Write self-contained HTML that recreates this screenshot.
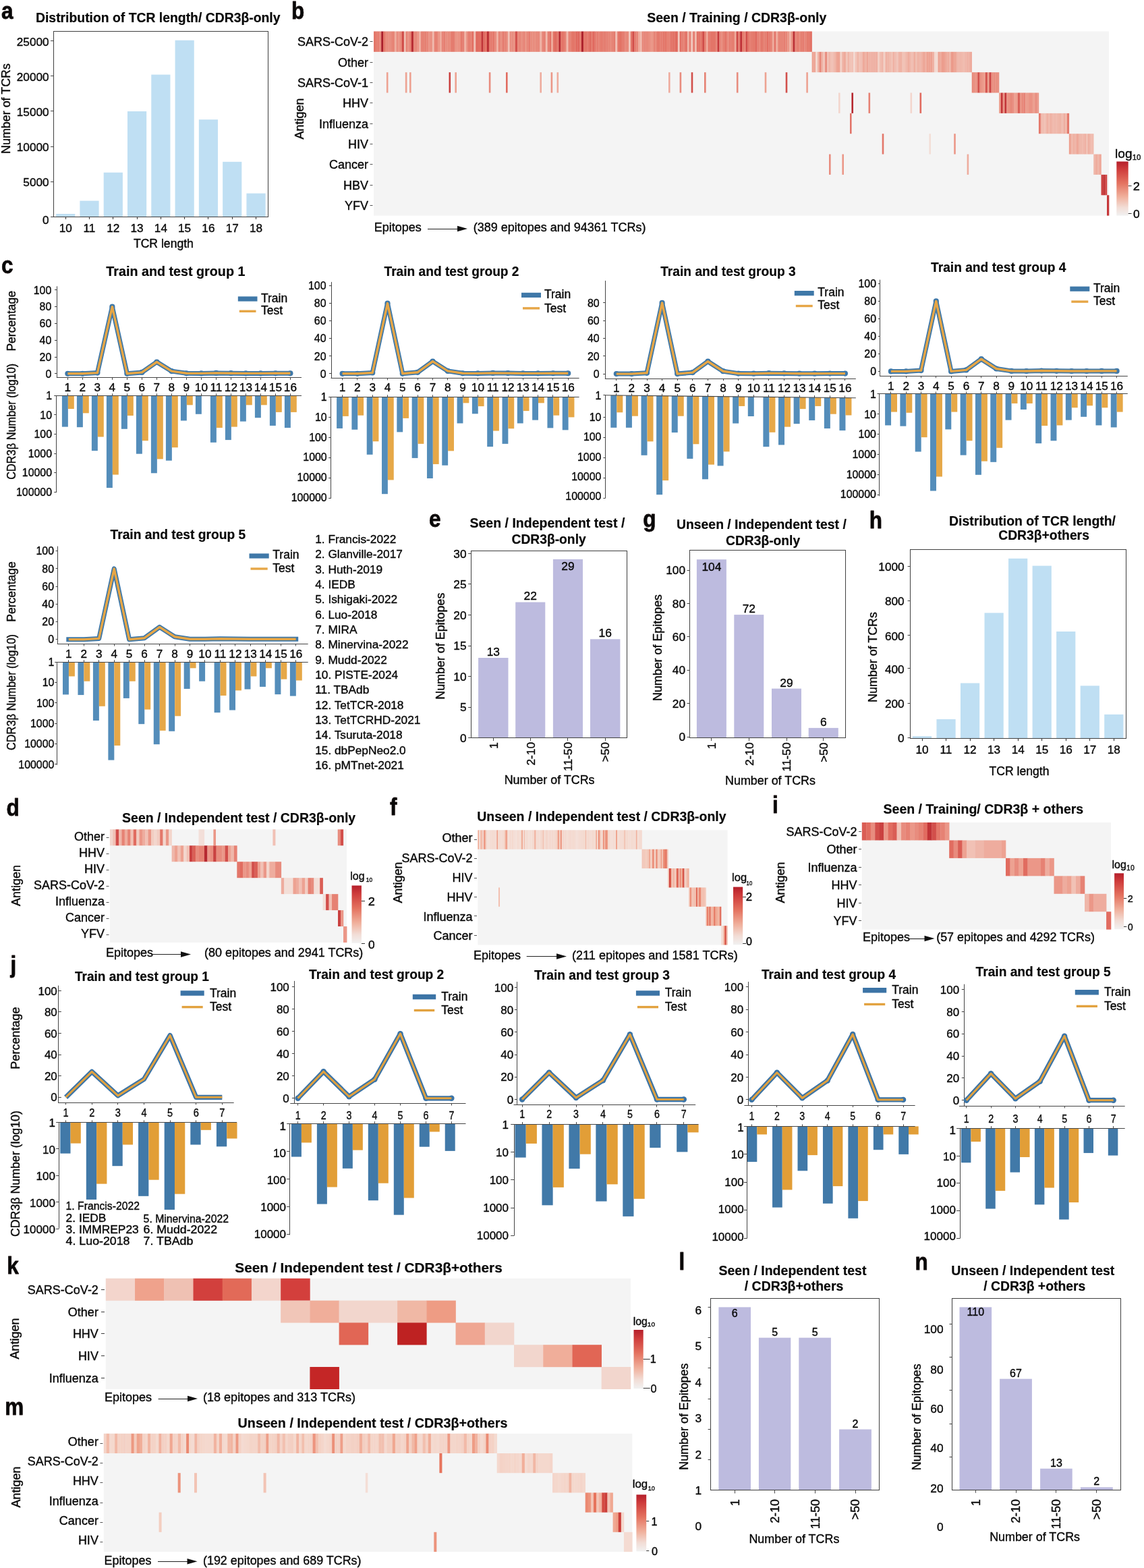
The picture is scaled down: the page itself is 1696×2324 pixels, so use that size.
<!DOCTYPE html>
<html lang="en"><head><meta charset="utf-8"><title>TCR dataset overview</title>
<style>
html,body{margin:0;padding:0;background:#fff}
svg{display:block}
text{font-family:'Liberation Sans', sans-serif;fill:#080808;stroke:#080808;stroke-width:0.38px;stroke-linejoin:round}
text[font-weight=bold]{stroke-width:0.2px}
</style></head><body>
<svg width="1696" height="2324" viewBox="0 0 1696 2324" shape-rendering="auto">
<rect width="1696" height="2324" fill="#ffffff"/>
<defs>
<linearGradient id="cb" x1="0" y1="0" x2="0" y2="1">
<stop offset="0" stop-color="#b51f2b"/><stop offset="0.15" stop-color="#cf3d3c"/><stop offset="0.4" stop-color="#e47360"/><stop offset="0.65" stop-color="#f0b09c"/><stop offset="0.85" stop-color="#f2ddd6"/><stop offset="1" stop-color="#f1f1f1"/>
</linearGradient>
</defs>
<text transform="translate(1.9,27.5) scale(0.9,1)" font-size="35" font-weight="bold" fill="#1a1010" stroke="#1a1010" stroke-width="0.8" style="stroke-width:0.8px;stroke:#1a1010">a</text>
<text x="53.0" y="32.6" font-size="19.4" font-weight="bold" textLength="362.5" lengthAdjust="spacingAndGlyphs">Distribution of TCR length/ CDR3β-only</text>
<rect x="83.10" y="317.00" width="28.20" height="4.00" fill="#bfdff3" />
<rect x="118.39" y="297.60" width="28.20" height="23.40" fill="#bfdff3" />
<rect x="153.68" y="255.70" width="28.20" height="65.30" fill="#bfdff3" />
<rect x="188.97" y="165.00" width="28.20" height="156.00" fill="#bfdff3" />
<rect x="224.26" y="110.60" width="28.20" height="210.40" fill="#bfdff3" />
<rect x="259.55" y="59.70" width="28.20" height="261.30" fill="#bfdff3" />
<rect x="294.84" y="177.20" width="28.20" height="143.80" fill="#bfdff3" />
<rect x="330.13" y="239.80" width="28.20" height="81.20" fill="#bfdff3" />
<rect x="365.42" y="286.60" width="28.20" height="34.40" fill="#bfdff3" />
<rect x="79.5" y="46.5" width="318.0" height="275.0" fill="none" stroke="#454545" stroke-width="1.05"/>
<line x1="75.1" y1="60.5" x2="79.1" y2="60.5" stroke="#454545" stroke-width="1.0" />
<text x="72.6" y="67.7" font-size="17.2" text-anchor="end">25000</text>
<line x1="75.1" y1="112.5" x2="79.1" y2="112.5" stroke="#454545" stroke-width="1.0" />
<text x="72.6" y="119.7" font-size="17.2" text-anchor="end">20000</text>
<line x1="75.1" y1="164.5" x2="79.1" y2="164.5" stroke="#454545" stroke-width="1.0" />
<text x="72.6" y="171.9" font-size="17.2" text-anchor="end">15000</text>
<line x1="75.1" y1="217.5" x2="79.1" y2="217.5" stroke="#454545" stroke-width="1.0" />
<text x="72.6" y="224.0" font-size="17.2" text-anchor="end">10000</text>
<line x1="75.1" y1="269.5" x2="79.1" y2="269.5" stroke="#454545" stroke-width="1.0" />
<text x="72.6" y="276.0" font-size="17.2" text-anchor="end">5000</text>
<line x1="75.1" y1="321.5" x2="79.1" y2="321.5" stroke="#454545" stroke-width="1.0" />
<text x="72.6" y="331.7" font-size="17.2" text-anchor="end">0</text>
<line x1="97.5" y1="321.0" x2="97.5" y2="325.0" stroke="#454545" stroke-width="1.2" />
<text x="97.2" y="343.5" font-size="17.2" text-anchor="middle">10</text>
<line x1="132.5" y1="321.0" x2="132.5" y2="325.0" stroke="#454545" stroke-width="1.2" />
<text x="132.5" y="343.5" font-size="17.2" text-anchor="middle">11</text>
<line x1="167.5" y1="321.0" x2="167.5" y2="325.0" stroke="#454545" stroke-width="1.2" />
<text x="167.8" y="343.5" font-size="17.2" text-anchor="middle">12</text>
<line x1="203.5" y1="321.0" x2="203.5" y2="325.0" stroke="#454545" stroke-width="1.2" />
<text x="203.1" y="343.5" font-size="17.2" text-anchor="middle">13</text>
<line x1="238.5" y1="321.0" x2="238.5" y2="325.0" stroke="#454545" stroke-width="1.2" />
<text x="238.4" y="343.5" font-size="17.2" text-anchor="middle">14</text>
<line x1="273.5" y1="321.0" x2="273.5" y2="325.0" stroke="#454545" stroke-width="1.2" />
<text x="273.6" y="343.5" font-size="17.2" text-anchor="middle">15</text>
<line x1="308.5" y1="321.0" x2="308.5" y2="325.0" stroke="#454545" stroke-width="1.2" />
<text x="308.9" y="343.5" font-size="17.2" text-anchor="middle">16</text>
<line x1="344.5" y1="321.0" x2="344.5" y2="325.0" stroke="#454545" stroke-width="1.2" />
<text x="344.2" y="343.5" font-size="17.2" text-anchor="middle">17</text>
<line x1="379.5" y1="321.0" x2="379.5" y2="325.0" stroke="#454545" stroke-width="1.2" />
<text x="379.5" y="343.5" font-size="17.2" text-anchor="middle">18</text>
<text x="242.4" y="367.0" font-size="17.6" text-anchor="middle">TCR length</text>
<text font-size="17.9" text-anchor="middle" transform="translate(14.5,161.0) rotate(-90)">Number of TCRs</text>
<text transform="translate(1288.7,782.8) scale(0.9,1)" font-size="35" font-weight="bold" fill="#1a1010" stroke="#1a1010" stroke-width="0.8" style="stroke-width:0.8px;stroke:#1a1010">h</text>
<text x="1407.0" y="778.6" font-size="19.4" font-weight="bold" textLength="247.0" lengthAdjust="spacingAndGlyphs">Distribution of TCR length/</text>
<text x="1480.2" y="799.9" font-size="19.4" font-weight="bold" textLength="134.7" lengthAdjust="spacingAndGlyphs">CDR3β+others</text>
<rect x="1352.90" y="1091.20" width="28.20" height="3.00" fill="#bfdff3" />
<rect x="1388.44" y="1066.00" width="28.20" height="28.20" fill="#bfdff3" />
<rect x="1423.98" y="1012.50" width="28.20" height="81.70" fill="#bfdff3" />
<rect x="1459.52" y="908.40" width="28.20" height="185.80" fill="#bfdff3" />
<rect x="1495.06" y="827.80" width="28.20" height="266.40" fill="#bfdff3" />
<rect x="1530.60" y="838.60" width="28.20" height="255.60" fill="#bfdff3" />
<rect x="1566.14" y="936.00" width="28.20" height="158.20" fill="#bfdff3" />
<rect x="1601.68" y="1016.40" width="28.20" height="77.80" fill="#bfdff3" />
<rect x="1637.22" y="1058.90" width="28.20" height="35.30" fill="#bfdff3" />
<rect x="1349.5" y="814.5" width="320.0" height="280.0" fill="none" stroke="#454545" stroke-width="1.05"/>
<line x1="1345.6" y1="839.5" x2="1349.6" y2="839.5" stroke="#454545" stroke-width="1.0" />
<text x="1340.6" y="846.4" font-size="17.2" text-anchor="end">1000</text>
<line x1="1345.6" y1="890.5" x2="1349.6" y2="890.5" stroke="#454545" stroke-width="1.0" />
<text x="1340.6" y="897.4" font-size="17.2" text-anchor="end">800</text>
<line x1="1345.6" y1="941.5" x2="1349.6" y2="941.5" stroke="#454545" stroke-width="1.0" />
<text x="1340.6" y="948.5" font-size="17.2" text-anchor="end">600</text>
<line x1="1345.6" y1="990.5" x2="1349.6" y2="990.5" stroke="#454545" stroke-width="1.0" />
<text x="1340.6" y="997.6" font-size="17.2" text-anchor="end">400</text>
<line x1="1345.6" y1="1042.5" x2="1349.6" y2="1042.5" stroke="#454545" stroke-width="1.0" />
<text x="1340.6" y="1049.3" font-size="17.2" text-anchor="end">200</text>
<line x1="1345.6" y1="1093.5" x2="1349.6" y2="1093.5" stroke="#454545" stroke-width="1.0" />
<text x="1340.6" y="1100.3" font-size="17.2" text-anchor="end">0</text>
<line x1="1367.5" y1="1094.2" x2="1367.5" y2="1098.2" stroke="#454545" stroke-width="1.2" />
<text x="1367.0" y="1116.8" font-size="17.2" text-anchor="middle">10</text>
<line x1="1402.5" y1="1094.2" x2="1402.5" y2="1098.2" stroke="#454545" stroke-width="1.2" />
<text x="1402.5" y="1116.8" font-size="17.2" text-anchor="middle">11</text>
<line x1="1438.5" y1="1094.2" x2="1438.5" y2="1098.2" stroke="#454545" stroke-width="1.2" />
<text x="1438.1" y="1116.8" font-size="17.2" text-anchor="middle">12</text>
<line x1="1473.5" y1="1094.2" x2="1473.5" y2="1098.2" stroke="#454545" stroke-width="1.2" />
<text x="1473.6" y="1116.8" font-size="17.2" text-anchor="middle">13</text>
<line x1="1509.5" y1="1094.2" x2="1509.5" y2="1098.2" stroke="#454545" stroke-width="1.2" />
<text x="1509.2" y="1116.8" font-size="17.2" text-anchor="middle">14</text>
<line x1="1544.5" y1="1094.2" x2="1544.5" y2="1098.2" stroke="#454545" stroke-width="1.2" />
<text x="1544.7" y="1116.8" font-size="17.2" text-anchor="middle">15</text>
<line x1="1580.5" y1="1094.2" x2="1580.5" y2="1098.2" stroke="#454545" stroke-width="1.2" />
<text x="1580.2" y="1116.8" font-size="17.2" text-anchor="middle">16</text>
<line x1="1615.5" y1="1094.2" x2="1615.5" y2="1098.2" stroke="#454545" stroke-width="1.2" />
<text x="1615.8" y="1116.8" font-size="17.2" text-anchor="middle">17</text>
<line x1="1651.5" y1="1094.2" x2="1651.5" y2="1098.2" stroke="#454545" stroke-width="1.2" />
<text x="1651.3" y="1116.8" font-size="17.2" text-anchor="middle">18</text>
<text x="1511.0" y="1148.5" font-size="17.6" text-anchor="middle">TCR length</text>
<text font-size="17.9" text-anchor="middle" transform="translate(1300.0,974.0) rotate(-90)">Number of TCRs</text>
<text transform="translate(431.9,27.9) scale(0.9,1)" font-size="35" font-weight="bold" fill="#1a1010" stroke="#1a1010" stroke-width="0.8" style="stroke-width:0.8px;stroke:#1a1010">b</text>
<text x="959.3" y="33.0" font-size="19.4" font-weight="bold" textLength="266.0" lengthAdjust="spacingAndGlyphs">Seen / Training / CDR3β-only</text>
<rect x="554.00" y="46.50" width="1090.00" height="273.10" fill="#f4f4f4" />
<rect x="554.00" y="46.50" width="3.10" height="30.34" fill="#e37669" />
<rect x="556.80" y="46.50" width="3.10" height="30.34" fill="#e57e70" />
<rect x="559.60" y="46.50" width="3.10" height="30.34" fill="#e57c6f" />
<rect x="562.40" y="46.50" width="3.10" height="30.34" fill="#e88a7c" />
<rect x="565.20" y="46.50" width="3.10" height="30.34" fill="#ab1f2b" />
<rect x="568.00" y="46.50" width="3.10" height="30.34" fill="#e3776a" />
<rect x="570.80" y="46.50" width="3.10" height="30.34" fill="#e88b7c" />
<rect x="573.60" y="46.50" width="3.10" height="30.34" fill="#e88d7e" />
<rect x="576.40" y="46.50" width="3.10" height="30.34" fill="#e88c7e" />
<rect x="579.20" y="46.50" width="3.10" height="30.34" fill="#e78678" />
<rect x="582.00" y="46.50" width="3.10" height="30.34" fill="#e68375" />
<rect x="584.80" y="46.50" width="3.10" height="30.34" fill="#eeae9f" />
<rect x="587.60" y="46.50" width="3.10" height="30.34" fill="#e88b7d" />
<rect x="590.40" y="46.50" width="3.10" height="30.34" fill="#ea9485" />
<rect x="593.20" y="46.50" width="3.10" height="30.34" fill="#e68375" />
<rect x="596.00" y="46.50" width="3.10" height="30.34" fill="#cf4a47" />
<rect x="598.80" y="46.50" width="3.10" height="30.34" fill="#f0beb1" />
<rect x="601.60" y="46.50" width="3.10" height="30.34" fill="#e68274" />
<rect x="604.40" y="46.50" width="3.10" height="30.34" fill="#e99283" />
<rect x="607.20" y="46.50" width="3.10" height="30.34" fill="#e47b6e" />
<rect x="610.00" y="46.50" width="3.10" height="30.34" fill="#b72a32" />
<rect x="612.80" y="46.50" width="3.10" height="30.34" fill="#e7887a" />
<rect x="615.60" y="46.50" width="3.10" height="30.34" fill="#e78678" />
<rect x="618.40" y="46.50" width="3.10" height="30.34" fill="#ea9284" />
<rect x="621.20" y="46.50" width="3.10" height="30.34" fill="#efafa1" />
<rect x="624.00" y="46.50" width="3.10" height="30.34" fill="#e68275" />
<rect x="626.80" y="46.50" width="3.10" height="30.34" fill="#e68375" />
<rect x="629.60" y="46.50" width="3.10" height="30.34" fill="#e58072" />
<rect x="632.40" y="46.50" width="3.10" height="30.34" fill="#e78577" />
<rect x="635.20" y="46.50" width="3.10" height="30.34" fill="#ea9586" />
<rect x="638.00" y="46.50" width="3.10" height="30.34" fill="#e99082" />
<rect x="640.80" y="46.50" width="3.10" height="30.34" fill="#f0baae" />
<rect x="643.60" y="46.50" width="5.90" height="30.34" fill="#e68274" />
<rect x="649.20" y="46.50" width="3.10" height="30.34" fill="#ea9384" />
<rect x="652.00" y="46.50" width="3.10" height="30.34" fill="#eeac9e" />
<rect x="654.80" y="46.50" width="3.10" height="30.34" fill="#e78578" />
<rect x="657.60" y="46.50" width="3.10" height="30.34" fill="#e57f72" />
<rect x="660.40" y="46.50" width="3.10" height="30.34" fill="#e88d7f" />
<rect x="663.20" y="46.50" width="3.10" height="30.34" fill="#e88b7c" />
<rect x="666.00" y="46.50" width="3.10" height="30.34" fill="#e88d7f" />
<rect x="668.80" y="46.50" width="3.10" height="30.34" fill="#e4796c" />
<rect x="671.60" y="46.50" width="3.10" height="30.34" fill="#e47b6e" />
<rect x="674.40" y="46.50" width="3.10" height="30.34" fill="#e99182" />
<rect x="677.20" y="46.50" width="5.90" height="30.34" fill="#ea9384" />
<rect x="682.80" y="46.50" width="3.10" height="30.34" fill="#e4796c" />
<rect x="685.60" y="46.50" width="3.10" height="30.34" fill="#e58073" />
<rect x="688.40" y="46.50" width="3.10" height="30.34" fill="#efb3a5" />
<rect x="691.20" y="46.50" width="3.10" height="30.34" fill="#e88d7f" />
<rect x="694.00" y="46.50" width="3.10" height="30.34" fill="#e57d70" />
<rect x="696.80" y="46.50" width="3.10" height="30.34" fill="#e78577" />
<rect x="699.60" y="46.50" width="3.10" height="30.34" fill="#e26e62" />
<rect x="702.40" y="46.50" width="3.10" height="30.34" fill="#f0bfb3" />
<rect x="705.20" y="46.50" width="3.10" height="30.34" fill="#e0695e" />
<rect x="708.00" y="46.50" width="3.10" height="30.34" fill="#e16e62" />
<rect x="710.80" y="46.50" width="3.10" height="30.34" fill="#e27164" />
<rect x="713.60" y="46.50" width="3.10" height="30.34" fill="#c13337" />
<rect x="716.40" y="46.50" width="3.10" height="30.34" fill="#e06a5f" />
<rect x="719.20" y="46.50" width="3.10" height="30.34" fill="#e27063" />
<rect x="722.00" y="46.50" width="3.10" height="30.34" fill="#ba2d33" />
<rect x="724.80" y="46.50" width="3.10" height="30.34" fill="#e47a6d" />
<rect x="727.60" y="46.50" width="3.10" height="30.34" fill="#e57c6f" />
<rect x="730.40" y="46.50" width="3.10" height="30.34" fill="#e37568" />
<rect x="733.20" y="46.50" width="3.10" height="30.34" fill="#e88b7c" />
<rect x="736.00" y="46.50" width="3.10" height="30.34" fill="#efb4a7" />
<rect x="738.80" y="46.50" width="3.10" height="30.34" fill="#e68274" />
<rect x="741.60" y="46.50" width="3.10" height="30.34" fill="#e99081" />
<rect x="744.40" y="46.50" width="3.10" height="30.34" fill="#e47a6d" />
<rect x="747.20" y="46.50" width="3.10" height="30.34" fill="#e68476" />
<rect x="750.00" y="46.50" width="3.10" height="30.34" fill="#e88b7d" />
<rect x="752.80" y="46.50" width="3.10" height="30.34" fill="#f1c2b6" />
<rect x="755.60" y="46.50" width="3.10" height="30.34" fill="#e88c7e" />
<rect x="758.40" y="46.50" width="3.10" height="30.34" fill="#e88d7f" />
<rect x="761.20" y="46.50" width="3.10" height="30.34" fill="#e99081" />
<rect x="764.00" y="46.50" width="3.10" height="30.34" fill="#d24f4b" />
<rect x="766.80" y="46.50" width="3.10" height="30.34" fill="#e88a7c" />
<rect x="769.60" y="46.50" width="3.10" height="30.34" fill="#e68375" />
<rect x="772.40" y="46.50" width="3.10" height="30.34" fill="#e88e7f" />
<rect x="775.20" y="46.50" width="3.10" height="30.34" fill="#e68376" />
<rect x="778.00" y="46.50" width="3.10" height="30.34" fill="#ea9687" />
<rect x="780.80" y="46.50" width="3.10" height="30.34" fill="#e7887a" />
<rect x="783.60" y="46.50" width="3.10" height="30.34" fill="#e57c6f" />
<rect x="786.40" y="46.50" width="3.10" height="30.34" fill="#e88c7d" />
<rect x="789.20" y="46.50" width="3.10" height="30.34" fill="#e88c7e" />
<rect x="792.00" y="46.50" width="3.10" height="30.34" fill="#e99182" />
<rect x="794.80" y="46.50" width="3.10" height="30.34" fill="#e7887a" />
<rect x="797.60" y="46.50" width="3.10" height="30.34" fill="#e78779" />
<rect x="800.40" y="46.50" width="3.10" height="30.34" fill="#efb2a4" />
<rect x="803.20" y="46.50" width="3.10" height="30.34" fill="#e78578" />
<rect x="806.00" y="46.50" width="3.10" height="30.34" fill="#e68174" />
<rect x="808.80" y="46.50" width="3.10" height="30.34" fill="#f0bbaf" />
<rect x="811.60" y="46.50" width="3.10" height="30.34" fill="#e57e71" />
<rect x="814.40" y="46.50" width="3.10" height="30.34" fill="#e27064" />
<rect x="817.20" y="46.50" width="3.10" height="30.34" fill="#eea99a" />
<rect x="820.00" y="46.50" width="3.10" height="30.34" fill="#e27064" />
<rect x="822.80" y="46.50" width="3.10" height="30.34" fill="#e06b5f" />
<rect x="825.60" y="46.50" width="3.10" height="30.34" fill="#e47b6e" />
<rect x="828.40" y="46.50" width="3.10" height="30.34" fill="#b72a31" />
<rect x="831.20" y="46.50" width="3.10" height="30.34" fill="#e37568" />
<rect x="834.00" y="46.50" width="3.10" height="30.34" fill="#e4776b" />
<rect x="836.80" y="46.50" width="3.10" height="30.34" fill="#e68375" />
<rect x="839.60" y="46.50" width="3.10" height="30.34" fill="#f0baad" />
<rect x="842.40" y="46.50" width="3.10" height="30.34" fill="#e68274" />
<rect x="845.20" y="46.50" width="3.10" height="30.34" fill="#e57d6f" />
<rect x="848.00" y="46.50" width="3.10" height="30.34" fill="#e37568" />
<rect x="850.80" y="46.50" width="3.10" height="30.34" fill="#e4796c" />
<rect x="853.60" y="46.50" width="3.10" height="30.34" fill="#e0695e" />
<rect x="856.40" y="46.50" width="3.10" height="30.34" fill="#df675d" />
<rect x="859.20" y="46.50" width="3.10" height="30.34" fill="#e47b6e" />
<rect x="862.00" y="46.50" width="3.10" height="30.34" fill="#ac202b" />
<rect x="864.80" y="46.50" width="3.10" height="30.34" fill="#e37669" />
<rect x="867.60" y="46.50" width="3.10" height="30.34" fill="#e37467" />
<rect x="870.40" y="46.50" width="3.10" height="30.34" fill="#e4796c" />
<rect x="873.20" y="46.50" width="3.10" height="30.34" fill="#df695e" />
<rect x="876.00" y="46.50" width="3.10" height="30.34" fill="#e57d70" />
<rect x="878.80" y="46.50" width="3.10" height="30.34" fill="#e0695e" />
<rect x="881.60" y="46.50" width="3.10" height="30.34" fill="#e57d70" />
<rect x="884.40" y="46.50" width="3.10" height="30.34" fill="#e57c6f" />
<rect x="887.20" y="46.50" width="3.10" height="30.34" fill="#e68274" />
<rect x="890.00" y="46.50" width="3.10" height="30.34" fill="#e57c6f" />
<rect x="892.80" y="46.50" width="3.10" height="30.34" fill="#e57f72" />
<rect x="895.60" y="46.50" width="3.10" height="30.34" fill="#e47b6e" />
<rect x="898.40" y="46.50" width="3.10" height="30.34" fill="#e57f72" />
<rect x="901.20" y="46.50" width="3.10" height="30.34" fill="#e68476" />
<rect x="904.00" y="46.50" width="3.10" height="30.34" fill="#e88d7f" />
<rect x="906.80" y="46.50" width="3.10" height="30.34" fill="#e68476" />
<rect x="909.60" y="46.50" width="3.10" height="30.34" fill="#e47a6d" />
<rect x="912.40" y="46.50" width="3.10" height="30.34" fill="#f1c0b5" />
<rect x="915.20" y="46.50" width="3.10" height="30.34" fill="#e4786b" />
<rect x="918.00" y="46.50" width="3.10" height="30.34" fill="#e27265" />
<rect x="920.80" y="46.50" width="3.10" height="30.34" fill="#e4796c" />
<rect x="923.60" y="46.50" width="3.10" height="30.34" fill="#e57c6f" />
<rect x="926.40" y="46.50" width="5.90" height="30.34" fill="#e7897b" />
<rect x="932.00" y="46.50" width="3.10" height="30.34" fill="#f1c8bd" />
<rect x="934.80" y="46.50" width="3.10" height="30.34" fill="#e37568" />
<rect x="937.60" y="46.50" width="3.10" height="30.34" fill="#d14d49" />
<rect x="940.40" y="46.50" width="3.10" height="30.34" fill="#e57e70" />
<rect x="943.20" y="46.50" width="3.10" height="30.34" fill="#e78678" />
<rect x="946.00" y="46.50" width="3.10" height="30.34" fill="#eeab9c" />
<rect x="948.80" y="46.50" width="3.10" height="30.34" fill="#f0bbaf" />
<rect x="951.60" y="46.50" width="3.10" height="30.34" fill="#e7887a" />
<rect x="954.40" y="46.50" width="3.10" height="30.34" fill="#e78578" />
<rect x="957.20" y="46.50" width="3.10" height="30.34" fill="#e78678" />
<rect x="960.00" y="46.50" width="3.10" height="30.34" fill="#e88c7e" />
<rect x="962.80" y="46.50" width="3.10" height="30.34" fill="#ea9384" />
<rect x="965.60" y="46.50" width="3.10" height="30.34" fill="#ea9787" />
<rect x="968.40" y="46.50" width="3.10" height="30.34" fill="#e68274" />
<rect x="971.20" y="46.50" width="3.10" height="30.34" fill="#e78779" />
<rect x="974.00" y="46.50" width="3.10" height="30.34" fill="#e4796c" />
<rect x="976.80" y="46.50" width="3.10" height="30.34" fill="#e57f71" />
<rect x="979.60" y="46.50" width="3.10" height="30.34" fill="#e57d70" />
<rect x="982.40" y="46.50" width="3.10" height="30.34" fill="#e37669" />
<rect x="985.20" y="46.50" width="3.10" height="30.34" fill="#e37568" />
<rect x="988.00" y="46.50" width="3.10" height="30.34" fill="#e68274" />
<rect x="990.80" y="46.50" width="3.10" height="30.34" fill="#e68476" />
<rect x="993.60" y="46.50" width="3.10" height="30.34" fill="#e37367" />
<rect x="996.40" y="46.50" width="3.10" height="30.34" fill="#e27063" />
<rect x="999.20" y="46.50" width="3.10" height="30.34" fill="#e27265" />
<rect x="1002.00" y="46.50" width="3.10" height="30.34" fill="#df685d" />
<rect x="1004.80" y="46.50" width="3.10" height="30.34" fill="#f2cbc0" />
<rect x="1007.60" y="46.50" width="3.10" height="30.34" fill="#e16e62" />
<rect x="1010.40" y="46.50" width="3.10" height="30.34" fill="#e58072" />
<rect x="1013.20" y="46.50" width="3.10" height="30.34" fill="#e68073" />
<rect x="1016.00" y="46.50" width="3.10" height="30.34" fill="#e27266" />
<rect x="1018.80" y="46.50" width="3.10" height="30.34" fill="#efb5a8" />
<rect x="1021.60" y="46.50" width="3.10" height="30.34" fill="#e57e70" />
<rect x="1024.40" y="46.50" width="3.10" height="30.34" fill="#f1c6bb" />
<rect x="1027.20" y="46.50" width="3.10" height="30.34" fill="#e57c6f" />
<rect x="1030.00" y="46.50" width="3.10" height="30.34" fill="#f0bdb0" />
<rect x="1032.80" y="46.50" width="3.10" height="30.34" fill="#e27165" />
<rect x="1035.60" y="46.50" width="3.10" height="30.34" fill="#e37366" />
<rect x="1038.40" y="46.50" width="3.10" height="30.34" fill="#e37568" />
<rect x="1041.20" y="46.50" width="3.10" height="30.34" fill="#d04c48" />
<rect x="1044.00" y="46.50" width="3.10" height="30.34" fill="#e58072" />
<rect x="1046.80" y="46.50" width="3.10" height="30.34" fill="#eeaa9b" />
<rect x="1049.60" y="46.50" width="3.10" height="30.34" fill="#e37669" />
<rect x="1052.40" y="46.50" width="8.70" height="30.34" fill="#e37568" />
<rect x="1060.80" y="46.50" width="3.10" height="30.34" fill="#e7887a" />
<rect x="1063.60" y="46.50" width="3.10" height="30.34" fill="#c6393b" />
<rect x="1066.40" y="46.50" width="3.10" height="30.34" fill="#e78678" />
<rect x="1069.20" y="46.50" width="3.10" height="30.34" fill="#e88b7c" />
<rect x="1072.00" y="46.50" width="3.10" height="30.34" fill="#e58072" />
<rect x="1074.80" y="46.50" width="3.10" height="30.34" fill="#e37468" />
<rect x="1077.60" y="46.50" width="3.10" height="30.34" fill="#e88c7e" />
<rect x="1080.40" y="46.50" width="3.10" height="30.34" fill="#e57c6f" />
<rect x="1083.20" y="46.50" width="5.90" height="30.34" fill="#e57e70" />
<rect x="1088.80" y="46.50" width="3.10" height="30.34" fill="#eeab9c" />
<rect x="1091.60" y="46.50" width="3.10" height="30.34" fill="#ce4745" />
<rect x="1094.40" y="46.50" width="3.10" height="30.34" fill="#e57e71" />
<rect x="1097.20" y="46.50" width="3.10" height="30.34" fill="#bf3136" />
<rect x="1100.00" y="46.50" width="3.10" height="30.34" fill="#e57c6f" />
<rect x="1102.80" y="46.50" width="3.10" height="30.34" fill="#e78779" />
<rect x="1105.60" y="46.50" width="3.10" height="30.34" fill="#d14d49" />
<rect x="1108.40" y="46.50" width="3.10" height="30.34" fill="#e37568" />
<rect x="1111.20" y="46.50" width="3.10" height="30.34" fill="#e57e71" />
<rect x="1114.00" y="46.50" width="3.10" height="30.34" fill="#e47b6e" />
<rect x="1116.80" y="46.50" width="3.10" height="30.34" fill="#e4786b" />
<rect x="1119.60" y="46.50" width="3.10" height="30.34" fill="#df695e" />
<rect x="1122.40" y="46.50" width="3.10" height="30.34" fill="#e57f72" />
<rect x="1125.20" y="46.50" width="3.10" height="30.34" fill="#e78577" />
<rect x="1128.00" y="46.50" width="3.10" height="30.34" fill="#e3776a" />
<rect x="1130.80" y="46.50" width="3.10" height="30.34" fill="#e68274" />
<rect x="1133.60" y="46.50" width="3.10" height="30.34" fill="#e57f72" />
<rect x="1136.40" y="46.50" width="3.10" height="30.34" fill="#e26f63" />
<rect x="1139.20" y="46.50" width="3.10" height="30.34" fill="#e57c6f" />
<rect x="1142.00" y="46.50" width="3.10" height="30.34" fill="#e68476" />
<rect x="1144.80" y="46.50" width="3.10" height="30.34" fill="#eeab9d" />
<rect x="1147.60" y="46.50" width="3.10" height="30.34" fill="#e37367" />
<rect x="1150.40" y="46.50" width="3.10" height="30.34" fill="#eeac9d" />
<rect x="1153.20" y="46.50" width="3.10" height="30.34" fill="#e68476" />
<rect x="1156.00" y="46.50" width="3.10" height="30.34" fill="#e78577" />
<rect x="1158.80" y="46.50" width="3.10" height="30.34" fill="#e78578" />
<rect x="1161.60" y="46.50" width="3.10" height="30.34" fill="#e57e71" />
<rect x="1164.40" y="46.50" width="3.10" height="30.34" fill="#e78577" />
<rect x="1167.20" y="46.50" width="3.10" height="30.34" fill="#ea9788" />
<rect x="1170.00" y="46.50" width="3.10" height="30.34" fill="#efb5a7" />
<rect x="1172.80" y="46.50" width="3.10" height="30.34" fill="#e99182" />
<rect x="1175.60" y="46.50" width="3.10" height="30.34" fill="#bb2e34" />
<rect x="1178.40" y="46.50" width="3.10" height="30.34" fill="#e78678" />
<rect x="1181.20" y="46.50" width="3.10" height="30.34" fill="#e57c6f" />
<rect x="1184.00" y="46.50" width="3.10" height="30.34" fill="#e88c7e" />
<rect x="1186.80" y="46.50" width="3.10" height="30.34" fill="#e57f71" />
<rect x="1189.60" y="46.50" width="3.10" height="30.34" fill="#e57c6f" />
<rect x="1192.40" y="46.50" width="3.10" height="30.34" fill="#e78679" />
<rect x="1195.20" y="46.50" width="3.10" height="30.34" fill="#e47b6d" />
<rect x="1198.00" y="46.50" width="3.10" height="30.34" fill="#e57c6f" />
<rect x="1200.80" y="46.50" width="3.10" height="30.34" fill="#e37367" />
<text x="546.0" y="68.2" font-size="18" text-anchor="end">SARS-CoV-2</text>
<line x1="548.5" y1="61.5" x2="552.5" y2="61.5" stroke="#555" stroke-width="1.0" />
<rect x="1203.60" y="76.84" width="3.09" height="30.34" fill="#eda393" />
<rect x="1206.39" y="76.84" width="3.09" height="30.34" fill="#eda596" />
<rect x="1209.18" y="76.84" width="3.09" height="30.34" fill="#f3d8cf" />
<rect x="1211.97" y="76.84" width="3.09" height="30.34" fill="#efb4a7" />
<rect x="1214.76" y="76.84" width="3.09" height="30.34" fill="#e78779" />
<rect x="1217.55" y="76.84" width="3.09" height="30.34" fill="#efb2a5" />
<rect x="1220.34" y="76.84" width="3.09" height="30.34" fill="#f1c5ba" />
<rect x="1223.13" y="76.84" width="3.09" height="30.34" fill="#e88b7d" />
<rect x="1225.92" y="76.84" width="3.09" height="30.34" fill="#f1c2b7" />
<rect x="1228.70" y="76.84" width="3.09" height="30.34" fill="#efb6a9" />
<rect x="1231.49" y="76.84" width="3.09" height="30.34" fill="#f1c1b5" />
<rect x="1234.28" y="76.84" width="3.09" height="30.34" fill="#f0bcb0" />
<rect x="1237.07" y="76.84" width="3.09" height="30.34" fill="#efb4a6" />
<rect x="1239.86" y="76.84" width="3.09" height="30.34" fill="#eda494" />
<rect x="1242.65" y="76.84" width="3.09" height="30.34" fill="#eda292" />
<rect x="1245.44" y="76.84" width="3.09" height="30.34" fill="#f2d0c6" />
<rect x="1248.23" y="76.84" width="3.09" height="30.34" fill="#efb2a4" />
<rect x="1251.02" y="76.84" width="3.09" height="30.34" fill="#eeaa9b" />
<rect x="1253.81" y="76.84" width="3.09" height="30.34" fill="#f1c5ba" />
<rect x="1256.60" y="76.84" width="3.09" height="30.34" fill="#efb4a7" />
<rect x="1259.39" y="76.84" width="3.09" height="30.34" fill="#f1c2b6" />
<rect x="1262.18" y="76.84" width="3.09" height="30.34" fill="#f1c1b5" />
<rect x="1264.97" y="76.84" width="3.09" height="30.34" fill="#f3dad2" />
<rect x="1267.76" y="76.84" width="3.09" height="30.34" fill="#f1c3b8" />
<rect x="1270.55" y="76.84" width="3.09" height="30.34" fill="#efb4a6" />
<rect x="1273.34" y="76.84" width="3.09" height="30.34" fill="#f1c1b5" />
<rect x="1276.12" y="76.84" width="3.09" height="30.34" fill="#f0bdb1" />
<rect x="1278.91" y="76.84" width="3.09" height="30.34" fill="#eea99a" />
<rect x="1281.70" y="76.84" width="3.09" height="30.34" fill="#efb4a6" />
<rect x="1284.49" y="76.84" width="3.09" height="30.34" fill="#eda697" />
<rect x="1287.28" y="76.84" width="3.09" height="30.34" fill="#efb3a5" />
<rect x="1290.07" y="76.84" width="3.09" height="30.34" fill="#efb3a6" />
<rect x="1292.86" y="76.84" width="3.09" height="30.34" fill="#efb2a5" />
<rect x="1295.65" y="76.84" width="3.09" height="30.34" fill="#efb1a4" />
<rect x="1298.44" y="76.84" width="3.09" height="30.34" fill="#eeaea0" />
<rect x="1301.23" y="76.84" width="3.09" height="30.34" fill="#f2cfc5" />
<rect x="1304.02" y="76.84" width="3.09" height="30.34" fill="#f0beb1" />
<rect x="1306.81" y="76.84" width="3.09" height="30.34" fill="#efb5a8" />
<rect x="1309.60" y="76.84" width="3.09" height="30.34" fill="#f2d0c6" />
<rect x="1312.39" y="76.84" width="3.09" height="30.34" fill="#efb1a3" />
<rect x="1315.18" y="76.84" width="3.09" height="30.34" fill="#efb5a7" />
<rect x="1317.97" y="76.84" width="3.09" height="30.34" fill="#f0bbae" />
<rect x="1320.76" y="76.84" width="3.09" height="30.34" fill="#f1c3b7" />
<rect x="1323.54" y="76.84" width="3.09" height="30.34" fill="#efb1a3" />
<rect x="1326.33" y="76.84" width="3.09" height="30.34" fill="#f0bcb0" />
<rect x="1329.12" y="76.84" width="3.09" height="30.34" fill="#f1c4b9" />
<rect x="1331.91" y="76.84" width="3.09" height="30.34" fill="#efb4a6" />
<rect x="1334.70" y="76.84" width="3.09" height="30.34" fill="#efb2a4" />
<rect x="1337.49" y="76.84" width="3.09" height="30.34" fill="#f1c2b6" />
<rect x="1340.28" y="76.84" width="3.09" height="30.34" fill="#f0beb1" />
<rect x="1343.07" y="76.84" width="3.09" height="30.34" fill="#efb7aa" />
<rect x="1345.86" y="76.84" width="3.09" height="30.34" fill="#eead9e" />
<rect x="1348.65" y="76.84" width="3.09" height="30.34" fill="#f0b9ac" />
<rect x="1351.44" y="76.84" width="3.09" height="30.34" fill="#f0beb2" />
<rect x="1354.23" y="76.84" width="3.09" height="30.34" fill="#eeae9f" />
<rect x="1357.02" y="76.84" width="3.09" height="30.34" fill="#f0bfb2" />
<rect x="1359.81" y="76.84" width="3.09" height="30.34" fill="#efb2a4" />
<rect x="1362.60" y="76.84" width="3.09" height="30.34" fill="#efb7aa" />
<rect x="1365.39" y="76.84" width="3.09" height="30.34" fill="#efb0a2" />
<rect x="1368.18" y="76.84" width="3.09" height="30.34" fill="#eda595" />
<rect x="1370.96" y="76.84" width="3.09" height="30.34" fill="#efb1a3" />
<rect x="1373.75" y="76.84" width="3.09" height="30.34" fill="#eda292" />
<rect x="1376.54" y="76.84" width="3.09" height="30.34" fill="#eda293" />
<rect x="1379.33" y="76.84" width="3.09" height="30.34" fill="#eda191" />
<rect x="1382.12" y="76.84" width="3.09" height="30.34" fill="#efb0a2" />
<rect x="1384.91" y="76.84" width="3.09" height="30.34" fill="#f3d8d0" />
<rect x="1387.70" y="76.84" width="3.09" height="30.34" fill="#f3dbd4" />
<rect x="1390.49" y="76.84" width="3.09" height="30.34" fill="#eda393" />
<rect x="1393.28" y="76.84" width="3.09" height="30.34" fill="#eea99a" />
<rect x="1396.07" y="76.84" width="3.09" height="30.34" fill="#ec9c8c" />
<rect x="1398.86" y="76.84" width="3.09" height="30.34" fill="#eda191" />
<rect x="1401.65" y="76.84" width="3.09" height="30.34" fill="#eeaa9b" />
<rect x="1404.44" y="76.84" width="3.09" height="30.34" fill="#eeab9c" />
<rect x="1407.23" y="76.84" width="3.09" height="30.34" fill="#efb5a7" />
<rect x="1410.02" y="76.84" width="3.09" height="30.34" fill="#eb9989" />
<rect x="1412.81" y="76.84" width="3.09" height="30.34" fill="#eda292" />
<rect x="1415.60" y="76.84" width="3.09" height="30.34" fill="#eda696" />
<rect x="1418.38" y="76.84" width="3.09" height="30.34" fill="#efb6a9" />
<rect x="1421.17" y="76.84" width="3.09" height="30.34" fill="#efb7aa" />
<rect x="1423.96" y="76.84" width="3.09" height="30.34" fill="#f0b8ab" />
<rect x="1426.75" y="76.84" width="3.09" height="30.34" fill="#f0bcaf" />
<rect x="1429.54" y="76.84" width="3.09" height="30.34" fill="#efb7aa" />
<rect x="1432.33" y="76.84" width="3.09" height="30.34" fill="#efb2a5" />
<rect x="1435.12" y="76.84" width="3.09" height="30.34" fill="#efb3a6" />
<rect x="1437.91" y="76.84" width="3.09" height="30.34" fill="#eeac9e" />
<text x="546.0" y="98.5" font-size="18" text-anchor="end">Other</text>
<line x1="548.5" y1="92.5" x2="552.5" y2="92.5" stroke="#555" stroke-width="1.0" />
<rect x="1440.70" y="107.19" width="3.18" height="30.34" fill="#e88a7b" />
<rect x="1443.58" y="107.19" width="3.18" height="30.34" fill="#e99283" />
<rect x="1446.46" y="107.19" width="3.18" height="30.34" fill="#ea9283" />
<rect x="1449.34" y="107.19" width="3.18" height="30.34" fill="#d3514c" />
<rect x="1452.21" y="107.19" width="3.18" height="30.34" fill="#e88d7e" />
<rect x="1455.09" y="107.19" width="3.18" height="30.34" fill="#eb9788" />
<rect x="1457.97" y="107.19" width="3.18" height="30.34" fill="#eda292" />
<rect x="1460.85" y="107.19" width="3.18" height="30.34" fill="#d4534e" />
<rect x="1463.73" y="107.19" width="3.18" height="30.34" fill="#ec9f8f" />
<rect x="1466.61" y="107.19" width="3.18" height="30.34" fill="#cd4644" />
<rect x="1469.49" y="107.19" width="3.18" height="30.34" fill="#e98f80" />
<rect x="1472.36" y="107.19" width="3.18" height="30.34" fill="#e88d7e" />
<rect x="1475.24" y="107.19" width="6.06" height="30.34" fill="#e99182" />
<text x="546.0" y="128.8" font-size="18" text-anchor="end">SARS-CoV-1</text>
<line x1="548.5" y1="122.5" x2="552.5" y2="122.5" stroke="#555" stroke-width="1.0" />
<rect x="1481.00" y="137.53" width="3.10" height="30.34" fill="#eda292" />
<rect x="1483.80" y="137.53" width="3.10" height="30.34" fill="#c33538" />
<rect x="1486.61" y="137.53" width="3.10" height="30.34" fill="#ea9586" />
<rect x="1489.41" y="137.53" width="3.10" height="30.34" fill="#c33538" />
<rect x="1492.22" y="137.53" width="3.10" height="30.34" fill="#ea9485" />
<rect x="1495.02" y="137.53" width="3.10" height="30.34" fill="#e99081" />
<rect x="1497.83" y="137.53" width="3.10" height="30.34" fill="#e78779" />
<rect x="1500.63" y="137.53" width="3.10" height="30.34" fill="#e98e80" />
<rect x="1503.44" y="137.53" width="3.10" height="30.34" fill="#eda191" />
<rect x="1506.24" y="137.53" width="3.10" height="30.34" fill="#eb9889" />
<rect x="1509.05" y="137.53" width="3.10" height="30.34" fill="#d95c54" />
<rect x="1511.85" y="137.53" width="3.10" height="30.34" fill="#ea9687" />
<rect x="1514.66" y="137.53" width="3.10" height="30.34" fill="#e8897b" />
<rect x="1517.46" y="137.53" width="3.10" height="30.34" fill="#e68376" />
<rect x="1520.27" y="137.53" width="3.10" height="30.34" fill="#ec9d8e" />
<rect x="1523.07" y="137.53" width="3.10" height="30.34" fill="#eb9b8b" />
<rect x="1525.88" y="137.53" width="3.10" height="30.34" fill="#ea9284" />
<rect x="1528.68" y="137.53" width="3.10" height="30.34" fill="#ea9485" />
<rect x="1531.49" y="137.53" width="3.10" height="30.34" fill="#ec9f8f" />
<rect x="1534.29" y="137.53" width="3.10" height="30.34" fill="#e88c7e" />
<rect x="1537.10" y="137.53" width="3.10" height="30.34" fill="#eb9a8b" />
<text x="546.0" y="159.2" font-size="18" text-anchor="end">HHV</text>
<line x1="548.5" y1="152.5" x2="552.5" y2="152.5" stroke="#555" stroke-width="1.0" />
<rect x="1539.90" y="167.88" width="3.11" height="30.34" fill="#e4786b" />
<rect x="1542.71" y="167.88" width="3.11" height="30.34" fill="#f0b8ab" />
<rect x="1545.51" y="167.88" width="3.11" height="30.34" fill="#f0bdb1" />
<rect x="1548.32" y="167.88" width="3.11" height="30.34" fill="#f0bfb3" />
<rect x="1551.12" y="167.88" width="3.11" height="30.34" fill="#efb1a3" />
<rect x="1553.93" y="167.88" width="3.11" height="30.34" fill="#f0bbae" />
<rect x="1556.74" y="167.88" width="3.11" height="30.34" fill="#efb0a2" />
<rect x="1559.54" y="167.88" width="3.11" height="30.34" fill="#f0b9ac" />
<rect x="1562.35" y="167.88" width="3.11" height="30.34" fill="#efb6a9" />
<rect x="1565.16" y="167.88" width="3.11" height="30.34" fill="#f0baad" />
<rect x="1567.96" y="167.88" width="3.11" height="30.34" fill="#efb7a9" />
<rect x="1570.77" y="167.88" width="3.11" height="30.34" fill="#efb4a6" />
<rect x="1573.58" y="167.88" width="3.11" height="30.34" fill="#f0beb2" />
<rect x="1576.38" y="167.88" width="3.11" height="30.34" fill="#eeaea0" />
<rect x="1579.19" y="167.88" width="3.11" height="30.34" fill="#f0b9ac" />
<rect x="1581.99" y="167.88" width="3.11" height="30.34" fill="#e4786b" />
<text x="546.0" y="189.5" font-size="18" text-anchor="end">Influenza</text>
<line x1="548.5" y1="183.5" x2="552.5" y2="183.5" stroke="#555" stroke-width="1.0" />
<rect x="1584.80" y="198.22" width="3.10" height="30.34" fill="#eda090" />
<rect x="1587.60" y="198.22" width="3.10" height="30.34" fill="#f0b8ab" />
<rect x="1590.40" y="198.22" width="3.10" height="30.34" fill="#efb0a1" />
<rect x="1593.20" y="198.22" width="3.10" height="30.34" fill="#efb4a6" />
<rect x="1596.00" y="198.22" width="3.10" height="30.34" fill="#eea899" />
<rect x="1598.80" y="198.22" width="3.10" height="30.34" fill="#efb5a7" />
<rect x="1601.60" y="198.22" width="3.10" height="30.34" fill="#efb7aa" />
<rect x="1604.40" y="198.22" width="3.10" height="30.34" fill="#f0b8ab" />
<rect x="1607.20" y="198.22" width="3.10" height="30.34" fill="#efb1a3" />
<rect x="1610.00" y="198.22" width="3.10" height="30.34" fill="#f1c2b6" />
<rect x="1612.80" y="198.22" width="3.10" height="30.34" fill="#eeafa1" />
<rect x="1615.60" y="198.22" width="3.10" height="30.34" fill="#f0baad" />
<rect x="1618.40" y="198.22" width="3.10" height="30.34" fill="#f0bbae" />
<text x="546.0" y="219.9" font-size="18" text-anchor="end">HIV</text>
<line x1="548.5" y1="213.5" x2="552.5" y2="213.5" stroke="#555" stroke-width="1.0" />
<rect x="1621.20" y="228.57" width="3.12" height="30.34" fill="#efb7aa" />
<rect x="1624.03" y="228.57" width="3.12" height="30.34" fill="#eeac9e" />
<rect x="1626.85" y="228.57" width="3.12" height="30.34" fill="#efb7aa" />
<rect x="1629.67" y="228.57" width="3.12" height="30.34" fill="#eea899" />
<text x="546.0" y="250.2" font-size="18" text-anchor="end">Cancer</text>
<line x1="548.5" y1="243.5" x2="552.5" y2="243.5" stroke="#555" stroke-width="1.0" />
<rect x="1632.50" y="258.91" width="3.13" height="30.34" fill="#ca4140" />
<rect x="1635.33" y="258.91" width="3.13" height="30.34" fill="#c13437" />
<rect x="1638.17" y="258.91" width="3.13" height="30.34" fill="#cf4947" />
<text x="546.0" y="280.6" font-size="18" text-anchor="end">HBV</text>
<line x1="548.5" y1="274.5" x2="552.5" y2="274.5" stroke="#555" stroke-width="1.0" />
<rect x="1641.00" y="289.26" width="3.30" height="30.34" fill="#c6383a" />
<text x="546.0" y="310.9" font-size="18" text-anchor="end">YFV</text>
<line x1="548.5" y1="304.5" x2="552.5" y2="304.5" stroke="#555" stroke-width="1.0" />
<rect x="572.90" y="107.19" width="2.60" height="30.34" fill="#eda292" />
<rect x="600.80" y="107.19" width="2.60" height="30.34" fill="#eda292" />
<rect x="607.00" y="107.19" width="2.60" height="30.34" fill="#eda292" />
<rect x="665.50" y="107.19" width="2.60" height="30.34" fill="#ca4140" />
<rect x="674.40" y="107.19" width="2.60" height="30.34" fill="#eda292" />
<rect x="724.80" y="107.19" width="2.60" height="30.34" fill="#e88c7e" />
<rect x="750.00" y="107.19" width="2.60" height="30.34" fill="#e16c60" />
<rect x="800.40" y="107.19" width="2.60" height="30.34" fill="#eeac9e" />
<rect x="816.60" y="107.19" width="2.60" height="30.34" fill="#eb9788" />
<rect x="825.50" y="107.19" width="2.60" height="30.34" fill="#eeac9e" />
<rect x="991.00" y="107.19" width="2.60" height="30.34" fill="#eeac9e" />
<rect x="1007.60" y="107.19" width="2.60" height="30.34" fill="#e88c7e" />
<rect x="1024.70" y="107.19" width="2.60" height="30.34" fill="#d24f4b" />
<rect x="1044.00" y="107.19" width="2.60" height="30.34" fill="#e68274" />
<rect x="1091.90" y="107.19" width="2.60" height="30.34" fill="#e88c7e" />
<rect x="1133.70" y="107.19" width="2.60" height="30.34" fill="#eda292" />
<rect x="1164.70" y="107.19" width="2.60" height="30.34" fill="#d24f4b" />
<rect x="1195.30" y="107.19" width="2.60" height="30.34" fill="#eda292" />
<rect x="1243.00" y="137.53" width="2.60" height="30.34" fill="#f3d6cd" />
<rect x="1262.40" y="137.53" width="2.60" height="30.34" fill="#b62931" />
<rect x="1287.50" y="137.53" width="2.60" height="30.34" fill="#e68274" />
<rect x="1349.50" y="137.53" width="2.60" height="30.34" fill="#f3d6cd" />
<rect x="1363.50" y="137.53" width="2.60" height="30.34" fill="#e16c60" />
<rect x="1260.10" y="167.88" width="2.40" height="30.34" fill="#e16c60" />
<rect x="1307.70" y="198.22" width="2.60" height="30.34" fill="#e3776a" />
<rect x="1377.40" y="198.22" width="2.60" height="30.34" fill="#f3ded7" />
<rect x="1414.20" y="198.22" width="2.60" height="30.34" fill="#eb9788" />
<rect x="1229.00" y="228.57" width="2.60" height="30.34" fill="#e88c7e" />
<rect x="1248.40" y="228.57" width="2.60" height="30.34" fill="#eb9788" />
<rect x="1433.60" y="228.57" width="2.60" height="30.34" fill="#eeac9e" />
<rect x="1655.30" y="239.40" width="17.40" height="80.20" fill="url(#cb)" />
<line x1="1672.7" y1="275.5" x2="1677.6" y2="275.5" stroke="#333" stroke-width="1.0" />
<text transform="translate(1679.78,281.71) scale(1.104,1)" font-size="16.5">2</text>
<line x1="1672.7" y1="316.5" x2="1677.6" y2="316.5" stroke="#333" stroke-width="1.0" />
<text transform="translate(1680.02,323.21) scale(1.052,1)" font-size="16.5">0</text>
<text transform="translate(1653.12,233.70) scale(1.088,1)" font-size="17.5">log</text>
<text transform="translate(1678.63,236.50) scale(1.039,1)" font-size="11">10</text>
<text font-size="18" text-anchor="middle" transform="translate(449.5,176.0) rotate(-90)">Antigen</text>
<text x="554.8" y="342.9" font-size="18">Epitopes</text>
<line x1="634.0" y1="339.5" x2="685.0" y2="339.5" stroke="#222" stroke-width="1.1" />
<polygon points="693.0,339.0 678.0,334.8 678.0,343.2" fill="#111"/>
<text x="701.7" y="342.9" font-size="18" textLength="255.7" lengthAdjust="spacingAndGlyphs">(389 epitopes and 94361 TCRs)</text>
<text transform="translate(2.0,404.8) scale(0.9,1)" font-size="35" font-weight="bold" fill="#1a1010" stroke="#1a1010" stroke-width="0.8" style="stroke-width:0.8px;stroke:#1a1010">c</text>
<text x="157.3" y="409.0" font-size="19.4" font-weight="bold" textLength="206.1" lengthAdjust="spacingAndGlyphs">Train and test group 1</text>
<rect x="91.90" y="586.30" width="8.95" height="46.33" fill="#548dba" />
<rect x="100.85" y="586.30" width="8.95" height="19.73" fill="#e6a848" />
<rect x="113.90" y="586.30" width="8.95" height="46.90" fill="#548dba" />
<rect x="122.85" y="586.30" width="8.95" height="26.03" fill="#e6a848" />
<rect x="135.90" y="586.30" width="8.95" height="81.80" fill="#548dba" />
<rect x="144.85" y="586.30" width="8.95" height="61.20" fill="#e6a848" />
<rect x="157.90" y="586.30" width="8.95" height="136.71" fill="#548dba" />
<rect x="166.85" y="586.30" width="8.95" height="117.26" fill="#e6a848" />
<rect x="179.90" y="586.30" width="8.95" height="49.48" fill="#548dba" />
<rect x="188.85" y="586.30" width="8.95" height="29.74" fill="#e6a848" />
<rect x="201.90" y="586.30" width="8.95" height="86.37" fill="#548dba" />
<rect x="210.85" y="586.30" width="8.95" height="66.92" fill="#e6a848" />
<rect x="223.90" y="586.30" width="8.95" height="114.97" fill="#548dba" />
<rect x="232.85" y="586.30" width="8.95" height="94.09" fill="#e6a848" />
<rect x="245.90" y="586.30" width="8.95" height="96.38" fill="#548dba" />
<rect x="254.85" y="586.30" width="8.95" height="76.93" fill="#e6a848" />
<rect x="267.90" y="586.30" width="8.95" height="37.18" fill="#548dba" />
<rect x="276.85" y="586.30" width="8.95" height="14.01" fill="#e6a848" />
<rect x="289.90" y="586.30" width="8.95" height="27.46" fill="#548dba" />
<rect x="311.90" y="586.30" width="8.95" height="69.50" fill="#548dba" />
<rect x="320.85" y="586.30" width="8.95" height="47.76" fill="#e6a848" />
<rect x="333.90" y="586.30" width="8.95" height="65.78" fill="#548dba" />
<rect x="342.85" y="586.30" width="8.95" height="46.33" fill="#e6a848" />
<rect x="355.90" y="586.30" width="8.95" height="38.32" fill="#548dba" />
<rect x="364.85" y="586.30" width="8.95" height="14.01" fill="#e6a848" />
<rect x="377.90" y="586.30" width="8.95" height="32.89" fill="#548dba" />
<rect x="386.85" y="586.30" width="8.95" height="14.01" fill="#e6a848" />
<rect x="399.90" y="586.30" width="8.95" height="44.62" fill="#548dba" />
<rect x="408.85" y="586.30" width="8.95" height="24.60" fill="#e6a848" />
<rect x="421.90" y="586.30" width="8.95" height="47.76" fill="#548dba" />
<rect x="430.85" y="586.30" width="8.95" height="24.60" fill="#e6a848" />
<line x1="84.5" y1="424.3" x2="84.5" y2="559.9" stroke="#454545" stroke-width="1.0" />
<line x1="83.8" y1="559.5" x2="447.0" y2="559.5" stroke="#454545" stroke-width="1.0" />
<line x1="81.0" y1="553.5" x2="84.3" y2="553.5" stroke="#454545" stroke-width="1.0" />
<text x="76.3" y="559.5" font-size="15.9" text-anchor="end">0</text>
<line x1="81.0" y1="529.5" x2="84.3" y2="529.5" stroke="#454545" stroke-width="1.0" />
<text x="76.3" y="534.7" font-size="15.9" text-anchor="end">20</text>
<line x1="81.0" y1="504.5" x2="84.3" y2="504.5" stroke="#454545" stroke-width="1.0" />
<text x="76.3" y="510.0" font-size="15.9" text-anchor="end">40</text>
<line x1="81.0" y1="479.5" x2="84.3" y2="479.5" stroke="#454545" stroke-width="1.0" />
<text x="76.3" y="485.2" font-size="15.9" text-anchor="end">60</text>
<line x1="81.0" y1="454.5" x2="84.3" y2="454.5" stroke="#454545" stroke-width="1.0" />
<text x="76.3" y="460.4" font-size="15.9" text-anchor="end">80</text>
<line x1="81.0" y1="429.5" x2="84.3" y2="429.5" stroke="#454545" stroke-width="1.0" />
<text x="76.3" y="435.6" font-size="15.9" text-anchor="end">100</text>
<line x1="100.5" y1="559.9" x2="100.5" y2="562.9" stroke="#454545" stroke-width="1.0" />
<text x="100.4" y="579.5" font-size="17.2" text-anchor="middle">1</text>
<line x1="100.5" y1="583.3" x2="100.5" y2="586.3" stroke="#454545" stroke-width="1.0" />
<line x1="122.5" y1="559.9" x2="122.5" y2="562.9" stroke="#454545" stroke-width="1.0" />
<text x="122.4" y="579.5" font-size="17.2" text-anchor="middle">2</text>
<line x1="122.5" y1="583.3" x2="122.5" y2="586.3" stroke="#454545" stroke-width="1.0" />
<line x1="144.5" y1="559.9" x2="144.5" y2="562.9" stroke="#454545" stroke-width="1.0" />
<text x="144.4" y="579.5" font-size="17.2" text-anchor="middle">3</text>
<line x1="144.5" y1="583.3" x2="144.5" y2="586.3" stroke="#454545" stroke-width="1.0" />
<line x1="166.5" y1="559.9" x2="166.5" y2="562.9" stroke="#454545" stroke-width="1.0" />
<text x="166.4" y="579.5" font-size="17.2" text-anchor="middle">4</text>
<line x1="166.5" y1="583.3" x2="166.5" y2="586.3" stroke="#454545" stroke-width="1.0" />
<line x1="188.5" y1="559.9" x2="188.5" y2="562.9" stroke="#454545" stroke-width="1.0" />
<text x="188.4" y="579.5" font-size="17.2" text-anchor="middle">5</text>
<line x1="188.5" y1="583.3" x2="188.5" y2="586.3" stroke="#454545" stroke-width="1.0" />
<line x1="210.5" y1="559.9" x2="210.5" y2="562.9" stroke="#454545" stroke-width="1.0" />
<text x="210.4" y="579.5" font-size="17.2" text-anchor="middle">6</text>
<line x1="210.5" y1="583.3" x2="210.5" y2="586.3" stroke="#454545" stroke-width="1.0" />
<line x1="232.5" y1="559.9" x2="232.5" y2="562.9" stroke="#454545" stroke-width="1.0" />
<text x="232.4" y="579.5" font-size="17.2" text-anchor="middle">7</text>
<line x1="232.5" y1="583.3" x2="232.5" y2="586.3" stroke="#454545" stroke-width="1.0" />
<line x1="254.5" y1="559.9" x2="254.5" y2="562.9" stroke="#454545" stroke-width="1.0" />
<text x="254.4" y="579.5" font-size="17.2" text-anchor="middle">8</text>
<line x1="254.5" y1="583.3" x2="254.5" y2="586.3" stroke="#454545" stroke-width="1.0" />
<line x1="276.5" y1="559.9" x2="276.5" y2="562.9" stroke="#454545" stroke-width="1.0" />
<text x="276.4" y="579.5" font-size="17.2" text-anchor="middle">9</text>
<line x1="276.5" y1="583.3" x2="276.5" y2="586.3" stroke="#454545" stroke-width="1.0" />
<line x1="298.5" y1="559.9" x2="298.5" y2="562.9" stroke="#454545" stroke-width="1.0" />
<text x="298.4" y="579.5" font-size="17.2" text-anchor="middle">10</text>
<line x1="298.5" y1="583.3" x2="298.5" y2="586.3" stroke="#454545" stroke-width="1.0" />
<line x1="320.5" y1="559.9" x2="320.5" y2="562.9" stroke="#454545" stroke-width="1.0" />
<text x="320.4" y="579.5" font-size="17.2" text-anchor="middle">11</text>
<line x1="320.5" y1="583.3" x2="320.5" y2="586.3" stroke="#454545" stroke-width="1.0" />
<line x1="342.5" y1="559.9" x2="342.5" y2="562.9" stroke="#454545" stroke-width="1.0" />
<text x="342.4" y="579.5" font-size="17.2" text-anchor="middle">12</text>
<line x1="342.5" y1="583.3" x2="342.5" y2="586.3" stroke="#454545" stroke-width="1.0" />
<line x1="364.5" y1="559.9" x2="364.5" y2="562.9" stroke="#454545" stroke-width="1.0" />
<text x="364.4" y="579.5" font-size="17.2" text-anchor="middle">13</text>
<line x1="364.5" y1="583.3" x2="364.5" y2="586.3" stroke="#454545" stroke-width="1.0" />
<line x1="386.5" y1="559.9" x2="386.5" y2="562.9" stroke="#454545" stroke-width="1.0" />
<text x="386.4" y="579.5" font-size="17.2" text-anchor="middle">14</text>
<line x1="386.5" y1="583.3" x2="386.5" y2="586.3" stroke="#454545" stroke-width="1.0" />
<line x1="408.5" y1="559.9" x2="408.5" y2="562.9" stroke="#454545" stroke-width="1.0" />
<text x="408.4" y="579.5" font-size="17.2" text-anchor="middle">15</text>
<line x1="408.5" y1="583.3" x2="408.5" y2="586.3" stroke="#454545" stroke-width="1.0" />
<line x1="430.5" y1="559.9" x2="430.5" y2="562.9" stroke="#454545" stroke-width="1.0" />
<text x="430.4" y="579.5" font-size="17.2" text-anchor="middle">16</text>
<line x1="430.5" y1="583.3" x2="430.5" y2="586.3" stroke="#454545" stroke-width="1.0" />
<line x1="83.5" y1="586.3" x2="83.5" y2="730.0" stroke="#454545" stroke-width="1.0" />
<line x1="83.3" y1="586.5" x2="447.0" y2="586.5" stroke="#454545" stroke-width="1.0" />
<line x1="80.2" y1="586.5" x2="83.8" y2="586.5" stroke="#454545" stroke-width="1.0" />
<text x="77.0" y="592.0" font-size="15.9" text-anchor="end">1</text>
<line x1="80.2" y1="614.5" x2="83.8" y2="614.5" stroke="#454545" stroke-width="1.0" />
<text x="77.0" y="620.6" font-size="15.9" text-anchor="end">10</text>
<line x1="80.2" y1="643.5" x2="83.8" y2="643.5" stroke="#454545" stroke-width="1.0" />
<text x="77.0" y="649.2" font-size="15.9" text-anchor="end">100</text>
<line x1="80.2" y1="672.5" x2="83.8" y2="672.5" stroke="#454545" stroke-width="1.0" />
<text x="77.0" y="677.8" font-size="15.9" text-anchor="end">1000</text>
<line x1="80.2" y1="700.5" x2="83.8" y2="700.5" stroke="#454545" stroke-width="1.0" />
<text x="77.0" y="706.4" font-size="15.9" text-anchor="end">10000</text>
<line x1="80.2" y1="729.5" x2="83.8" y2="729.5" stroke="#454545" stroke-width="1.0" />
<text x="77.0" y="735.0" font-size="15.9" text-anchor="end">100000</text>
<polyline points="100.4,553.8 122.4,553.8 144.4,552.6 166.4,454.7 188.4,553.8 210.4,551.9 232.4,536.5 254.4,550.1 276.4,553.3 298.4,553.4 320.4,552.9 342.4,553.2 364.4,553.4 386.4,553.4 408.4,553.3 430.4,553.3" fill="none" stroke="#3f78a8" stroke-width="7.0" stroke-linejoin="round" stroke-linecap="round"/>
<circle cx="100.4" cy="553.8" r="4.1" fill="#3f78a8"/>
<circle cx="122.4" cy="553.8" r="4.1" fill="#3f78a8"/>
<circle cx="144.4" cy="552.6" r="4.1" fill="#3f78a8"/>
<circle cx="166.4" cy="454.7" r="4.1" fill="#3f78a8"/>
<circle cx="188.4" cy="553.8" r="4.1" fill="#3f78a8"/>
<circle cx="210.4" cy="551.9" r="4.1" fill="#3f78a8"/>
<circle cx="232.4" cy="536.5" r="4.1" fill="#3f78a8"/>
<circle cx="254.4" cy="550.1" r="4.1" fill="#3f78a8"/>
<circle cx="276.4" cy="553.3" r="4.1" fill="#3f78a8"/>
<circle cx="298.4" cy="553.4" r="4.1" fill="#3f78a8"/>
<circle cx="320.4" cy="552.9" r="4.1" fill="#3f78a8"/>
<circle cx="342.4" cy="553.2" r="4.1" fill="#3f78a8"/>
<circle cx="364.4" cy="553.4" r="4.1" fill="#3f78a8"/>
<circle cx="386.4" cy="553.4" r="4.1" fill="#3f78a8"/>
<circle cx="408.4" cy="553.3" r="4.1" fill="#3f78a8"/>
<circle cx="430.4" cy="553.3" r="4.1" fill="#3f78a8"/>
<polyline points="100.4,553.8 122.4,553.8 144.4,552.6 166.4,454.7 188.4,553.8 210.4,551.9 232.4,536.5 254.4,550.1 276.4,553.3 298.4,553.4 320.4,552.9 342.4,553.2 364.4,553.4 386.4,553.4 408.4,553.3 430.4,553.3" fill="none" stroke="#e6a646" stroke-width="3.4" stroke-linejoin="round" stroke-linecap="butt"/>
<line x1="352.8" y1="443.0" x2="381.5" y2="443.0" stroke="#3f78a8" stroke-width="7.2" />
<line x1="354.8" y1="461.3" x2="379.5" y2="461.3" stroke="#e6a646" stroke-width="3.4" />
<text x="387.0" y="447.6" font-size="17.5">Train</text>
<text x="387.0" y="466.2" font-size="17.5">Test</text>
<text x="569.5" y="409.0" font-size="19.4" font-weight="bold" textLength="200.0" lengthAdjust="spacingAndGlyphs">Train and test group 2</text>
<rect x="499.10" y="588.30" width="8.85" height="46.65" fill="#548dba" />
<rect x="507.95" y="588.30" width="8.85" height="28.60" fill="#e6a848" />
<rect x="521.41" y="588.30" width="8.85" height="48.46" fill="#548dba" />
<rect x="530.26" y="588.30" width="8.85" height="27.39" fill="#e6a848" />
<rect x="543.72" y="588.30" width="8.85" height="85.48" fill="#548dba" />
<rect x="552.57" y="588.30" width="8.85" height="65.92" fill="#e6a848" />
<rect x="566.03" y="588.30" width="8.85" height="143.88" fill="#548dba" />
<rect x="574.88" y="588.30" width="8.85" height="123.11" fill="#e6a848" />
<rect x="588.34" y="588.30" width="8.85" height="52.07" fill="#548dba" />
<rect x="597.19" y="588.30" width="8.85" height="31.61" fill="#e6a848" />
<rect x="610.65" y="588.30" width="8.85" height="90.60" fill="#548dba" />
<rect x="619.50" y="588.30" width="8.85" height="69.53" fill="#e6a848" />
<rect x="632.96" y="588.30" width="8.85" height="120.70" fill="#548dba" />
<rect x="641.81" y="588.30" width="8.85" height="99.63" fill="#e6a848" />
<rect x="655.27" y="588.30" width="8.85" height="101.44" fill="#548dba" />
<rect x="664.12" y="588.30" width="8.85" height="80.07" fill="#e6a848" />
<rect x="677.58" y="588.30" width="8.85" height="39.13" fill="#548dba" />
<rect x="686.43" y="588.30" width="8.85" height="9.03" fill="#e6a848" />
<rect x="699.89" y="588.30" width="8.85" height="24.98" fill="#548dba" />
<rect x="708.74" y="588.30" width="8.85" height="13.85" fill="#e6a848" />
<rect x="722.20" y="588.30" width="8.85" height="73.75" fill="#548dba" />
<rect x="731.05" y="588.30" width="8.85" height="50.27" fill="#e6a848" />
<rect x="744.51" y="588.30" width="8.85" height="69.53" fill="#548dba" />
<rect x="753.36" y="588.30" width="8.85" height="46.96" fill="#e6a848" />
<rect x="766.82" y="588.30" width="8.85" height="39.13" fill="#548dba" />
<rect x="775.67" y="588.30" width="8.85" height="20.77" fill="#e6a848" />
<rect x="789.13" y="588.30" width="8.85" height="34.31" fill="#548dba" />
<rect x="797.98" y="588.30" width="8.85" height="9.03" fill="#e6a848" />
<rect x="811.44" y="588.30" width="8.85" height="46.05" fill="#548dba" />
<rect x="820.29" y="588.30" width="8.85" height="27.39" fill="#e6a848" />
<rect x="833.75" y="588.30" width="8.85" height="49.06" fill="#548dba" />
<rect x="842.60" y="588.30" width="8.85" height="30.10" fill="#e6a848" />
<line x1="491.5" y1="417.9" x2="491.5" y2="560.4" stroke="#454545" stroke-width="1.0" />
<line x1="490.5" y1="560.5" x2="858.6" y2="560.5" stroke="#454545" stroke-width="1.0" />
<line x1="487.9" y1="553.5" x2="491.0" y2="553.5" stroke="#454545" stroke-width="1.0" />
<text x="483.5" y="559.5" font-size="15.9" text-anchor="end">0</text>
<line x1="487.9" y1="527.5" x2="491.0" y2="527.5" stroke="#454545" stroke-width="1.0" />
<text x="483.5" y="533.5" font-size="15.9" text-anchor="end">20</text>
<line x1="487.9" y1="501.5" x2="491.0" y2="501.5" stroke="#454545" stroke-width="1.0" />
<text x="483.5" y="507.4" font-size="15.9" text-anchor="end">40</text>
<line x1="487.9" y1="475.5" x2="491.0" y2="475.5" stroke="#454545" stroke-width="1.0" />
<text x="483.5" y="481.3" font-size="15.9" text-anchor="end">60</text>
<line x1="487.9" y1="449.5" x2="491.0" y2="449.5" stroke="#454545" stroke-width="1.0" />
<text x="483.5" y="455.3" font-size="15.9" text-anchor="end">80</text>
<line x1="487.9" y1="423.5" x2="491.0" y2="423.5" stroke="#454545" stroke-width="1.0" />
<text x="483.5" y="429.2" font-size="15.9" text-anchor="end">100</text>
<line x1="507.5" y1="560.4" x2="507.5" y2="563.4" stroke="#454545" stroke-width="1.0" />
<text x="507.6" y="580.4" font-size="17.2" text-anchor="middle">1</text>
<line x1="507.5" y1="585.3" x2="507.5" y2="588.3" stroke="#454545" stroke-width="1.0" />
<line x1="529.5" y1="560.4" x2="529.5" y2="563.4" stroke="#454545" stroke-width="1.0" />
<text x="529.9" y="580.4" font-size="17.2" text-anchor="middle">2</text>
<line x1="529.5" y1="585.3" x2="529.5" y2="588.3" stroke="#454545" stroke-width="1.0" />
<line x1="552.5" y1="560.4" x2="552.5" y2="563.4" stroke="#454545" stroke-width="1.0" />
<text x="552.2" y="580.4" font-size="17.2" text-anchor="middle">3</text>
<line x1="552.5" y1="585.3" x2="552.5" y2="588.3" stroke="#454545" stroke-width="1.0" />
<line x1="574.5" y1="560.4" x2="574.5" y2="563.4" stroke="#454545" stroke-width="1.0" />
<text x="574.5" y="580.4" font-size="17.2" text-anchor="middle">4</text>
<line x1="574.5" y1="585.3" x2="574.5" y2="588.3" stroke="#454545" stroke-width="1.0" />
<line x1="596.5" y1="560.4" x2="596.5" y2="563.4" stroke="#454545" stroke-width="1.0" />
<text x="596.8" y="580.4" font-size="17.2" text-anchor="middle">5</text>
<line x1="596.5" y1="585.3" x2="596.5" y2="588.3" stroke="#454545" stroke-width="1.0" />
<line x1="619.5" y1="560.4" x2="619.5" y2="563.4" stroke="#454545" stroke-width="1.0" />
<text x="619.1" y="580.4" font-size="17.2" text-anchor="middle">6</text>
<line x1="619.5" y1="585.3" x2="619.5" y2="588.3" stroke="#454545" stroke-width="1.0" />
<line x1="641.5" y1="560.4" x2="641.5" y2="563.4" stroke="#454545" stroke-width="1.0" />
<text x="641.5" y="580.4" font-size="17.2" text-anchor="middle">7</text>
<line x1="641.5" y1="585.3" x2="641.5" y2="588.3" stroke="#454545" stroke-width="1.0" />
<line x1="663.5" y1="560.4" x2="663.5" y2="563.4" stroke="#454545" stroke-width="1.0" />
<text x="663.8" y="580.4" font-size="17.2" text-anchor="middle">8</text>
<line x1="663.5" y1="585.3" x2="663.5" y2="588.3" stroke="#454545" stroke-width="1.0" />
<line x1="686.5" y1="560.4" x2="686.5" y2="563.4" stroke="#454545" stroke-width="1.0" />
<text x="686.1" y="580.4" font-size="17.2" text-anchor="middle">9</text>
<line x1="686.5" y1="585.3" x2="686.5" y2="588.3" stroke="#454545" stroke-width="1.0" />
<line x1="708.5" y1="560.4" x2="708.5" y2="563.4" stroke="#454545" stroke-width="1.0" />
<text x="708.4" y="580.4" font-size="17.2" text-anchor="middle">10</text>
<line x1="708.5" y1="585.3" x2="708.5" y2="588.3" stroke="#454545" stroke-width="1.0" />
<line x1="730.5" y1="560.4" x2="730.5" y2="563.4" stroke="#454545" stroke-width="1.0" />
<text x="730.7" y="580.4" font-size="17.2" text-anchor="middle">11</text>
<line x1="730.5" y1="585.3" x2="730.5" y2="588.3" stroke="#454545" stroke-width="1.0" />
<line x1="753.5" y1="560.4" x2="753.5" y2="563.4" stroke="#454545" stroke-width="1.0" />
<text x="753.0" y="580.4" font-size="17.2" text-anchor="middle">12</text>
<line x1="753.5" y1="585.3" x2="753.5" y2="588.3" stroke="#454545" stroke-width="1.0" />
<line x1="775.5" y1="560.4" x2="775.5" y2="563.4" stroke="#454545" stroke-width="1.0" />
<text x="775.3" y="580.4" font-size="17.2" text-anchor="middle">13</text>
<line x1="775.5" y1="585.3" x2="775.5" y2="588.3" stroke="#454545" stroke-width="1.0" />
<line x1="797.5" y1="560.4" x2="797.5" y2="563.4" stroke="#454545" stroke-width="1.0" />
<text x="797.6" y="580.4" font-size="17.2" text-anchor="middle">14</text>
<line x1="797.5" y1="585.3" x2="797.5" y2="588.3" stroke="#454545" stroke-width="1.0" />
<line x1="819.5" y1="560.4" x2="819.5" y2="563.4" stroke="#454545" stroke-width="1.0" />
<text x="819.9" y="580.4" font-size="17.2" text-anchor="middle">15</text>
<line x1="819.5" y1="585.3" x2="819.5" y2="588.3" stroke="#454545" stroke-width="1.0" />
<line x1="842.5" y1="560.4" x2="842.5" y2="563.4" stroke="#454545" stroke-width="1.0" />
<text x="842.2" y="580.4" font-size="17.2" text-anchor="middle">16</text>
<line x1="842.5" y1="585.3" x2="842.5" y2="588.3" stroke="#454545" stroke-width="1.0" />
<line x1="490.5" y1="588.3" x2="490.5" y2="739.0" stroke="#454545" stroke-width="1.0" />
<line x1="490.0" y1="588.5" x2="858.6" y2="588.5" stroke="#454545" stroke-width="1.0" />
<line x1="487.2" y1="588.5" x2="490.5" y2="588.5" stroke="#454545" stroke-width="1.0" />
<text x="484.7" y="594.3" font-size="15.9" text-anchor="end">1</text>
<line x1="487.2" y1="618.5" x2="490.5" y2="618.5" stroke="#454545" stroke-width="1.0" />
<text x="484.7" y="624.0" font-size="15.9" text-anchor="end">10</text>
<line x1="487.2" y1="648.5" x2="490.5" y2="648.5" stroke="#454545" stroke-width="1.0" />
<text x="484.7" y="653.7" font-size="15.9" text-anchor="end">100</text>
<line x1="487.2" y1="678.5" x2="490.5" y2="678.5" stroke="#454545" stroke-width="1.0" />
<text x="484.7" y="683.4" font-size="15.9" text-anchor="end">1000</text>
<line x1="487.2" y1="708.5" x2="490.5" y2="708.5" stroke="#454545" stroke-width="1.0" />
<text x="484.7" y="713.1" font-size="15.9" text-anchor="end">10000</text>
<line x1="487.2" y1="738.5" x2="490.5" y2="738.5" stroke="#454545" stroke-width="1.0" />
<text x="484.7" y="742.8" font-size="15.9" text-anchor="end">100000</text>
<polyline points="507.6,553.8 529.9,553.8 552.2,552.5 574.5,449.6 596.8,553.8 619.1,551.8 641.5,535.6 663.8,549.9 686.1,553.3 708.4,553.4 730.7,552.9 753.0,553.1 775.3,553.4 797.6,553.4 819.9,553.3 842.2,553.3" fill="none" stroke="#3f78a8" stroke-width="7.0" stroke-linejoin="round" stroke-linecap="round"/>
<circle cx="507.6" cy="553.8" r="4.1" fill="#3f78a8"/>
<circle cx="529.9" cy="553.8" r="4.1" fill="#3f78a8"/>
<circle cx="552.2" cy="552.5" r="4.1" fill="#3f78a8"/>
<circle cx="574.5" cy="449.6" r="4.1" fill="#3f78a8"/>
<circle cx="596.8" cy="553.8" r="4.1" fill="#3f78a8"/>
<circle cx="619.1" cy="551.8" r="4.1" fill="#3f78a8"/>
<circle cx="641.5" cy="535.6" r="4.1" fill="#3f78a8"/>
<circle cx="663.8" cy="549.9" r="4.1" fill="#3f78a8"/>
<circle cx="686.1" cy="553.3" r="4.1" fill="#3f78a8"/>
<circle cx="708.4" cy="553.4" r="4.1" fill="#3f78a8"/>
<circle cx="730.7" cy="552.9" r="4.1" fill="#3f78a8"/>
<circle cx="753.0" cy="553.1" r="4.1" fill="#3f78a8"/>
<circle cx="775.3" cy="553.4" r="4.1" fill="#3f78a8"/>
<circle cx="797.6" cy="553.4" r="4.1" fill="#3f78a8"/>
<circle cx="819.9" cy="553.3" r="4.1" fill="#3f78a8"/>
<circle cx="842.2" cy="553.3" r="4.1" fill="#3f78a8"/>
<polyline points="507.6,553.8 529.9,553.8 552.2,552.5 574.5,449.6 596.8,553.8 619.1,551.8 641.5,535.6 663.8,549.9 686.1,553.3 708.4,553.4 730.7,552.9 753.0,553.1 775.3,553.4 797.6,553.4 819.9,553.3 842.2,553.3" fill="none" stroke="#e6a646" stroke-width="3.4" stroke-linejoin="round" stroke-linecap="butt"/>
<line x1="773.0" y1="437.4" x2="802.0" y2="437.4" stroke="#3f78a8" stroke-width="7.2" />
<line x1="775.0" y1="456.9" x2="800.0" y2="456.9" stroke="#e6a646" stroke-width="3.4" />
<text x="807.0" y="442.2" font-size="17.5">Train</text>
<text x="807.0" y="463.2" font-size="17.5">Test</text>
<text x="979.2" y="409.0" font-size="19.4" font-weight="bold" textLength="200.5" lengthAdjust="spacingAndGlyphs">Train and test group 3</text>
<rect x="905.30" y="585.93" width="9.00" height="47.92" fill="#548dba" />
<rect x="914.30" y="586.03" width="9.00" height="25.25" fill="#e6a848" />
<rect x="927.91" y="586.18" width="9.00" height="47.67" fill="#548dba" />
<rect x="936.91" y="586.27" width="9.00" height="30.42" fill="#e6a848" />
<rect x="950.52" y="586.42" width="9.00" height="88.37" fill="#548dba" />
<rect x="959.52" y="586.52" width="9.00" height="67.80" fill="#e6a848" />
<rect x="973.13" y="586.66" width="9.00" height="146.52" fill="#548dba" />
<rect x="982.13" y="586.76" width="9.00" height="125.35" fill="#e6a848" />
<rect x="995.74" y="586.91" width="9.00" height="54.17" fill="#548dba" />
<rect x="1004.74" y="587.00" width="9.00" height="29.69" fill="#e6a848" />
<rect x="1018.35" y="587.15" width="9.00" height="92.75" fill="#548dba" />
<rect x="1027.35" y="587.25" width="9.00" height="70.98" fill="#e6a848" />
<rect x="1040.96" y="587.39" width="9.00" height="122.91" fill="#548dba" />
<rect x="1049.96" y="587.49" width="9.00" height="101.14" fill="#e6a848" />
<rect x="1063.57" y="587.64" width="9.00" height="102.80" fill="#548dba" />
<rect x="1072.57" y="587.74" width="9.00" height="81.63" fill="#e6a848" />
<rect x="1086.18" y="587.88" width="9.00" height="39.65" fill="#548dba" />
<rect x="1095.18" y="587.98" width="9.00" height="13.97" fill="#e6a848" />
<rect x="1108.79" y="588.13" width="9.00" height="28.87" fill="#548dba" />
<rect x="1131.40" y="588.37" width="9.00" height="73.78" fill="#548dba" />
<rect x="1140.40" y="588.47" width="9.00" height="52.31" fill="#e6a848" />
<rect x="1154.01" y="588.61" width="9.00" height="70.82" fill="#548dba" />
<rect x="1163.01" y="588.71" width="9.00" height="43.94" fill="#e6a848" />
<rect x="1176.62" y="588.86" width="9.00" height="39.28" fill="#548dba" />
<rect x="1185.62" y="588.95" width="9.00" height="17.21" fill="#e6a848" />
<rect x="1199.23" y="589.10" width="9.00" height="33.92" fill="#548dba" />
<rect x="1208.23" y="589.20" width="9.00" height="12.75" fill="#e6a848" />
<rect x="1221.84" y="589.34" width="9.00" height="45.71" fill="#548dba" />
<rect x="1230.84" y="589.44" width="9.00" height="24.25" fill="#e6a848" />
<rect x="1244.45" y="589.59" width="9.00" height="48.48" fill="#548dba" />
<rect x="1253.45" y="589.68" width="9.00" height="25.81" fill="#e6a848" />
<line x1="897.5" y1="416.0" x2="897.5" y2="561.3" stroke="#454545" stroke-width="1.0" />
<line x1="896.9" y1="561.5" x2="1268.8" y2="561.5" stroke="#454545" stroke-width="1.0" />
<line x1="894.1" y1="554.5" x2="897.4" y2="554.5" stroke="#454545" stroke-width="1.0" />
<text x="888.7" y="559.8" font-size="15.9" text-anchor="end">0</text>
<line x1="894.1" y1="527.5" x2="897.4" y2="527.5" stroke="#454545" stroke-width="1.0" />
<text x="888.7" y="533.5" font-size="15.9" text-anchor="end">20</text>
<line x1="894.1" y1="501.5" x2="897.4" y2="501.5" stroke="#454545" stroke-width="1.0" />
<text x="888.7" y="507.2" font-size="15.9" text-anchor="end">40</text>
<line x1="894.1" y1="475.5" x2="897.4" y2="475.5" stroke="#454545" stroke-width="1.0" />
<text x="888.7" y="480.9" font-size="15.9" text-anchor="end">60</text>
<line x1="894.1" y1="448.5" x2="897.4" y2="448.5" stroke="#454545" stroke-width="1.0" />
<text x="888.7" y="454.6" font-size="15.9" text-anchor="end">80</text>
<line x1="913.5" y1="561.3" x2="913.5" y2="564.3" stroke="#454545" stroke-width="1.0" />
<text x="913.8" y="581.4" font-size="17.2" text-anchor="middle">1</text>
<line x1="913.5" y1="583.0" x2="913.5" y2="586.0" stroke="#454545" stroke-width="1.0" />
<line x1="936.5" y1="561.3" x2="936.5" y2="564.3" stroke="#454545" stroke-width="1.0" />
<text x="936.4" y="581.4" font-size="17.2" text-anchor="middle">2</text>
<line x1="936.5" y1="583.2" x2="936.5" y2="586.2" stroke="#454545" stroke-width="1.0" />
<line x1="959.5" y1="561.3" x2="959.5" y2="564.3" stroke="#454545" stroke-width="1.0" />
<text x="959.0" y="581.4" font-size="17.2" text-anchor="middle">3</text>
<line x1="959.5" y1="583.5" x2="959.5" y2="586.5" stroke="#454545" stroke-width="1.0" />
<line x1="981.5" y1="561.3" x2="981.5" y2="564.3" stroke="#454545" stroke-width="1.0" />
<text x="981.6" y="581.4" font-size="17.2" text-anchor="middle">4</text>
<line x1="981.5" y1="583.7" x2="981.5" y2="586.7" stroke="#454545" stroke-width="1.0" />
<line x1="1004.5" y1="561.3" x2="1004.5" y2="564.3" stroke="#454545" stroke-width="1.0" />
<text x="1004.2" y="581.4" font-size="17.2" text-anchor="middle">5</text>
<line x1="1004.5" y1="584.0" x2="1004.5" y2="587.0" stroke="#454545" stroke-width="1.0" />
<line x1="1026.5" y1="561.3" x2="1026.5" y2="564.3" stroke="#454545" stroke-width="1.0" />
<text x="1026.8" y="581.4" font-size="17.2" text-anchor="middle">6</text>
<line x1="1026.5" y1="584.2" x2="1026.5" y2="587.2" stroke="#454545" stroke-width="1.0" />
<line x1="1049.5" y1="561.3" x2="1049.5" y2="564.3" stroke="#454545" stroke-width="1.0" />
<text x="1049.5" y="581.4" font-size="17.2" text-anchor="middle">7</text>
<line x1="1049.5" y1="584.4" x2="1049.5" y2="587.4" stroke="#454545" stroke-width="1.0" />
<line x1="1072.5" y1="561.3" x2="1072.5" y2="564.3" stroke="#454545" stroke-width="1.0" />
<text x="1072.1" y="581.4" font-size="17.2" text-anchor="middle">8</text>
<line x1="1072.5" y1="584.7" x2="1072.5" y2="587.7" stroke="#454545" stroke-width="1.0" />
<line x1="1094.5" y1="561.3" x2="1094.5" y2="564.3" stroke="#454545" stroke-width="1.0" />
<text x="1094.7" y="581.4" font-size="17.2" text-anchor="middle">9</text>
<line x1="1094.5" y1="584.9" x2="1094.5" y2="587.9" stroke="#454545" stroke-width="1.0" />
<line x1="1117.5" y1="561.3" x2="1117.5" y2="564.3" stroke="#454545" stroke-width="1.0" />
<text x="1117.3" y="581.4" font-size="17.2" text-anchor="middle">10</text>
<line x1="1117.5" y1="585.2" x2="1117.5" y2="588.2" stroke="#454545" stroke-width="1.0" />
<line x1="1139.5" y1="561.3" x2="1139.5" y2="564.3" stroke="#454545" stroke-width="1.0" />
<text x="1139.9" y="581.4" font-size="17.2" text-anchor="middle">11</text>
<line x1="1139.5" y1="585.4" x2="1139.5" y2="588.4" stroke="#454545" stroke-width="1.0" />
<line x1="1162.5" y1="561.3" x2="1162.5" y2="564.3" stroke="#454545" stroke-width="1.0" />
<text x="1162.5" y="581.4" font-size="17.2" text-anchor="middle">12</text>
<line x1="1162.5" y1="585.7" x2="1162.5" y2="588.7" stroke="#454545" stroke-width="1.0" />
<line x1="1185.5" y1="561.3" x2="1185.5" y2="564.3" stroke="#454545" stroke-width="1.0" />
<text x="1185.1" y="581.4" font-size="17.2" text-anchor="middle">13</text>
<line x1="1185.5" y1="585.9" x2="1185.5" y2="588.9" stroke="#454545" stroke-width="1.0" />
<line x1="1207.5" y1="561.3" x2="1207.5" y2="564.3" stroke="#454545" stroke-width="1.0" />
<text x="1207.7" y="581.4" font-size="17.2" text-anchor="middle">14</text>
<line x1="1207.5" y1="586.1" x2="1207.5" y2="589.1" stroke="#454545" stroke-width="1.0" />
<line x1="1230.5" y1="561.3" x2="1230.5" y2="564.3" stroke="#454545" stroke-width="1.0" />
<text x="1230.3" y="581.4" font-size="17.2" text-anchor="middle">15</text>
<line x1="1230.5" y1="586.4" x2="1230.5" y2="589.4" stroke="#454545" stroke-width="1.0" />
<line x1="1252.5" y1="561.3" x2="1252.5" y2="564.3" stroke="#454545" stroke-width="1.0" />
<text x="1252.9" y="581.4" font-size="17.2" text-anchor="middle">16</text>
<line x1="1252.5" y1="586.6" x2="1252.5" y2="589.6" stroke="#454545" stroke-width="1.0" />
<line x1="897.5" y1="585.8" x2="897.5" y2="738.4" stroke="#454545" stroke-width="1.0" />
<line x1="896.9" y1="585.8" x2="1268.8" y2="589.8" stroke="#454545" stroke-width="1.15"/>
<line x1="894.4" y1="585.5" x2="897.4" y2="585.5" stroke="#454545" stroke-width="1.0" />
<text x="891.4" y="592.0" font-size="15.9" text-anchor="end">1</text>
<line x1="894.4" y1="618.5" x2="897.4" y2="618.5" stroke="#454545" stroke-width="1.0" />
<text x="891.4" y="623.7" font-size="15.9" text-anchor="end">10</text>
<line x1="894.4" y1="648.5" x2="897.4" y2="648.5" stroke="#454545" stroke-width="1.0" />
<text x="891.4" y="653.1" font-size="15.9" text-anchor="end">100</text>
<line x1="894.4" y1="678.5" x2="897.4" y2="678.5" stroke="#454545" stroke-width="1.0" />
<text x="891.4" y="682.5" font-size="15.9" text-anchor="end">1000</text>
<line x1="894.4" y1="708.5" x2="897.4" y2="708.5" stroke="#454545" stroke-width="1.0" />
<text x="891.4" y="711.9" font-size="15.9" text-anchor="end">10000</text>
<line x1="894.4" y1="738.5" x2="897.4" y2="738.5" stroke="#454545" stroke-width="1.0" />
<text x="891.4" y="741.3" font-size="15.9" text-anchor="end">100000</text>
<polyline points="913.8,554.1 936.4,554.1 959.0,552.8 981.6,448.9 1004.2,554.1 1026.8,552.1 1049.5,535.7 1072.1,550.2 1094.7,553.6 1117.3,553.7 1139.9,553.2 1162.5,553.4 1185.1,553.7 1207.7,553.7 1230.3,553.6 1252.9,553.6" fill="none" stroke="#3f78a8" stroke-width="7.0" stroke-linejoin="round" stroke-linecap="round"/>
<circle cx="913.8" cy="554.1" r="4.1" fill="#3f78a8"/>
<circle cx="936.4" cy="554.1" r="4.1" fill="#3f78a8"/>
<circle cx="959.0" cy="552.8" r="4.1" fill="#3f78a8"/>
<circle cx="981.6" cy="448.9" r="4.1" fill="#3f78a8"/>
<circle cx="1004.2" cy="554.1" r="4.1" fill="#3f78a8"/>
<circle cx="1026.8" cy="552.1" r="4.1" fill="#3f78a8"/>
<circle cx="1049.5" cy="535.7" r="4.1" fill="#3f78a8"/>
<circle cx="1072.1" cy="550.2" r="4.1" fill="#3f78a8"/>
<circle cx="1094.7" cy="553.6" r="4.1" fill="#3f78a8"/>
<circle cx="1117.3" cy="553.7" r="4.1" fill="#3f78a8"/>
<circle cx="1139.9" cy="553.2" r="4.1" fill="#3f78a8"/>
<circle cx="1162.5" cy="553.4" r="4.1" fill="#3f78a8"/>
<circle cx="1185.1" cy="553.7" r="4.1" fill="#3f78a8"/>
<circle cx="1207.7" cy="553.7" r="4.1" fill="#3f78a8"/>
<circle cx="1230.3" cy="553.6" r="4.1" fill="#3f78a8"/>
<circle cx="1252.9" cy="553.6" r="4.1" fill="#3f78a8"/>
<polyline points="913.8,554.1 936.4,554.1 959.0,552.8 981.6,448.9 1004.2,554.1 1026.8,552.1 1049.5,535.7 1072.1,550.2 1094.7,553.6 1117.3,553.7 1139.9,553.2 1162.5,553.4 1185.1,553.7 1207.7,553.7 1230.3,553.6 1252.9,553.6" fill="none" stroke="#e6a646" stroke-width="3.4" stroke-linejoin="round" stroke-linecap="butt"/>
<line x1="1177.8" y1="434.6" x2="1206.7" y2="434.6" stroke="#3f78a8" stroke-width="7.2" />
<line x1="1179.8" y1="453.5" x2="1204.7" y2="453.5" stroke="#e6a646" stroke-width="3.4" />
<text x="1212.3" y="438.6" font-size="17.5">Train</text>
<text x="1212.3" y="458.0" font-size="17.5">Test</text>
<text x="1380.0" y="403.4" font-size="19.4" font-weight="bold" textLength="200.5" lengthAdjust="spacingAndGlyphs">Train and test group 4</text>
<rect x="1312.10" y="583.50" width="8.95" height="46.91" fill="#548dba" />
<rect x="1321.05" y="583.50" width="8.95" height="27.06" fill="#e6a848" />
<rect x="1334.41" y="583.50" width="8.95" height="48.11" fill="#548dba" />
<rect x="1343.36" y="583.50" width="8.95" height="28.27" fill="#e6a848" />
<rect x="1356.72" y="583.50" width="8.95" height="86.00" fill="#548dba" />
<rect x="1365.67" y="583.50" width="8.95" height="64.65" fill="#e6a848" />
<rect x="1379.03" y="583.50" width="8.95" height="144.04" fill="#548dba" />
<rect x="1387.98" y="583.50" width="8.95" height="122.99" fill="#e6a848" />
<rect x="1401.34" y="583.50" width="8.95" height="52.92" fill="#548dba" />
<rect x="1410.29" y="583.50" width="8.95" height="27.06" fill="#e6a848" />
<rect x="1423.65" y="583.50" width="8.95" height="91.11" fill="#548dba" />
<rect x="1432.60" y="583.50" width="8.95" height="69.76" fill="#e6a848" />
<rect x="1445.96" y="583.50" width="8.95" height="120.28" fill="#548dba" />
<rect x="1454.91" y="583.50" width="8.95" height="100.13" fill="#e6a848" />
<rect x="1468.27" y="583.50" width="8.95" height="101.34" fill="#548dba" />
<rect x="1477.22" y="583.50" width="8.95" height="80.29" fill="#e6a848" />
<rect x="1490.58" y="583.50" width="8.95" height="39.09" fill="#548dba" />
<rect x="1499.53" y="583.50" width="8.95" height="14.43" fill="#e6a848" />
<rect x="1512.89" y="583.50" width="8.95" height="23.45" fill="#548dba" />
<rect x="1521.84" y="583.50" width="8.95" height="14.43" fill="#e6a848" />
<rect x="1535.20" y="583.50" width="8.95" height="73.67" fill="#548dba" />
<rect x="1544.15" y="583.50" width="8.95" height="47.51" fill="#e6a848" />
<rect x="1557.51" y="583.50" width="8.95" height="69.76" fill="#548dba" />
<rect x="1566.46" y="583.50" width="8.95" height="46.91" fill="#e6a848" />
<rect x="1579.82" y="583.50" width="8.95" height="39.09" fill="#548dba" />
<rect x="1588.77" y="583.50" width="8.95" height="20.75" fill="#e6a848" />
<rect x="1602.13" y="583.50" width="8.95" height="34.28" fill="#548dba" />
<rect x="1611.08" y="583.50" width="8.95" height="17.74" fill="#e6a848" />
<rect x="1624.44" y="583.50" width="8.95" height="46.91" fill="#548dba" />
<rect x="1633.39" y="583.50" width="8.95" height="20.75" fill="#e6a848" />
<rect x="1646.75" y="583.50" width="8.95" height="49.92" fill="#548dba" />
<rect x="1655.70" y="583.50" width="8.95" height="27.06" fill="#e6a848" />
<line x1="1304.5" y1="414.6" x2="1304.5" y2="557.3" stroke="#454545" stroke-width="1.0" />
<line x1="1304.0" y1="557.5" x2="1671.8" y2="557.5" stroke="#454545" stroke-width="1.0" />
<line x1="1301.9" y1="550.5" x2="1304.5" y2="550.5" stroke="#454545" stroke-width="1.0" />
<text x="1299.0" y="556.1" font-size="15.9" text-anchor="end">0</text>
<line x1="1301.9" y1="524.5" x2="1304.5" y2="524.5" stroke="#454545" stroke-width="1.0" />
<text x="1299.0" y="530.1" font-size="15.9" text-anchor="end">20</text>
<line x1="1301.9" y1="498.5" x2="1304.5" y2="498.5" stroke="#454545" stroke-width="1.0" />
<text x="1299.0" y="504.1" font-size="15.9" text-anchor="end">40</text>
<line x1="1301.9" y1="472.5" x2="1304.5" y2="472.5" stroke="#454545" stroke-width="1.0" />
<text x="1299.0" y="478.1" font-size="15.9" text-anchor="end">60</text>
<line x1="1301.9" y1="446.5" x2="1304.5" y2="446.5" stroke="#454545" stroke-width="1.0" />
<text x="1299.0" y="452.1" font-size="15.9" text-anchor="end">80</text>
<line x1="1301.9" y1="420.5" x2="1304.5" y2="420.5" stroke="#454545" stroke-width="1.0" />
<text x="1299.0" y="426.1" font-size="15.9" text-anchor="end">100</text>
<line x1="1320.5" y1="557.3" x2="1320.5" y2="560.3" stroke="#454545" stroke-width="1.0" />
<text x="1320.9" y="577.7" font-size="17.2" text-anchor="middle">1</text>
<line x1="1320.5" y1="580.5" x2="1320.5" y2="583.5" stroke="#454545" stroke-width="1.0" />
<line x1="1343.5" y1="557.3" x2="1343.5" y2="560.3" stroke="#454545" stroke-width="1.0" />
<text x="1343.2" y="577.7" font-size="17.2" text-anchor="middle">2</text>
<line x1="1343.5" y1="580.5" x2="1343.5" y2="583.5" stroke="#454545" stroke-width="1.0" />
<line x1="1365.5" y1="557.3" x2="1365.5" y2="560.3" stroke="#454545" stroke-width="1.0" />
<text x="1365.5" y="577.7" font-size="17.2" text-anchor="middle">3</text>
<line x1="1365.5" y1="580.5" x2="1365.5" y2="583.5" stroke="#454545" stroke-width="1.0" />
<line x1="1387.5" y1="557.3" x2="1387.5" y2="560.3" stroke="#454545" stroke-width="1.0" />
<text x="1387.8" y="577.7" font-size="17.2" text-anchor="middle">4</text>
<line x1="1387.5" y1="580.5" x2="1387.5" y2="583.5" stroke="#454545" stroke-width="1.0" />
<line x1="1410.5" y1="557.3" x2="1410.5" y2="560.3" stroke="#454545" stroke-width="1.0" />
<text x="1410.1" y="577.7" font-size="17.2" text-anchor="middle">5</text>
<line x1="1410.5" y1="580.5" x2="1410.5" y2="583.5" stroke="#454545" stroke-width="1.0" />
<line x1="1432.5" y1="557.3" x2="1432.5" y2="560.3" stroke="#454545" stroke-width="1.0" />
<text x="1432.5" y="577.7" font-size="17.2" text-anchor="middle">6</text>
<line x1="1432.5" y1="580.5" x2="1432.5" y2="583.5" stroke="#454545" stroke-width="1.0" />
<line x1="1454.5" y1="557.3" x2="1454.5" y2="560.3" stroke="#454545" stroke-width="1.0" />
<text x="1454.8" y="577.7" font-size="17.2" text-anchor="middle">7</text>
<line x1="1454.5" y1="580.5" x2="1454.5" y2="583.5" stroke="#454545" stroke-width="1.0" />
<line x1="1477.5" y1="557.3" x2="1477.5" y2="560.3" stroke="#454545" stroke-width="1.0" />
<text x="1477.1" y="577.7" font-size="17.2" text-anchor="middle">8</text>
<line x1="1477.5" y1="580.5" x2="1477.5" y2="583.5" stroke="#454545" stroke-width="1.0" />
<line x1="1499.5" y1="557.3" x2="1499.5" y2="560.3" stroke="#454545" stroke-width="1.0" />
<text x="1499.4" y="577.7" font-size="17.2" text-anchor="middle">9</text>
<line x1="1499.5" y1="580.5" x2="1499.5" y2="583.5" stroke="#454545" stroke-width="1.0" />
<line x1="1521.5" y1="557.3" x2="1521.5" y2="560.3" stroke="#454545" stroke-width="1.0" />
<text x="1521.7" y="577.7" font-size="17.2" text-anchor="middle">10</text>
<line x1="1521.5" y1="580.5" x2="1521.5" y2="583.5" stroke="#454545" stroke-width="1.0" />
<line x1="1544.5" y1="557.3" x2="1544.5" y2="560.3" stroke="#454545" stroke-width="1.0" />
<text x="1544.0" y="577.7" font-size="17.2" text-anchor="middle">11</text>
<line x1="1544.5" y1="580.5" x2="1544.5" y2="583.5" stroke="#454545" stroke-width="1.0" />
<line x1="1566.5" y1="557.3" x2="1566.5" y2="560.3" stroke="#454545" stroke-width="1.0" />
<text x="1566.3" y="577.7" font-size="17.2" text-anchor="middle">12</text>
<line x1="1566.5" y1="580.5" x2="1566.5" y2="583.5" stroke="#454545" stroke-width="1.0" />
<line x1="1588.5" y1="557.3" x2="1588.5" y2="560.3" stroke="#454545" stroke-width="1.0" />
<text x="1588.6" y="577.7" font-size="17.2" text-anchor="middle">13</text>
<line x1="1588.5" y1="580.5" x2="1588.5" y2="583.5" stroke="#454545" stroke-width="1.0" />
<line x1="1610.5" y1="557.3" x2="1610.5" y2="560.3" stroke="#454545" stroke-width="1.0" />
<text x="1610.9" y="577.7" font-size="17.2" text-anchor="middle">14</text>
<line x1="1610.5" y1="580.5" x2="1610.5" y2="583.5" stroke="#454545" stroke-width="1.0" />
<line x1="1633.5" y1="557.3" x2="1633.5" y2="560.3" stroke="#454545" stroke-width="1.0" />
<text x="1633.2" y="577.7" font-size="17.2" text-anchor="middle">15</text>
<line x1="1633.5" y1="580.5" x2="1633.5" y2="583.5" stroke="#454545" stroke-width="1.0" />
<line x1="1655.5" y1="557.3" x2="1655.5" y2="560.3" stroke="#454545" stroke-width="1.0" />
<text x="1655.6" y="577.7" font-size="17.2" text-anchor="middle">16</text>
<line x1="1655.5" y1="580.5" x2="1655.5" y2="583.5" stroke="#454545" stroke-width="1.0" />
<line x1="1303.5" y1="583.5" x2="1303.5" y2="735.3" stroke="#454545" stroke-width="1.0" />
<line x1="1303.1" y1="583.5" x2="1671.8" y2="583.5" stroke="#454545" stroke-width="1.0" />
<line x1="1300.5" y1="583.5" x2="1303.6" y2="583.5" stroke="#454545" stroke-width="1.0" />
<text x="1298.9" y="590.2" font-size="15.9" text-anchor="end">1</text>
<line x1="1300.5" y1="613.5" x2="1303.6" y2="613.5" stroke="#454545" stroke-width="1.0" />
<text x="1298.9" y="619.8" font-size="15.9" text-anchor="end">10</text>
<line x1="1300.5" y1="643.5" x2="1303.6" y2="643.5" stroke="#454545" stroke-width="1.0" />
<text x="1298.9" y="649.4" font-size="15.9" text-anchor="end">100</text>
<line x1="1300.5" y1="673.5" x2="1303.6" y2="673.5" stroke="#454545" stroke-width="1.0" />
<text x="1298.9" y="678.9" font-size="15.9" text-anchor="end">1000</text>
<line x1="1300.5" y1="703.5" x2="1303.6" y2="703.5" stroke="#454545" stroke-width="1.0" />
<text x="1298.9" y="708.5" font-size="15.9" text-anchor="end">10000</text>
<line x1="1300.5" y1="733.5" x2="1303.6" y2="733.5" stroke="#454545" stroke-width="1.0" />
<text x="1298.9" y="738.1" font-size="15.9" text-anchor="end">100000</text>
<polyline points="1320.9,550.4 1343.2,550.4 1365.5,549.1 1387.8,446.4 1410.1,550.4 1432.5,548.4 1454.8,532.2 1477.1,546.5 1499.4,549.9 1521.7,550.0 1544.0,549.5 1566.3,549.8 1588.6,550.0 1610.9,550.0 1633.2,549.9 1655.6,549.9" fill="none" stroke="#3f78a8" stroke-width="7.0" stroke-linejoin="round" stroke-linecap="round"/>
<circle cx="1320.9" cy="550.4" r="4.1" fill="#3f78a8"/>
<circle cx="1343.2" cy="550.4" r="4.1" fill="#3f78a8"/>
<circle cx="1365.5" cy="549.1" r="4.1" fill="#3f78a8"/>
<circle cx="1387.8" cy="446.4" r="4.1" fill="#3f78a8"/>
<circle cx="1410.1" cy="550.4" r="4.1" fill="#3f78a8"/>
<circle cx="1432.5" cy="548.4" r="4.1" fill="#3f78a8"/>
<circle cx="1454.8" cy="532.2" r="4.1" fill="#3f78a8"/>
<circle cx="1477.1" cy="546.5" r="4.1" fill="#3f78a8"/>
<circle cx="1499.4" cy="549.9" r="4.1" fill="#3f78a8"/>
<circle cx="1521.7" cy="550.0" r="4.1" fill="#3f78a8"/>
<circle cx="1544.0" cy="549.5" r="4.1" fill="#3f78a8"/>
<circle cx="1566.3" cy="549.8" r="4.1" fill="#3f78a8"/>
<circle cx="1588.6" cy="550.0" r="4.1" fill="#3f78a8"/>
<circle cx="1610.9" cy="550.0" r="4.1" fill="#3f78a8"/>
<circle cx="1633.2" cy="549.9" r="4.1" fill="#3f78a8"/>
<circle cx="1655.6" cy="549.9" r="4.1" fill="#3f78a8"/>
<polyline points="1320.9,550.4 1343.2,550.4 1365.5,549.1 1387.8,446.4 1410.1,550.4 1432.5,548.4 1454.8,532.2 1477.1,546.5 1499.4,549.9 1521.7,550.0 1544.0,549.5 1566.3,549.8 1588.6,550.0 1610.9,550.0 1633.2,549.9 1655.6,549.9" fill="none" stroke="#e6a646" stroke-width="3.4" stroke-linejoin="round" stroke-linecap="butt"/>
<line x1="1586.3" y1="428.2" x2="1615.3" y2="428.2" stroke="#3f78a8" stroke-width="7.2" />
<line x1="1588.3" y1="447.1" x2="1613.3" y2="447.1" stroke="#e6a646" stroke-width="3.4" />
<text x="1621.0" y="432.6" font-size="17.5">Train</text>
<text x="1621.0" y="451.5" font-size="17.5">Test</text>
<text x="163.5" y="799.0" font-size="19.4" font-weight="bold" textLength="200.7" lengthAdjust="spacingAndGlyphs">Train and test group 5</text>
<rect x="93.00" y="981.20" width="8.95" height="48.26" fill="#548dba" />
<rect x="101.95" y="981.20" width="8.95" height="21.25" fill="#e6a848" />
<rect x="115.46" y="981.20" width="8.95" height="48.86" fill="#548dba" />
<rect x="124.41" y="981.20" width="8.95" height="28.53" fill="#e6a848" />
<rect x="137.92" y="981.20" width="8.95" height="86.80" fill="#548dba" />
<rect x="146.87" y="981.20" width="8.95" height="65.56" fill="#e6a848" />
<rect x="160.38" y="981.20" width="8.95" height="145.38" fill="#548dba" />
<rect x="169.33" y="981.20" width="8.95" height="123.83" fill="#e6a848" />
<rect x="182.84" y="981.20" width="8.95" height="53.72" fill="#548dba" />
<rect x="191.79" y="981.20" width="8.95" height="28.53" fill="#e6a848" />
<rect x="205.30" y="981.20" width="8.95" height="91.96" fill="#548dba" />
<rect x="214.25" y="981.20" width="8.95" height="70.41" fill="#e6a848" />
<rect x="227.76" y="981.20" width="8.95" height="122.01" fill="#548dba" />
<rect x="236.71" y="981.20" width="8.95" height="101.67" fill="#e6a848" />
<rect x="250.22" y="981.20" width="8.95" height="102.58" fill="#548dba" />
<rect x="259.17" y="981.20" width="8.95" height="80.12" fill="#e6a848" />
<rect x="272.68" y="981.20" width="8.95" height="39.76" fill="#548dba" />
<rect x="281.63" y="981.20" width="8.95" height="9.11" fill="#e6a848" />
<rect x="295.14" y="981.20" width="8.95" height="28.53" fill="#548dba" />
<rect x="317.60" y="981.20" width="8.95" height="74.96" fill="#548dba" />
<rect x="326.55" y="981.20" width="8.95" height="49.77" fill="#e6a848" />
<rect x="340.06" y="981.20" width="8.95" height="71.32" fill="#548dba" />
<rect x="349.01" y="981.20" width="8.95" height="42.19" fill="#e6a848" />
<rect x="362.52" y="981.20" width="8.95" height="40.37" fill="#548dba" />
<rect x="371.47" y="981.20" width="8.95" height="21.25" fill="#e6a848" />
<rect x="384.98" y="981.20" width="8.95" height="36.72" fill="#548dba" />
<rect x="393.93" y="981.20" width="8.95" height="9.11" fill="#e6a848" />
<rect x="407.44" y="981.20" width="8.95" height="47.95" fill="#548dba" />
<rect x="416.39" y="981.20" width="8.95" height="25.49" fill="#e6a848" />
<rect x="429.90" y="981.20" width="8.95" height="50.38" fill="#548dba" />
<rect x="438.85" y="981.20" width="8.95" height="27.32" fill="#e6a848" />
<line x1="85.5" y1="809.6" x2="85.5" y2="954.6" stroke="#454545" stroke-width="1.0" />
<line x1="84.8" y1="954.5" x2="456.7" y2="954.5" stroke="#454545" stroke-width="1.0" />
<line x1="82.6" y1="947.5" x2="85.3" y2="947.5" stroke="#454545" stroke-width="1.0" />
<text x="80.0" y="953.4" font-size="15.9" text-anchor="end">0</text>
<line x1="82.6" y1="921.5" x2="85.3" y2="921.5" stroke="#454545" stroke-width="1.0" />
<text x="80.0" y="927.2" font-size="15.9" text-anchor="end">20</text>
<line x1="82.6" y1="895.5" x2="85.3" y2="895.5" stroke="#454545" stroke-width="1.0" />
<text x="80.0" y="901.0" font-size="15.9" text-anchor="end">40</text>
<line x1="82.6" y1="869.5" x2="85.3" y2="869.5" stroke="#454545" stroke-width="1.0" />
<text x="80.0" y="874.8" font-size="15.9" text-anchor="end">60</text>
<line x1="82.6" y1="842.5" x2="85.3" y2="842.5" stroke="#454545" stroke-width="1.0" />
<text x="80.0" y="848.6" font-size="15.9" text-anchor="end">80</text>
<line x1="82.6" y1="816.5" x2="85.3" y2="816.5" stroke="#454545" stroke-width="1.0" />
<text x="80.0" y="822.4" font-size="15.9" text-anchor="end">100</text>
<line x1="101.5" y1="954.6" x2="101.5" y2="957.6" stroke="#454545" stroke-width="1.0" />
<text x="101.8" y="974.9" font-size="17.2" text-anchor="middle">1</text>
<line x1="101.5" y1="978.2" x2="101.5" y2="981.2" stroke="#454545" stroke-width="1.0" />
<line x1="124.5" y1="954.6" x2="124.5" y2="957.6" stroke="#454545" stroke-width="1.0" />
<text x="124.3" y="974.9" font-size="17.2" text-anchor="middle">2</text>
<line x1="124.5" y1="978.2" x2="124.5" y2="981.2" stroke="#454545" stroke-width="1.0" />
<line x1="146.5" y1="954.6" x2="146.5" y2="957.6" stroke="#454545" stroke-width="1.0" />
<text x="146.7" y="974.9" font-size="17.2" text-anchor="middle">3</text>
<line x1="146.5" y1="978.2" x2="146.5" y2="981.2" stroke="#454545" stroke-width="1.0" />
<line x1="169.5" y1="954.6" x2="169.5" y2="957.6" stroke="#454545" stroke-width="1.0" />
<text x="169.2" y="974.9" font-size="17.2" text-anchor="middle">4</text>
<line x1="169.5" y1="978.2" x2="169.5" y2="981.2" stroke="#454545" stroke-width="1.0" />
<line x1="191.5" y1="954.6" x2="191.5" y2="957.6" stroke="#454545" stroke-width="1.0" />
<text x="191.6" y="974.9" font-size="17.2" text-anchor="middle">5</text>
<line x1="191.5" y1="978.2" x2="191.5" y2="981.2" stroke="#454545" stroke-width="1.0" />
<line x1="214.5" y1="954.6" x2="214.5" y2="957.6" stroke="#454545" stroke-width="1.0" />
<text x="214.1" y="974.9" font-size="17.2" text-anchor="middle">6</text>
<line x1="214.5" y1="978.2" x2="214.5" y2="981.2" stroke="#454545" stroke-width="1.0" />
<line x1="236.5" y1="954.6" x2="236.5" y2="957.6" stroke="#454545" stroke-width="1.0" />
<text x="236.6" y="974.9" font-size="17.2" text-anchor="middle">7</text>
<line x1="236.5" y1="978.2" x2="236.5" y2="981.2" stroke="#454545" stroke-width="1.0" />
<line x1="259.5" y1="954.6" x2="259.5" y2="957.6" stroke="#454545" stroke-width="1.0" />
<text x="259.0" y="974.9" font-size="17.2" text-anchor="middle">8</text>
<line x1="259.5" y1="978.2" x2="259.5" y2="981.2" stroke="#454545" stroke-width="1.0" />
<line x1="281.5" y1="954.6" x2="281.5" y2="957.6" stroke="#454545" stroke-width="1.0" />
<text x="281.5" y="974.9" font-size="17.2" text-anchor="middle">9</text>
<line x1="281.5" y1="978.2" x2="281.5" y2="981.2" stroke="#454545" stroke-width="1.0" />
<line x1="303.5" y1="954.6" x2="303.5" y2="957.6" stroke="#454545" stroke-width="1.0" />
<text x="303.9" y="974.9" font-size="17.2" text-anchor="middle">10</text>
<line x1="303.5" y1="978.2" x2="303.5" y2="981.2" stroke="#454545" stroke-width="1.0" />
<line x1="326.5" y1="954.6" x2="326.5" y2="957.6" stroke="#454545" stroke-width="1.0" />
<text x="326.4" y="974.9" font-size="17.2" text-anchor="middle">11</text>
<line x1="326.5" y1="978.2" x2="326.5" y2="981.2" stroke="#454545" stroke-width="1.0" />
<line x1="348.5" y1="954.6" x2="348.5" y2="957.6" stroke="#454545" stroke-width="1.0" />
<text x="348.9" y="974.9" font-size="17.2" text-anchor="middle">12</text>
<line x1="348.5" y1="978.2" x2="348.5" y2="981.2" stroke="#454545" stroke-width="1.0" />
<line x1="371.5" y1="954.6" x2="371.5" y2="957.6" stroke="#454545" stroke-width="1.0" />
<text x="371.3" y="974.9" font-size="17.2" text-anchor="middle">13</text>
<line x1="371.5" y1="978.2" x2="371.5" y2="981.2" stroke="#454545" stroke-width="1.0" />
<line x1="393.5" y1="954.6" x2="393.5" y2="957.6" stroke="#454545" stroke-width="1.0" />
<text x="393.8" y="974.9" font-size="17.2" text-anchor="middle">14</text>
<line x1="393.5" y1="978.2" x2="393.5" y2="981.2" stroke="#454545" stroke-width="1.0" />
<line x1="416.5" y1="954.6" x2="416.5" y2="957.6" stroke="#454545" stroke-width="1.0" />
<text x="416.2" y="974.9" font-size="17.2" text-anchor="middle">15</text>
<line x1="416.5" y1="978.2" x2="416.5" y2="981.2" stroke="#454545" stroke-width="1.0" />
<line x1="438.5" y1="954.6" x2="438.5" y2="957.6" stroke="#454545" stroke-width="1.0" />
<text x="438.7" y="974.9" font-size="17.2" text-anchor="middle">16</text>
<line x1="438.5" y1="978.2" x2="438.5" y2="981.2" stroke="#454545" stroke-width="1.0" />
<line x1="84.5" y1="981.2" x2="84.5" y2="1133.7" stroke="#454545" stroke-width="1.0" />
<line x1="84.1" y1="981.5" x2="456.7" y2="981.5" stroke="#454545" stroke-width="1.0" />
<line x1="81.2" y1="981.5" x2="84.6" y2="981.5" stroke="#454545" stroke-width="1.0" />
<text x="80.4" y="986.9" font-size="15.9" text-anchor="end">1</text>
<line x1="81.2" y1="1011.5" x2="84.6" y2="1011.5" stroke="#454545" stroke-width="1.0" />
<text x="80.4" y="1017.3" font-size="15.9" text-anchor="end">10</text>
<line x1="81.2" y1="1041.5" x2="84.6" y2="1041.5" stroke="#454545" stroke-width="1.0" />
<text x="80.4" y="1047.6" font-size="15.9" text-anchor="end">100</text>
<line x1="81.2" y1="1072.5" x2="84.6" y2="1072.5" stroke="#454545" stroke-width="1.0" />
<text x="80.4" y="1078.0" font-size="15.9" text-anchor="end">1000</text>
<line x1="81.2" y1="1102.5" x2="84.6" y2="1102.5" stroke="#454545" stroke-width="1.0" />
<text x="80.4" y="1108.3" font-size="15.9" text-anchor="end">10000</text>
<line x1="81.2" y1="1132.5" x2="84.6" y2="1132.5" stroke="#454545" stroke-width="1.0" />
<text x="80.4" y="1138.7" font-size="15.9" text-anchor="end">100000</text>
<polyline points="101.8,947.7 124.3,947.7 146.7,946.4 169.2,842.9 191.6,947.7 214.1,945.7 236.6,929.4 259.0,943.8 281.5,947.2 303.9,947.3 326.4,946.8 348.9,947.0 371.3,947.3 393.8,947.3 416.2,947.2 438.7,947.2" fill="none" stroke="#3f78a8" stroke-width="7.0" stroke-linejoin="round" stroke-linecap="square"/>
<polyline points="101.8,947.7 124.3,947.7 146.7,946.4 169.2,842.9 191.6,947.7 214.1,945.7 236.6,929.4 259.0,943.8 281.5,947.2 303.9,947.3 326.4,946.8 348.9,947.0 371.3,947.3 393.8,947.3 416.2,947.2 438.7,947.2" fill="none" stroke="#e6a646" stroke-width="3.4" stroke-linejoin="round" stroke-linecap="butt"/>
<line x1="369.5" y1="824.0" x2="398.7" y2="824.0" stroke="#3f78a8" stroke-width="7.2" />
<line x1="371.5" y1="843.0" x2="396.7" y2="843.0" stroke="#e6a646" stroke-width="3.4" />
<text x="404.3" y="828.2" font-size="17.5">Train</text>
<text x="404.3" y="848.2" font-size="17.5">Test</text>
<text font-size="17.5" text-anchor="middle" transform="translate(22.5,475.8) rotate(-90)">Percentage</text>
<text font-size="17.5" text-anchor="middle" textLength="172.0" lengthAdjust="spacingAndGlyphs" transform="translate(22.5,624.8) rotate(-90)">CDR3β Number (log10)</text>
<text font-size="17.5" text-anchor="middle" transform="translate(22.5,877.0) rotate(-90)">Percentage</text>
<text font-size="17.5" text-anchor="middle" textLength="172.0" lengthAdjust="spacingAndGlyphs" transform="translate(22.5,1026.0) rotate(-90)">CDR3β Number (log10)</text>
<text x="467.2" y="805.0" font-size="17.3">1. Francis-2022</text>
<text x="467.2" y="827.3" font-size="17.3">2. Glanville-2017</text>
<text x="467.2" y="849.7" font-size="17.3">3. Huth-2019</text>
<text x="467.2" y="872.0" font-size="17.3">4. IEDB</text>
<text x="467.2" y="894.3" font-size="17.3">5. Ishigaki-2022</text>
<text x="467.2" y="916.6" font-size="17.3">6. Luo-2018</text>
<text x="467.2" y="939.0" font-size="17.3">7. MIRA</text>
<text x="467.2" y="961.3" font-size="17.3">8. Minervina-2022</text>
<text x="467.2" y="983.6" font-size="17.3">9. Mudd-2022</text>
<text x="467.2" y="1006.0" font-size="17.3">10. PISTE-2024</text>
<text x="467.2" y="1028.3" font-size="17.3">11. TBAdb</text>
<text x="467.2" y="1050.6" font-size="17.3">12. TetTCR-2018</text>
<text x="467.2" y="1073.0" font-size="17.3">13. TetTCRHD-2021</text>
<text x="467.2" y="1095.3" font-size="17.3">14. Tsuruta-2018</text>
<text x="467.2" y="1117.6" font-size="17.3">15. dbPepNeo2.0</text>
<text x="467.2" y="1140.0" font-size="17.3">16. pMTnet-2021</text>
<text transform="translate(635.9,780.5) scale(0.9,1)" font-size="35" font-weight="bold" fill="#1a1010" stroke="#1a1010" stroke-width="0.8" style="stroke-width:0.8px;stroke:#1a1010">e</text>
<text x="696.5" y="782.0" font-size="19.4" font-weight="bold" textLength="229.8" lengthAdjust="spacingAndGlyphs">Seen / Independent test /</text>
<text x="758.5" y="806.3" font-size="19.4" font-weight="bold" textLength="110.2" lengthAdjust="spacingAndGlyphs">CDR3β-only</text>
<rect x="709.10" y="975.00" width="44.40" height="118.60" fill="#bdbbdf" />
<rect x="764.20" y="892.50" width="44.10" height="201.10" fill="#bdbbdf" />
<rect x="819.90" y="828.90" width="44.10" height="264.70" fill="#bdbbdf" />
<rect x="875.00" y="947.30" width="44.40" height="146.30" fill="#bdbbdf" />
<rect x="698.5" y="816.5" width="231.0" height="277.0" fill="none" stroke="#454545" stroke-width="1.05"/>
<line x1="694.1" y1="1093.5" x2="698.1" y2="1093.5" stroke="#454545" stroke-width="1.0" />
<line x1="694.1" y1="1048.5" x2="698.1" y2="1048.5" stroke="#454545" stroke-width="1.0" />
<line x1="694.1" y1="1002.5" x2="698.1" y2="1002.5" stroke="#454545" stroke-width="1.0" />
<line x1="694.1" y1="957.5" x2="698.1" y2="957.5" stroke="#454545" stroke-width="1.0" />
<line x1="694.1" y1="911.5" x2="698.1" y2="911.5" stroke="#454545" stroke-width="1.0" />
<line x1="694.1" y1="865.5" x2="698.1" y2="865.5" stroke="#454545" stroke-width="1.0" />
<line x1="694.1" y1="820.5" x2="698.1" y2="820.5" stroke="#454545" stroke-width="1.0" />
<text x="691.5" y="1099.8" font-size="17.3" text-anchor="end">0</text>
<text x="691.5" y="1054.3" font-size="17.3" text-anchor="end">5</text>
<text x="691.5" y="1008.8" font-size="17.3" text-anchor="end">10</text>
<text x="691.5" y="963.2" font-size="17.3" text-anchor="end">15</text>
<text x="691.5" y="917.7" font-size="17.3" text-anchor="end">20</text>
<text x="691.5" y="872.2" font-size="17.3" text-anchor="end">25</text>
<text x="691.5" y="826.6" font-size="17.3" text-anchor="end">30</text>
<line x1="731.5" y1="1093.6" x2="731.5" y2="1098.1" stroke="#454545" stroke-width="1.0" />
<text font-size="17.3" text-anchor="end" transform="translate(737.5,1100.0) rotate(-90)">1</text>
<line x1="786.5" y1="1093.6" x2="786.5" y2="1098.1" stroke="#454545" stroke-width="1.0" />
<text font-size="17.3" text-anchor="end" transform="translate(792.5,1100.0) rotate(-90)">2-10</text>
<line x1="841.5" y1="1093.6" x2="841.5" y2="1098.1" stroke="#454545" stroke-width="1.0" />
<text font-size="17.3" text-anchor="end" transform="translate(848.2,1100.0) rotate(-90)">11-50</text>
<line x1="897.5" y1="1093.6" x2="897.5" y2="1098.1" stroke="#454545" stroke-width="1.0" />
<text font-size="17.3" text-anchor="end" transform="translate(903.4,1100.0) rotate(-90)">&gt;50</text>
<text x="731.3" y="971.5" font-size="17.4" text-anchor="middle">13</text>
<text x="786.2" y="889.4" font-size="17.4" text-anchor="middle">22</text>
<text x="842.0" y="845.0" font-size="17.4" text-anchor="middle">29</text>
<text x="897.2" y="944.1" font-size="17.4" text-anchor="middle">16</text>
<text x="814.6" y="1162.0" font-size="17.9" text-anchor="middle">Number of TCRs</text>
<text font-size="17.9" text-anchor="middle" transform="translate(658.7,957.7) rotate(-90)">Number of Epitopes</text>
<text transform="translate(953.3,780.5) scale(0.9,1)" font-size="35" font-weight="bold" fill="#1a1010" stroke="#1a1010" stroke-width="0.8" style="stroke-width:0.8px;stroke:#1a1010">g</text>
<text x="1003.0" y="783.6" font-size="19.4" font-weight="bold" textLength="251.8" lengthAdjust="spacingAndGlyphs">Unseen / Independent test /</text>
<text x="1076.0" y="807.8" font-size="19.4" font-weight="bold" textLength="110.1" lengthAdjust="spacingAndGlyphs">CDR3β-only</text>
<rect x="1032.90" y="829.20" width="44.00" height="264.40" fill="#bdbbdf" />
<rect x="1088.30" y="911.10" width="44.00" height="182.50" fill="#bdbbdf" />
<rect x="1144.00" y="1020.60" width="44.00" height="73.00" fill="#bdbbdf" />
<rect x="1198.70" y="1078.90" width="44.10" height="14.70" fill="#bdbbdf" />
<rect x="1022.5" y="815.5" width="231.0" height="278.0" fill="none" stroke="#454545" stroke-width="1.05"/>
<line x1="1018.5" y1="1092.5" x2="1022.5" y2="1092.5" stroke="#454545" stroke-width="1.0" />
<line x1="1018.5" y1="1042.5" x2="1022.5" y2="1042.5" stroke="#454545" stroke-width="1.0" />
<line x1="1018.5" y1="993.5" x2="1022.5" y2="993.5" stroke="#454545" stroke-width="1.0" />
<line x1="1018.5" y1="943.5" x2="1022.5" y2="943.5" stroke="#454545" stroke-width="1.0" />
<line x1="1018.5" y1="894.5" x2="1022.5" y2="894.5" stroke="#454545" stroke-width="1.0" />
<line x1="1018.5" y1="845.5" x2="1022.5" y2="845.5" stroke="#454545" stroke-width="1.0" />
<text x="1016.0" y="1098.2" font-size="17.3" text-anchor="end">0</text>
<text x="1016.0" y="1048.8" font-size="17.3" text-anchor="end">20</text>
<text x="1016.0" y="999.4" font-size="17.3" text-anchor="end">40</text>
<text x="1016.0" y="950.0" font-size="17.3" text-anchor="end">60</text>
<text x="1016.0" y="900.6" font-size="17.3" text-anchor="end">80</text>
<text x="1016.0" y="851.2" font-size="17.3" text-anchor="end">100</text>
<line x1="1054.5" y1="1093.6" x2="1054.5" y2="1098.1" stroke="#454545" stroke-width="1.0" />
<text font-size="17.3" text-anchor="end" transform="translate(1061.1,1100.5) rotate(-90)">1</text>
<line x1="1110.5" y1="1093.6" x2="1110.5" y2="1098.1" stroke="#454545" stroke-width="1.0" />
<text font-size="17.3" text-anchor="end" transform="translate(1116.5,1100.5) rotate(-90)">2-10</text>
<line x1="1166.5" y1="1093.6" x2="1166.5" y2="1098.1" stroke="#454545" stroke-width="1.0" />
<text font-size="17.3" text-anchor="end" transform="translate(1172.2,1100.5) rotate(-90)">11-50</text>
<line x1="1220.5" y1="1093.6" x2="1220.5" y2="1098.1" stroke="#454545" stroke-width="1.0" />
<text font-size="17.3" text-anchor="end" transform="translate(1227.0,1100.5) rotate(-90)">&gt;50</text>
<text x="1054.9" y="845.6" font-size="17.4" text-anchor="middle">104</text>
<text x="1110.3" y="907.9" font-size="17.4" text-anchor="middle">72</text>
<text x="1166.0" y="1017.5" font-size="17.4" text-anchor="middle">29</text>
<text x="1220.8" y="1075.7" font-size="17.4" text-anchor="middle">6</text>
<text x="1142.0" y="1163.0" font-size="17.9" text-anchor="middle">Number of TCRs</text>
<text font-size="17.9" text-anchor="middle" transform="translate(980.8,960.0) rotate(-90)">Number of Epitopes</text>
<text transform="translate(1006.5,1882.2) scale(0.9,1)" font-size="35" font-weight="bold" fill="#1a1010" stroke="#1a1010" stroke-width="0.8" style="stroke-width:0.8px;stroke:#1a1010">l</text>
<text x="1065.4" y="1889.6" font-size="19.4" font-weight="bold" textLength="219.0" lengthAdjust="spacingAndGlyphs">Seen / Independent test</text>
<text x="1103.8" y="1912.8" font-size="19.4" font-weight="bold" textLength="146.5" lengthAdjust="spacingAndGlyphs">/ CDR3β+others</text>
<rect x="1065.40" y="1937.40" width="47.60" height="271.50" fill="#bdbbdf" />
<rect x="1124.90" y="1982.70" width="47.40" height="226.20" fill="#bdbbdf" />
<rect x="1184.30" y="1982.70" width="47.60" height="226.20" fill="#bdbbdf" />
<rect x="1244.10" y="2118.50" width="47.80" height="90.40" fill="#bdbbdf" />
<rect x="1053.5" y="1924.5" width="250.0" height="284.0" fill="none" stroke="#454545" stroke-width="1.05"/>
<line x1="1049.6" y1="1937.5" x2="1053.6" y2="1937.5" stroke="#454545" stroke-width="1.0" />
<line x1="1049.6" y1="1982.5" x2="1053.6" y2="1982.5" stroke="#454545" stroke-width="1.0" />
<line x1="1049.6" y1="2027.5" x2="1053.6" y2="2027.5" stroke="#454545" stroke-width="1.0" />
<line x1="1049.6" y1="2073.5" x2="1053.6" y2="2073.5" stroke="#454545" stroke-width="1.0" />
<line x1="1049.6" y1="2118.5" x2="1053.6" y2="2118.5" stroke="#454545" stroke-width="1.0" />
<line x1="1049.6" y1="2163.5" x2="1053.6" y2="2163.5" stroke="#454545" stroke-width="1.0" />
<text x="1040.0" y="1947.5" font-size="17.3" text-anchor="end">6</text>
<text x="1040.0" y="2001.1" font-size="17.3" text-anchor="end">5</text>
<text x="1040.0" y="2054.5" font-size="17.3" text-anchor="end">4</text>
<text x="1040.0" y="2107.6" font-size="17.3" text-anchor="end">3</text>
<text x="1040.0" y="2162.2" font-size="17.3" text-anchor="end">2</text>
<text x="1040.0" y="2215.1" font-size="17.3" text-anchor="end">1</text>
<text x="1040.0" y="2268.0" font-size="17.3" text-anchor="end">0</text>
<line x1="1089.5" y1="2208.9" x2="1089.5" y2="2213.4" stroke="#454545" stroke-width="1.0" />
<text font-size="17.8" text-anchor="end" transform="translate(1095.6,2222.0) rotate(-90)">1</text>
<line x1="1148.5" y1="2208.9" x2="1148.5" y2="2213.4" stroke="#454545" stroke-width="1.0" />
<text font-size="17.8" text-anchor="end" transform="translate(1155.0,2222.0) rotate(-90)">2-10</text>
<line x1="1208.5" y1="2208.9" x2="1208.5" y2="2213.4" stroke="#454545" stroke-width="1.0" />
<text font-size="17.8" text-anchor="end" transform="translate(1214.5,2222.0) rotate(-90)">11-50</text>
<line x1="1268.5" y1="2208.9" x2="1268.5" y2="2213.4" stroke="#454545" stroke-width="1.0" />
<text font-size="17.8" text-anchor="end" transform="translate(1274.4,2222.0) rotate(-90)">&gt;50</text>
<text x="1089.2" y="1951.9" font-size="16" text-anchor="middle">6</text>
<text x="1148.6" y="1980.0" font-size="16" text-anchor="middle">5</text>
<text x="1208.1" y="1980.0" font-size="16" text-anchor="middle">5</text>
<text x="1268.0" y="2115.7" font-size="16" text-anchor="middle">2</text>
<text x="1177.4" y="2287.1" font-size="17.9" text-anchor="middle">Number of TCRs</text>
<text font-size="17.9" text-anchor="middle" transform="translate(1020.2,2099.6) rotate(-90)">Number of Epitopes</text>
<text transform="translate(1356.4,1881.7) scale(0.9,1)" font-size="35" font-weight="bold" fill="#1a1010" stroke="#1a1010" stroke-width="0.8" style="stroke-width:0.8px;stroke:#1a1010">n</text>
<text x="1410.3" y="1889.6" font-size="19.4" font-weight="bold" textLength="242.0" lengthAdjust="spacingAndGlyphs">Unseen / Independent test</text>
<text x="1458.2" y="1912.8" font-size="19.4" font-weight="bold" textLength="151.1" lengthAdjust="spacingAndGlyphs">/ CDR3β +others</text>
<rect x="1422.50" y="1937.40" width="47.60" height="270.80" fill="#bdbbdf" />
<rect x="1482.10" y="2043.70" width="47.80" height="164.50" fill="#bdbbdf" />
<rect x="1542.10" y="2176.70" width="47.60" height="31.50" fill="#bdbbdf" />
<rect x="1601.90" y="2204.30" width="47.90" height="3.90" fill="#bdbbdf" />
<rect x="1411.5" y="1924.5" width="250.0" height="284.0" fill="none" stroke="#454545" stroke-width="1.05"/>
<line x1="1407.5" y1="1962.5" x2="1411.5" y2="1962.5" stroke="#454545" stroke-width="1.0" />
<line x1="1407.5" y1="2011.5" x2="1411.5" y2="2011.5" stroke="#454545" stroke-width="1.0" />
<line x1="1407.5" y1="2060.5" x2="1411.5" y2="2060.5" stroke="#454545" stroke-width="1.0" />
<line x1="1407.5" y1="2110.5" x2="1411.5" y2="2110.5" stroke="#454545" stroke-width="1.0" />
<line x1="1407.5" y1="2159.5" x2="1411.5" y2="2159.5" stroke="#454545" stroke-width="1.0" />
<text x="1398.6" y="1976.3" font-size="17.3" text-anchor="end">100</text>
<text x="1398.6" y="2035.6" font-size="17.3" text-anchor="end">80</text>
<text x="1398.6" y="2093.8" font-size="17.3" text-anchor="end">60</text>
<text x="1398.6" y="2152.3" font-size="17.3" text-anchor="end">40</text>
<text x="1398.6" y="2211.6" font-size="17.3" text-anchor="end">20</text>
<text x="1398.6" y="2268.7" font-size="17.3" text-anchor="end">0</text>
<line x1="1446.5" y1="2208.2" x2="1446.5" y2="2212.7" stroke="#454545" stroke-width="1.0" />
<text font-size="17.8" text-anchor="end" transform="translate(1452.7,2222.0) rotate(-90)">1</text>
<line x1="1506.5" y1="2208.2" x2="1506.5" y2="2212.7" stroke="#454545" stroke-width="1.0" />
<text font-size="17.8" text-anchor="end" transform="translate(1512.4,2222.0) rotate(-90)">2-10</text>
<line x1="1565.5" y1="2208.2" x2="1565.5" y2="2212.7" stroke="#454545" stroke-width="1.0" />
<text font-size="17.8" text-anchor="end" transform="translate(1572.3,2222.0) rotate(-90)">11-50</text>
<line x1="1625.5" y1="2208.2" x2="1625.5" y2="2212.7" stroke="#454545" stroke-width="1.0" />
<text font-size="17.8" text-anchor="end" transform="translate(1632.3,2222.0) rotate(-90)">&gt;50</text>
<text x="1446.3" y="1949.6" font-size="16" text-anchor="middle">110</text>
<text x="1506.0" y="2040.5" font-size="16" text-anchor="middle">67</text>
<text x="1565.9" y="2173.9" font-size="16" text-anchor="middle">13</text>
<text x="1625.8" y="2201.3" font-size="16" text-anchor="middle">2</text>
<text x="1534.1" y="2284.3" font-size="17.9" text-anchor="middle">Number of TCRs</text>
<text font-size="17.9" text-anchor="middle" transform="translate(1364.8,2100.3) rotate(-90)">Number of Epitopes</text>
<text transform="translate(9.5,1208.6) scale(0.9,1)" font-size="35" font-weight="bold" fill="#1a1010" stroke="#1a1010" stroke-width="0.8" style="stroke-width:0.8px;stroke:#1a1010">d</text>
<text x="181.1" y="1219.0" font-size="19.4" font-weight="bold" textLength="346.1" lengthAdjust="spacingAndGlyphs">Seen / Independent test / CDR3β-only</text>
<rect x="162.90" y="1229.30" width="351.20" height="167.70" fill="#f4f4f4" />
<rect x="162.90" y="1229.30" width="4.67" height="23.96" fill="#f3d6cd" />
<rect x="167.27" y="1229.30" width="4.67" height="23.96" fill="#f1c1b5" />
<rect x="171.63" y="1229.30" width="4.67" height="23.96" fill="#d24f4b" />
<rect x="176.00" y="1229.30" width="4.67" height="23.96" fill="#efb7aa" />
<rect x="180.37" y="1229.30" width="4.67" height="23.96" fill="#e68274" />
<rect x="184.73" y="1229.30" width="4.67" height="23.96" fill="#eeac9e" />
<rect x="189.10" y="1229.30" width="4.67" height="23.96" fill="#e68274" />
<rect x="193.47" y="1229.30" width="4.67" height="23.96" fill="#f1c1b5" />
<rect x="197.83" y="1229.30" width="4.67" height="23.96" fill="#e16c60" />
<rect x="202.20" y="1229.30" width="4.67" height="23.96" fill="#f2ccc1" />
<rect x="206.57" y="1229.30" width="4.67" height="23.96" fill="#eb9788" />
<rect x="210.93" y="1229.30" width="4.67" height="23.96" fill="#eeac9e" />
<rect x="215.30" y="1229.30" width="4.67" height="23.96" fill="#f1c1b5" />
<rect x="219.67" y="1229.30" width="4.67" height="23.96" fill="#eb9788" />
<rect x="224.03" y="1229.30" width="4.67" height="23.96" fill="#f2ccc1" />
<rect x="228.40" y="1229.30" width="4.67" height="23.96" fill="#f3d6cd" />
<rect x="232.77" y="1229.30" width="4.67" height="23.96" fill="#f2ccc1" />
<rect x="237.13" y="1229.30" width="4.67" height="23.96" fill="#e3776a" />
<rect x="241.50" y="1229.30" width="4.67" height="23.96" fill="#f3d6cd" />
<rect x="245.87" y="1229.30" width="4.67" height="23.96" fill="#eb9788" />
<rect x="250.23" y="1229.30" width="4.67" height="23.96" fill="#f3d6cd" />
<text x="155.0" y="1246.3" font-size="18" text-anchor="end">Other</text>
<line x1="157.5" y1="1241.5" x2="161.5" y2="1241.5" stroke="#555" stroke-width="1.0" />
<rect x="254.60" y="1253.26" width="4.70" height="23.96" fill="#efb7aa" />
<rect x="259.00" y="1253.26" width="4.70" height="23.96" fill="#eda292" />
<rect x="263.39" y="1253.26" width="4.70" height="23.96" fill="#f1c1b5" />
<rect x="267.79" y="1253.26" width="4.70" height="23.96" fill="#eda292" />
<rect x="272.18" y="1253.26" width="4.70" height="23.96" fill="#f3d6cd" />
<rect x="276.58" y="1253.26" width="4.70" height="23.96" fill="#f1c1b5" />
<rect x="280.97" y="1253.26" width="4.70" height="23.96" fill="#ca4140" />
<rect x="285.37" y="1253.26" width="4.70" height="23.96" fill="#da5e55" />
<rect x="289.76" y="1253.26" width="4.70" height="23.96" fill="#e88c7e" />
<rect x="294.16" y="1253.26" width="9.09" height="23.96" fill="#e68274" />
<rect x="302.95" y="1253.26" width="4.70" height="23.96" fill="#b62931" />
<rect x="307.35" y="1253.26" width="4.70" height="23.96" fill="#eb9788" />
<rect x="311.74" y="1253.26" width="4.70" height="23.96" fill="#e88c7e" />
<rect x="316.14" y="1253.26" width="4.70" height="23.96" fill="#ca4140" />
<rect x="320.53" y="1253.26" width="9.09" height="23.96" fill="#e88c7e" />
<rect x="329.32" y="1253.26" width="4.70" height="23.96" fill="#eb9788" />
<rect x="333.72" y="1253.26" width="4.70" height="23.96" fill="#d24f4b" />
<rect x="338.11" y="1253.26" width="4.70" height="23.96" fill="#eda292" />
<rect x="342.51" y="1253.26" width="4.70" height="23.96" fill="#efb7aa" />
<rect x="346.90" y="1253.26" width="4.70" height="23.96" fill="#e68274" />
<text x="155.0" y="1270.2" font-size="18" text-anchor="end">HHV</text>
<line x1="157.5" y1="1265.5" x2="161.5" y2="1265.5" stroke="#555" stroke-width="1.0" />
<rect x="351.30" y="1277.21" width="4.67" height="23.96" fill="#e3776a" />
<rect x="355.67" y="1277.21" width="4.67" height="23.96" fill="#e16c60" />
<rect x="360.03" y="1277.21" width="4.67" height="23.96" fill="#eb9788" />
<rect x="364.40" y="1277.21" width="4.67" height="23.96" fill="#e88c7e" />
<rect x="368.77" y="1277.21" width="4.67" height="23.96" fill="#eda292" />
<rect x="373.13" y="1277.21" width="4.67" height="23.96" fill="#d24f4b" />
<rect x="377.50" y="1277.21" width="4.67" height="23.96" fill="#da5e55" />
<rect x="381.87" y="1277.21" width="4.67" height="23.96" fill="#eda292" />
<rect x="386.23" y="1277.21" width="4.67" height="23.96" fill="#f1c1b5" />
<rect x="390.60" y="1277.21" width="4.67" height="23.96" fill="#eb9788" />
<rect x="394.97" y="1277.21" width="4.67" height="23.96" fill="#f3d6cd" />
<rect x="399.33" y="1277.21" width="9.03" height="23.96" fill="#eeac9e" />
<rect x="408.07" y="1277.21" width="9.03" height="23.96" fill="#e88c7e" />
<text x="155.0" y="1294.2" font-size="18" text-anchor="end">HIV</text>
<line x1="157.5" y1="1289.5" x2="161.5" y2="1289.5" stroke="#555" stroke-width="1.0" />
<rect x="416.80" y="1301.17" width="4.71" height="23.96" fill="#eeac9e" />
<rect x="421.21" y="1301.17" width="13.54" height="23.96" fill="#f3ded7" />
<rect x="434.46" y="1301.17" width="4.71" height="23.96" fill="#eda292" />
<rect x="438.87" y="1301.17" width="4.71" height="23.96" fill="#eeac9e" />
<rect x="443.29" y="1301.17" width="4.71" height="23.96" fill="#f1c1b5" />
<rect x="447.70" y="1301.17" width="4.71" height="23.96" fill="#eda292" />
<rect x="452.11" y="1301.17" width="4.71" height="23.96" fill="#f2ccc1" />
<rect x="456.53" y="1301.17" width="4.71" height="23.96" fill="#e68274" />
<rect x="460.94" y="1301.17" width="4.71" height="23.96" fill="#e88c7e" />
<rect x="465.36" y="1301.17" width="9.13" height="23.96" fill="#f3ded7" />
<rect x="474.19" y="1301.17" width="4.71" height="23.96" fill="#da5e55" />
<text x="155.0" y="1318.1" font-size="18" text-anchor="end">SARS-CoV-2</text>
<line x1="157.5" y1="1313.5" x2="161.5" y2="1313.5" stroke="#555" stroke-width="1.0" />
<rect x="478.60" y="1325.13" width="4.78" height="23.96" fill="#f3ded7" />
<rect x="483.08" y="1325.13" width="4.78" height="23.96" fill="#d24f4b" />
<rect x="487.56" y="1325.13" width="4.78" height="23.96" fill="#f1c1b5" />
<rect x="492.04" y="1325.13" width="9.26" height="23.96" fill="#e68274" />
<text x="155.0" y="1342.1" font-size="18" text-anchor="end">Influenza</text>
<line x1="157.5" y1="1337.5" x2="161.5" y2="1337.5" stroke="#555" stroke-width="1.0" />
<rect x="501.00" y="1349.09" width="4.30" height="23.96" fill="#ca4140" />
<rect x="505.00" y="1349.09" width="4.30" height="23.96" fill="#eb9788" />
<text x="155.0" y="1366.0" font-size="18" text-anchor="end">Cancer</text>
<line x1="157.5" y1="1361.5" x2="161.5" y2="1361.5" stroke="#555" stroke-width="1.0" />
<rect x="509.00" y="1373.04" width="5.40" height="23.96" fill="#eb9788" />
<text x="155.0" y="1390.0" font-size="18" text-anchor="end">YFV</text>
<line x1="157.5" y1="1385.5" x2="161.5" y2="1385.5" stroke="#555" stroke-width="1.0" />
<rect x="294.50" y="1229.30" width="8.60" height="23.96" fill="#f3dfd9" />
<rect x="316.40" y="1229.30" width="3.60" height="23.96" fill="#eb9788" />
<rect x="404.40" y="1229.30" width="4.00" height="23.96" fill="#f1c1b5" />
<rect x="500.70" y="1229.30" width="4.20" height="23.96" fill="#e88c7e" />
<rect x="504.90" y="1229.30" width="4.20" height="23.96" fill="#d24f4b" />
<rect x="521.50" y="1312.50" width="14.40" height="85.30" fill="url(#cb)" />
<line x1="535.9" y1="1335.5" x2="541.0" y2="1335.5" stroke="#333" stroke-width="1.0" />
<text transform="translate(545.68,1342.31) scale(1.104,1)" font-size="16.5">2</text>
<line x1="535.9" y1="1398.5" x2="541.0" y2="1398.5" stroke="#333" stroke-width="1.0" />
<text transform="translate(545.92,1406.01) scale(1.052,1)" font-size="16.5">0</text>
<text transform="translate(519.22,1303.80) scale(0.939,1)" font-size="17">log</text>
<text transform="translate(542.87,1307.20) scale(0.925,1)" font-size="9">10</text>
<text font-size="18" text-anchor="middle" transform="translate(29.5,1312.5) rotate(-90)">Antigen</text>
<text x="157.0" y="1418.4" font-size="18">Epitopes</text>
<line x1="224.3" y1="1414.5" x2="275.0" y2="1414.5" stroke="#222" stroke-width="1.1" />
<polygon points="283.0,1414.5 268.0,1410.3 268.0,1418.7" fill="#111"/>
<text x="303.0" y="1418.4" font-size="18" textLength="235.3" lengthAdjust="spacingAndGlyphs">(80 epitopes and 2941 TCRs)</text>
<text transform="translate(577.9,1208.0) scale(0.9,1)" font-size="35" font-weight="bold" fill="#1a1010" stroke="#1a1010" stroke-width="0.8" style="stroke-width:0.8px;stroke:#1a1010">f</text>
<text x="707.3" y="1216.6" font-size="19.4" font-weight="bold" textLength="369.2" lengthAdjust="spacingAndGlyphs">Unseen / Independent test / CDR3β-only</text>
<rect x="708.40" y="1230.40" width="370.20" height="170.10" fill="#f4f4f4" />
<rect x="708.40" y="1230.40" width="2.05" height="28.35" fill="#f0aa95" />
<rect x="710.15" y="1230.40" width="2.05" height="28.35" fill="#f4e0d9" />
<rect x="711.90" y="1230.40" width="2.05" height="28.35" fill="#f2bfae" />
<rect x="713.65" y="1230.40" width="2.05" height="28.35" fill="#f2baa9" />
<rect x="715.40" y="1230.40" width="2.05" height="28.35" fill="#f4d8ce" />
<rect x="717.15" y="1230.40" width="2.05" height="28.35" fill="#ec917b" />
<rect x="718.90" y="1230.40" width="2.05" height="28.35" fill="#f1b7a4" />
<rect x="720.65" y="1230.40" width="2.05" height="28.35" fill="#f4dfd7" />
<rect x="722.40" y="1230.40" width="2.05" height="28.35" fill="#f4ddd4" />
<rect x="724.15" y="1230.40" width="2.05" height="28.35" fill="#f4e1d9" />
<rect x="725.90" y="1230.40" width="2.05" height="28.35" fill="#f4ddd4" />
<rect x="727.65" y="1230.40" width="2.05" height="28.35" fill="#f4dcd3" />
<rect x="729.40" y="1230.40" width="2.05" height="28.35" fill="#f4d9cf" />
<rect x="731.15" y="1230.40" width="2.05" height="28.35" fill="#f4dbd1" />
<rect x="732.89" y="1230.40" width="2.05" height="28.35" fill="#f4dcd4" />
<rect x="734.64" y="1230.40" width="2.05" height="28.35" fill="#f4dcd3" />
<rect x="736.39" y="1230.40" width="2.05" height="28.35" fill="#efa18b" />
<rect x="738.14" y="1230.40" width="2.05" height="28.35" fill="#f4dbd1" />
<rect x="739.89" y="1230.40" width="2.05" height="28.35" fill="#f4dad0" />
<rect x="741.64" y="1230.40" width="2.05" height="28.35" fill="#f4dcd3" />
<rect x="743.39" y="1230.40" width="2.05" height="28.35" fill="#f4dbd2" />
<rect x="745.14" y="1230.40" width="2.05" height="28.35" fill="#f4dad0" />
<rect x="746.89" y="1230.40" width="2.05" height="28.35" fill="#f4d8cd" />
<rect x="748.64" y="1230.40" width="2.05" height="28.35" fill="#f1af9a" />
<rect x="750.39" y="1230.40" width="2.05" height="28.35" fill="#ed9982" />
<rect x="752.14" y="1230.40" width="2.05" height="28.35" fill="#f4dfd7" />
<rect x="753.89" y="1230.40" width="2.05" height="28.35" fill="#f4e0d8" />
<rect x="755.64" y="1230.40" width="2.05" height="28.35" fill="#f4d8ce" />
<rect x="757.39" y="1230.40" width="2.05" height="28.35" fill="#f4ddd4" />
<rect x="759.14" y="1230.40" width="2.05" height="28.35" fill="#f4d8cd" />
<rect x="760.89" y="1230.40" width="2.05" height="28.35" fill="#f4dfd7" />
<rect x="762.64" y="1230.40" width="2.05" height="28.35" fill="#f4ddd4" />
<rect x="764.39" y="1230.40" width="2.05" height="28.35" fill="#f4e1da" />
<rect x="766.14" y="1230.40" width="3.80" height="28.35" fill="#f4dcd3" />
<rect x="769.64" y="1230.40" width="2.05" height="28.35" fill="#f4e0d8" />
<rect x="771.39" y="1230.40" width="2.05" height="28.35" fill="#f4d8cd" />
<rect x="773.14" y="1230.40" width="2.05" height="28.35" fill="#efa48d" />
<rect x="774.89" y="1230.40" width="2.05" height="28.35" fill="#f4e0d9" />
<rect x="776.64" y="1230.40" width="2.05" height="28.35" fill="#f2c0b0" />
<rect x="778.39" y="1230.40" width="2.05" height="28.35" fill="#f4e0d9" />
<rect x="780.14" y="1230.40" width="2.05" height="28.35" fill="#f4d9cf" />
<rect x="781.88" y="1230.40" width="2.05" height="28.35" fill="#f4dfd7" />
<rect x="783.63" y="1230.40" width="2.05" height="28.35" fill="#f4e0d8" />
<rect x="785.38" y="1230.40" width="2.05" height="28.35" fill="#f4dcd3" />
<rect x="787.13" y="1230.40" width="2.05" height="28.35" fill="#f4e0d8" />
<rect x="788.88" y="1230.40" width="2.05" height="28.35" fill="#f4dad0" />
<rect x="790.63" y="1230.40" width="2.05" height="28.35" fill="#f4d8ce" />
<rect x="792.38" y="1230.40" width="2.05" height="28.35" fill="#f0ab95" />
<rect x="794.13" y="1230.40" width="2.05" height="28.35" fill="#f4d8ce" />
<rect x="795.88" y="1230.40" width="2.05" height="28.35" fill="#f4ddd5" />
<rect x="797.63" y="1230.40" width="2.05" height="28.35" fill="#f4dbd2" />
<rect x="799.38" y="1230.40" width="2.05" height="28.35" fill="#f4ded6" />
<rect x="801.13" y="1230.40" width="2.05" height="28.35" fill="#f4d7cd" />
<rect x="802.88" y="1230.40" width="2.05" height="28.35" fill="#f4d8cd" />
<rect x="804.63" y="1230.40" width="2.05" height="28.35" fill="#f2c0b0" />
<rect x="806.38" y="1230.40" width="2.05" height="28.35" fill="#f4ddd4" />
<rect x="808.13" y="1230.40" width="2.05" height="28.35" fill="#f4dad0" />
<rect x="809.88" y="1230.40" width="2.05" height="28.35" fill="#f4d4c8" />
<rect x="811.63" y="1230.40" width="2.05" height="28.35" fill="#f4dcd3" />
<rect x="813.38" y="1230.40" width="3.80" height="28.35" fill="#f4d9cf" />
<rect x="816.88" y="1230.40" width="2.05" height="28.35" fill="#f4dcd4" />
<rect x="818.63" y="1230.40" width="2.05" height="28.35" fill="#f4d6cb" />
<rect x="820.38" y="1230.40" width="2.05" height="28.35" fill="#f4dcd2" />
<rect x="822.13" y="1230.40" width="2.05" height="28.35" fill="#f4d6cb" />
<rect x="823.88" y="1230.40" width="2.05" height="28.35" fill="#f4dad0" />
<rect x="825.63" y="1230.40" width="2.05" height="28.35" fill="#f2bdac" />
<rect x="827.38" y="1230.40" width="2.05" height="28.35" fill="#ed947d" />
<rect x="829.13" y="1230.40" width="2.05" height="28.35" fill="#f4d7cc" />
<rect x="830.87" y="1230.40" width="2.05" height="28.35" fill="#ea8770" />
<rect x="832.62" y="1230.40" width="2.05" height="28.35" fill="#f4d8ce" />
<rect x="834.37" y="1230.40" width="2.05" height="28.35" fill="#f4d5c9" />
<rect x="836.12" y="1230.40" width="2.05" height="28.35" fill="#f4dcd3" />
<rect x="837.87" y="1230.40" width="2.05" height="28.35" fill="#f4d9cf" />
<rect x="839.62" y="1230.40" width="2.05" height="28.35" fill="#f4ded5" />
<rect x="841.37" y="1230.40" width="2.05" height="28.35" fill="#f4dbd2" />
<rect x="843.12" y="1230.40" width="2.05" height="28.35" fill="#f4dad1" />
<rect x="844.87" y="1230.40" width="2.05" height="28.35" fill="#f4d9cf" />
<rect x="846.62" y="1230.40" width="2.05" height="28.35" fill="#f4dbd2" />
<rect x="848.37" y="1230.40" width="2.05" height="28.35" fill="#f4d9cf" />
<rect x="850.12" y="1230.40" width="2.05" height="28.35" fill="#f4dad0" />
<rect x="851.87" y="1230.40" width="2.05" height="28.35" fill="#f4dcd3" />
<rect x="853.62" y="1230.40" width="2.05" height="28.35" fill="#f4dfd8" />
<rect x="855.37" y="1230.40" width="2.05" height="28.35" fill="#f4ded6" />
<rect x="857.12" y="1230.40" width="3.80" height="28.35" fill="#f4dcd3" />
<rect x="860.62" y="1230.40" width="3.80" height="28.35" fill="#f4dbd2" />
<rect x="864.12" y="1230.40" width="2.05" height="28.35" fill="#f4d9ce" />
<rect x="865.87" y="1230.40" width="2.05" height="28.35" fill="#f4dcd2" />
<rect x="867.62" y="1230.40" width="2.05" height="28.35" fill="#f2bead" />
<rect x="869.37" y="1230.40" width="2.05" height="28.35" fill="#f4ddd4" />
<rect x="871.12" y="1230.40" width="2.05" height="28.35" fill="#f4d8ce" />
<rect x="872.87" y="1230.40" width="3.80" height="28.35" fill="#f4dcd3" />
<rect x="876.37" y="1230.40" width="2.05" height="28.35" fill="#f4dbd2" />
<rect x="878.12" y="1230.40" width="2.05" height="28.35" fill="#f4d9cf" />
<rect x="879.86" y="1230.40" width="2.05" height="28.35" fill="#f4dcd3" />
<rect x="881.61" y="1230.40" width="2.05" height="28.35" fill="#f4dad0" />
<rect x="883.36" y="1230.40" width="2.05" height="28.35" fill="#f0a993" />
<rect x="885.11" y="1230.40" width="2.05" height="28.35" fill="#f4ded5" />
<rect x="886.86" y="1230.40" width="2.05" height="28.35" fill="#ea866f" />
<rect x="888.61" y="1230.40" width="2.05" height="28.35" fill="#f1b9a7" />
<rect x="890.36" y="1230.40" width="2.05" height="28.35" fill="#f4d7cc" />
<rect x="892.11" y="1230.40" width="2.05" height="28.35" fill="#f4dbd2" />
<rect x="893.86" y="1230.40" width="2.05" height="28.35" fill="#eb8c75" />
<rect x="895.61" y="1230.40" width="2.05" height="28.35" fill="#f2c0af" />
<rect x="897.36" y="1230.40" width="2.05" height="28.35" fill="#eb8a73" />
<rect x="899.11" y="1230.40" width="2.05" height="28.35" fill="#ec927b" />
<rect x="900.86" y="1230.40" width="2.05" height="28.35" fill="#f4d7cb" />
<rect x="902.61" y="1230.40" width="2.05" height="28.35" fill="#f4dad0" />
<rect x="904.36" y="1230.40" width="2.05" height="28.35" fill="#f4ded6" />
<rect x="906.11" y="1230.40" width="3.80" height="28.35" fill="#f4dfd7" />
<rect x="909.61" y="1230.40" width="2.05" height="28.35" fill="#f4dad0" />
<rect x="911.36" y="1230.40" width="2.05" height="28.35" fill="#f4e0d8" />
<rect x="913.11" y="1230.40" width="2.05" height="28.35" fill="#ee9c85" />
<rect x="914.86" y="1230.40" width="3.80" height="28.35" fill="#f4dfd7" />
<rect x="918.36" y="1230.40" width="2.05" height="28.35" fill="#f4dcd2" />
<rect x="920.11" y="1230.40" width="3.80" height="28.35" fill="#f4dcd3" />
<rect x="923.61" y="1230.40" width="2.05" height="28.35" fill="#f4d9cf" />
<rect x="925.36" y="1230.40" width="2.05" height="28.35" fill="#f2bfaf" />
<rect x="927.11" y="1230.40" width="2.05" height="28.35" fill="#f4dcd3" />
<rect x="928.85" y="1230.40" width="2.05" height="28.35" fill="#f4d8cd" />
<rect x="930.60" y="1230.40" width="2.05" height="28.35" fill="#f4ddd4" />
<rect x="932.35" y="1230.40" width="2.05" height="28.35" fill="#f4dbd2" />
<rect x="934.10" y="1230.40" width="2.05" height="28.35" fill="#f4ddd5" />
<rect x="935.85" y="1230.40" width="2.05" height="28.35" fill="#f4dad0" />
<rect x="937.60" y="1230.40" width="2.05" height="28.35" fill="#f4dbd1" />
<rect x="939.35" y="1230.40" width="2.05" height="28.35" fill="#f4dbd2" />
<rect x="941.10" y="1230.40" width="2.05" height="28.35" fill="#f4ddd4" />
<rect x="942.85" y="1230.40" width="2.05" height="28.35" fill="#f1b29f" />
<rect x="944.60" y="1230.40" width="2.05" height="28.35" fill="#f4e1d9" />
<rect x="946.35" y="1230.40" width="2.05" height="28.35" fill="#f4dcd3" />
<rect x="948.10" y="1230.40" width="2.05" height="28.35" fill="#f4dbd1" />
<rect x="949.85" y="1230.40" width="2.05" height="28.35" fill="#f4dcd3" />
<text x="700.5" y="1248.3" font-size="18" text-anchor="end">Other</text>
<line x1="703.0" y1="1244.5" x2="707.0" y2="1244.5" stroke="#555" stroke-width="1.0" />
<rect x="951.60" y="1258.75" width="2.06" height="28.35" fill="#f2c4b5" />
<rect x="953.36" y="1258.75" width="2.06" height="28.35" fill="#f3c7b9" />
<rect x="955.12" y="1258.75" width="2.06" height="28.35" fill="#f3c8b9" />
<rect x="956.88" y="1258.75" width="2.06" height="28.35" fill="#f3d0c3" />
<rect x="958.64" y="1258.75" width="2.06" height="28.35" fill="#f3c7b8" />
<rect x="960.40" y="1258.75" width="2.06" height="28.35" fill="#f2c4b5" />
<rect x="962.15" y="1258.75" width="2.06" height="28.35" fill="#efa48e" />
<rect x="963.91" y="1258.75" width="2.06" height="28.35" fill="#f4d2c6" />
<rect x="965.67" y="1258.75" width="2.06" height="28.35" fill="#f3c8b9" />
<rect x="967.43" y="1258.75" width="2.06" height="28.35" fill="#e7745c" />
<rect x="969.19" y="1258.75" width="2.06" height="28.35" fill="#f2c5b6" />
<rect x="970.95" y="1258.75" width="2.06" height="28.35" fill="#f3ccbf" />
<rect x="972.71" y="1258.75" width="2.06" height="28.35" fill="#e87b63" />
<rect x="974.47" y="1258.75" width="2.06" height="28.35" fill="#f3c6b7" />
<rect x="976.23" y="1258.75" width="2.06" height="28.35" fill="#f3cdbf" />
<rect x="977.99" y="1258.75" width="2.06" height="28.35" fill="#f2c3b4" />
<rect x="979.75" y="1258.75" width="2.06" height="28.35" fill="#ee9f88" />
<rect x="981.50" y="1258.75" width="2.06" height="28.35" fill="#f3c8b9" />
<rect x="983.26" y="1258.75" width="2.06" height="28.35" fill="#e98068" />
<rect x="985.02" y="1258.75" width="2.06" height="28.35" fill="#eb8d76" />
<rect x="986.78" y="1258.75" width="2.06" height="28.35" fill="#e16754" />
<rect x="988.54" y="1258.75" width="2.06" height="28.35" fill="#f2c2b2" />
<text x="700.5" y="1278.3" font-size="18" text-anchor="end">SARS-CoV-2</text>
<line x1="703.0" y1="1272.5" x2="707.0" y2="1272.5" stroke="#555" stroke-width="1.0" />
<rect x="990.30" y="1287.10" width="2.02" height="28.35" fill="#f2c0af" />
<rect x="992.02" y="1287.10" width="2.02" height="28.35" fill="#cd3e3a" />
<rect x="993.74" y="1287.10" width="2.02" height="28.35" fill="#e46e58" />
<rect x="995.47" y="1287.10" width="2.02" height="28.35" fill="#f3ccbe" />
<rect x="997.19" y="1287.10" width="2.02" height="28.35" fill="#f1b6a4" />
<rect x="998.91" y="1287.10" width="2.02" height="28.35" fill="#f2baa9" />
<rect x="1000.63" y="1287.10" width="2.02" height="28.35" fill="#f4d7cc" />
<rect x="1002.36" y="1287.10" width="2.02" height="28.35" fill="#e87b64" />
<rect x="1004.08" y="1287.10" width="2.02" height="28.35" fill="#d95649" />
<rect x="1005.80" y="1287.10" width="2.02" height="28.35" fill="#f3cec1" />
<rect x="1007.52" y="1287.10" width="2.02" height="28.35" fill="#e87a62" />
<rect x="1009.24" y="1287.10" width="2.02" height="28.35" fill="#f1b3a0" />
<rect x="1010.97" y="1287.10" width="2.02" height="28.35" fill="#ea8871" />
<rect x="1012.69" y="1287.10" width="2.02" height="28.35" fill="#ce403b" />
<rect x="1014.41" y="1287.10" width="2.02" height="28.35" fill="#f3d0c3" />
<rect x="1016.13" y="1287.10" width="2.02" height="28.35" fill="#f3ccbf" />
<rect x="1017.86" y="1287.10" width="2.02" height="28.35" fill="#f1baa8" />
<rect x="1019.58" y="1287.10" width="2.02" height="28.35" fill="#f1af9b" />
<text x="700.5" y="1306.9" font-size="18" text-anchor="end">HIV</text>
<line x1="703.0" y1="1301.5" x2="707.0" y2="1301.5" stroke="#555" stroke-width="1.0" />
<rect x="1021.30" y="1315.45" width="2.10" height="28.35" fill="#f2bfae" />
<rect x="1023.10" y="1315.45" width="2.10" height="28.35" fill="#eb8871" />
<rect x="1024.90" y="1315.45" width="2.10" height="28.35" fill="#f2c5b5" />
<rect x="1026.70" y="1315.45" width="2.10" height="28.35" fill="#f2c2b3" />
<rect x="1028.50" y="1315.45" width="2.10" height="28.35" fill="#f2bdac" />
<rect x="1030.30" y="1315.45" width="2.10" height="28.35" fill="#f1b8a6" />
<rect x="1032.10" y="1315.45" width="2.10" height="28.35" fill="#de604f" />
<rect x="1033.90" y="1315.45" width="2.10" height="28.35" fill="#f3c7b8" />
<rect x="1035.70" y="1315.45" width="2.10" height="28.35" fill="#ea856e" />
<rect x="1037.50" y="1315.45" width="2.10" height="28.35" fill="#ea846d" />
<rect x="1039.30" y="1315.45" width="2.10" height="28.35" fill="#f2c0af" />
<rect x="1041.10" y="1315.45" width="2.10" height="28.35" fill="#f2c0b0" />
<rect x="1042.90" y="1315.45" width="2.10" height="28.35" fill="#f2c1b0" />
<rect x="1044.70" y="1315.45" width="2.10" height="28.35" fill="#f3cbbd" />
<text x="700.5" y="1336.3" font-size="18" text-anchor="end">HHV</text>
<line x1="703.0" y1="1329.5" x2="707.0" y2="1329.5" stroke="#555" stroke-width="1.0" />
<rect x="1046.50" y="1343.80" width="2.03" height="28.35" fill="#f1b29f" />
<rect x="1048.23" y="1343.80" width="2.03" height="28.35" fill="#e7745c" />
<rect x="1049.96" y="1343.80" width="2.03" height="28.35" fill="#f0ae99" />
<rect x="1051.69" y="1343.80" width="2.03" height="28.35" fill="#de6150" />
<rect x="1053.42" y="1343.80" width="2.03" height="28.35" fill="#f1ae9a" />
<rect x="1055.15" y="1343.80" width="2.03" height="28.35" fill="#f1b7a5" />
<rect x="1056.88" y="1343.80" width="2.03" height="28.35" fill="#f0a892" />
<rect x="1058.62" y="1343.80" width="2.03" height="28.35" fill="#e46d57" />
<rect x="1060.35" y="1343.80" width="2.03" height="28.35" fill="#f0a790" />
<rect x="1062.08" y="1343.80" width="2.03" height="28.35" fill="#f0a993" />
<rect x="1063.81" y="1343.80" width="2.03" height="28.35" fill="#f1b9a7" />
<rect x="1065.54" y="1343.80" width="2.03" height="28.35" fill="#f0a892" />
<rect x="1067.27" y="1343.80" width="2.03" height="28.35" fill="#e06653" />
<text x="700.5" y="1364.6" font-size="18" text-anchor="end">Influenza</text>
<line x1="703.0" y1="1357.5" x2="707.0" y2="1357.5" stroke="#555" stroke-width="1.0" />
<rect x="1069.00" y="1372.15" width="2.22" height="28.35" fill="#f4ded6" />
<rect x="1070.92" y="1372.15" width="2.22" height="28.35" fill="#f4d7cc" />
<rect x="1072.84" y="1372.15" width="2.22" height="28.35" fill="#ee9e87" />
<rect x="1074.76" y="1372.15" width="2.22" height="28.35" fill="#d44a41" />
<rect x="1076.68" y="1372.15" width="2.22" height="28.35" fill="#f2c4b5" />
<text x="700.5" y="1393.2" font-size="18" text-anchor="end">Cancer</text>
<line x1="703.0" y1="1386.5" x2="707.0" y2="1386.5" stroke="#555" stroke-width="1.0" />
<rect x="739.10" y="1315.45" width="1.80" height="28.35" fill="#f2bba9" />
<rect x="1087.00" y="1314.60" width="14.20" height="85.70" fill="url(#cb)" />
<line x1="1101.2" y1="1329.5" x2="1106.0" y2="1329.5" stroke="#333" stroke-width="1.0" />
<text transform="translate(1105.75,1335.03) scale(1.056,1)" font-size="16">2</text>
<line x1="1101.2" y1="1398.5" x2="1106.0" y2="1398.5" stroke="#333" stroke-width="1.0" />
<text transform="translate(1105.97,1401.33) scale(1.007,1)" font-size="16">0</text>
<text transform="translate(1085.09,1305.70) scale(0.968,1)" font-size="17">log</text>
<text transform="translate(1106.61,1311.50) scale(0.909,1)" font-size="8.5">10</text>
<text font-size="18" text-anchor="middle" transform="translate(595.5,1308.0) rotate(-90)">Antigen</text>
<text x="702.0" y="1421.8" font-size="18">Epitopes</text>
<line x1="780.7" y1="1417.5" x2="832.0" y2="1417.5" stroke="#222" stroke-width="1.1" />
<polygon points="840.0,1417.5 825.0,1413.3 825.0,1421.7" fill="#111"/>
<text x="848.0" y="1421.8" font-size="18" textLength="245.7" lengthAdjust="spacingAndGlyphs">(211 epitopes and 1581 TCRs)</text>
<text transform="translate(1144.9,1205.2) scale(0.9,1)" font-size="35" font-weight="bold" fill="#1a1010" stroke="#1a1010" stroke-width="0.8" style="stroke-width:0.8px;stroke:#1a1010">i</text>
<text x="1309.5" y="1206.2" font-size="19.4" font-weight="bold" textLength="296.7" lengthAdjust="spacingAndGlyphs">Seen / Training/ CDR3β + others</text>
<rect x="1277.80" y="1219.00" width="369.20" height="158.70" fill="#f4f4f4" />
<rect x="1277.80" y="1219.00" width="6.77" height="26.45" fill="#da5e55" />
<rect x="1284.27" y="1219.00" width="6.77" height="26.45" fill="#e16c60" />
<rect x="1290.74" y="1219.00" width="6.77" height="26.45" fill="#e88c7e" />
<rect x="1297.21" y="1219.00" width="6.77" height="26.45" fill="#d24f4b" />
<rect x="1303.68" y="1219.00" width="6.77" height="26.45" fill="#ca4140" />
<rect x="1310.15" y="1219.00" width="6.77" height="26.45" fill="#eb9788" />
<rect x="1316.62" y="1219.00" width="6.77" height="26.45" fill="#e16c60" />
<rect x="1323.09" y="1219.00" width="6.77" height="26.45" fill="#da5e55" />
<rect x="1329.56" y="1219.00" width="6.77" height="26.45" fill="#f1c1b5" />
<rect x="1336.03" y="1219.00" width="6.77" height="26.45" fill="#e88c7e" />
<rect x="1342.50" y="1219.00" width="6.77" height="26.45" fill="#e68274" />
<rect x="1348.97" y="1219.00" width="6.77" height="26.45" fill="#eb9788" />
<rect x="1355.44" y="1219.00" width="6.77" height="26.45" fill="#e88c7e" />
<rect x="1361.91" y="1219.00" width="6.77" height="26.45" fill="#e68274" />
<rect x="1368.38" y="1219.00" width="6.77" height="26.45" fill="#e16c60" />
<rect x="1374.85" y="1219.00" width="6.77" height="26.45" fill="#c13437" />
<rect x="1381.32" y="1219.00" width="6.77" height="26.45" fill="#d24f4b" />
<rect x="1387.79" y="1219.00" width="6.77" height="26.45" fill="#e3776a" />
<rect x="1394.26" y="1219.00" width="6.77" height="26.45" fill="#e68274" />
<rect x="1400.73" y="1219.00" width="6.77" height="26.45" fill="#eb9788" />
<text x="1270.5" y="1238.7" font-size="18" text-anchor="end">SARS-CoV-2</text>
<line x1="1273.0" y1="1232.5" x2="1277.0" y2="1232.5" stroke="#555" stroke-width="1.0" />
<rect x="1407.20" y="1245.45" width="6.75" height="26.45" fill="#e16c60" />
<rect x="1413.65" y="1245.45" width="6.75" height="26.45" fill="#e88c7e" />
<rect x="1420.09" y="1245.45" width="6.75" height="26.45" fill="#da5e55" />
<rect x="1426.54" y="1245.45" width="6.75" height="26.45" fill="#eda292" />
<rect x="1432.98" y="1245.45" width="13.19" height="26.45" fill="#f1c1b5" />
<rect x="1445.88" y="1245.45" width="13.19" height="26.45" fill="#efb7aa" />
<rect x="1458.77" y="1245.45" width="26.08" height="26.45" fill="#eeac9e" />
<rect x="1484.55" y="1245.45" width="6.75" height="26.45" fill="#eda292" />
<text x="1270.5" y="1265.2" font-size="18" text-anchor="end">Other</text>
<line x1="1273.0" y1="1258.5" x2="1277.0" y2="1258.5" stroke="#555" stroke-width="1.0" />
<rect x="1491.00" y="1271.90" width="6.80" height="26.45" fill="#e16c60" />
<rect x="1497.50" y="1271.90" width="6.80" height="26.45" fill="#eda292" />
<rect x="1504.00" y="1271.90" width="6.80" height="26.45" fill="#e88c7e" />
<rect x="1510.50" y="1271.90" width="6.80" height="26.45" fill="#eda292" />
<rect x="1517.00" y="1271.90" width="6.80" height="26.45" fill="#e16c60" />
<rect x="1523.50" y="1271.90" width="19.80" height="26.45" fill="#eb9788" />
<rect x="1543.00" y="1271.90" width="6.80" height="26.45" fill="#e68274" />
<rect x="1549.50" y="1271.90" width="6.80" height="26.45" fill="#eeac9e" />
<rect x="1556.00" y="1271.90" width="6.80" height="26.45" fill="#eb9788" />
<text x="1270.5" y="1291.6" font-size="18" text-anchor="end">Influenza</text>
<line x1="1273.0" y1="1285.5" x2="1277.0" y2="1285.5" stroke="#555" stroke-width="1.0" />
<rect x="1562.50" y="1298.35" width="13.30" height="26.45" fill="#eb9788" />
<rect x="1575.50" y="1298.35" width="6.80" height="26.45" fill="#eeac9e" />
<rect x="1582.00" y="1298.35" width="6.80" height="26.45" fill="#eda292" />
<rect x="1588.50" y="1298.35" width="6.80" height="26.45" fill="#f1c1b5" />
<rect x="1595.00" y="1298.35" width="6.80" height="26.45" fill="#eeac9e" />
<rect x="1601.50" y="1298.35" width="6.80" height="26.45" fill="#e68274" />
<text x="1270.5" y="1318.1" font-size="18" text-anchor="end">HHV</text>
<line x1="1273.0" y1="1311.5" x2="1277.0" y2="1311.5" stroke="#555" stroke-width="1.0" />
<rect x="1608.00" y="1324.80" width="6.72" height="26.45" fill="#efb7aa" />
<rect x="1614.42" y="1324.80" width="6.72" height="26.45" fill="#eb9788" />
<rect x="1620.84" y="1324.80" width="19.56" height="26.45" fill="#eeac9e" />
<text x="1270.5" y="1344.5" font-size="18" text-anchor="end">HIV</text>
<line x1="1273.0" y1="1338.5" x2="1277.0" y2="1338.5" stroke="#555" stroke-width="1.0" />
<rect x="1640.10" y="1351.25" width="7.20" height="26.45" fill="#e16c60" />
<text x="1270.5" y="1371.0" font-size="18" text-anchor="end">YFV</text>
<line x1="1273.0" y1="1364.5" x2="1277.0" y2="1364.5" stroke="#555" stroke-width="1.0" />
<rect x="1652.10" y="1294.30" width="13.90" height="82.90" fill="url(#cb)" />
<line x1="1666.0" y1="1331.5" x2="1670.3" y2="1331.5" stroke="#333" stroke-width="1.0" />
<text transform="translate(1671.77,1337.04) scale(0.953,1)" font-size="15.2">2</text>
<line x1="1666.0" y1="1373.5" x2="1670.3" y2="1373.5" stroke="#333" stroke-width="1.0" />
<text transform="translate(1671.96,1379.34) scale(0.908,1)" font-size="15.2">0</text>
<text transform="translate(1648.52,1286.90) scale(0.939,1)" font-size="17">log</text>
<text transform="translate(1670.10,1290.30) scale(0.916,1)" font-size="11.5">10</text>
<text font-size="18" text-anchor="middle" transform="translate(1162.5,1308.0) rotate(-90)">Antigen</text>
<text x="1278.9" y="1395.0" font-size="18">Epitopes</text>
<line x1="1346.8" y1="1391.5" x2="1377.5" y2="1391.5" stroke="#222" stroke-width="1.1" />
<polygon points="1385.5,1391.0 1370.5,1386.8 1370.5,1395.2" fill="#111"/>
<text x="1388.2" y="1395.0" font-size="18" textLength="234.7" lengthAdjust="spacingAndGlyphs">(57 epitopes and 4292 TCRs)</text>
<text transform="translate(15.4,1442.0) scale(0.9,1)" font-size="35" font-weight="bold" fill="#1a1010" stroke="#1a1010" stroke-width="0.8" style="stroke-width:0.8px;stroke:#1a1010">j</text>
<text x="110.9" y="1453.9" font-size="19.4" font-weight="bold" textLength="199.0" lengthAdjust="spacingAndGlyphs">Train and test group 1</text>
<rect x="89.20" y="1663.40" width="15.30" height="46.21" fill="#4179a8" />
<rect x="104.50" y="1663.40" width="15.30" height="31.20" fill="#e29e37" />
<rect x="127.82" y="1663.40" width="15.30" height="114.55" fill="#4179a8" />
<rect x="143.12" y="1663.40" width="15.30" height="91.24" fill="#e29e37" />
<rect x="166.44" y="1663.40" width="15.30" height="64.78" fill="#4179a8" />
<rect x="181.74" y="1663.40" width="15.30" height="33.18" fill="#e29e37" />
<rect x="205.06" y="1663.40" width="15.30" height="109.41" fill="#4179a8" />
<rect x="220.36" y="1663.40" width="15.30" height="85.32" fill="#e29e37" />
<rect x="243.68" y="1663.40" width="15.30" height="129.56" fill="#4179a8" />
<rect x="258.98" y="1663.40" width="15.30" height="106.26" fill="#e29e37" />
<rect x="282.30" y="1663.40" width="15.30" height="33.18" fill="#4179a8" />
<rect x="297.60" y="1663.40" width="15.30" height="11.45" fill="#e29e37" />
<rect x="320.92" y="1663.40" width="15.30" height="35.94" fill="#4179a8" />
<rect x="336.22" y="1663.40" width="15.30" height="24.10" fill="#e29e37" />
<line x1="86.5" y1="1460.7" x2="86.5" y2="1634.4" stroke="#454545" stroke-width="1.0" />
<line x1="86.0" y1="1634.5" x2="346.7" y2="1634.5" stroke="#454545" stroke-width="1.0" />
<line x1="90.9" y1="1626.5" x2="86.5" y2="1626.5" stroke="#454545" stroke-width="1.0" />
<text x="84.8" y="1632.4" font-size="17" text-anchor="end">0</text>
<line x1="90.9" y1="1594.5" x2="86.5" y2="1594.5" stroke="#454545" stroke-width="1.0" />
<text x="84.8" y="1600.8" font-size="17" text-anchor="end">20</text>
<line x1="90.9" y1="1563.5" x2="86.5" y2="1563.5" stroke="#454545" stroke-width="1.0" />
<text x="84.8" y="1569.3" font-size="17" text-anchor="end">40</text>
<line x1="90.9" y1="1531.5" x2="86.5" y2="1531.5" stroke="#454545" stroke-width="1.0" />
<text x="84.8" y="1537.7" font-size="17" text-anchor="end">60</text>
<line x1="90.9" y1="1499.5" x2="86.5" y2="1499.5" stroke="#454545" stroke-width="1.0" />
<text x="84.8" y="1506.1" font-size="17" text-anchor="end">80</text>
<line x1="90.9" y1="1468.5" x2="86.5" y2="1468.5" stroke="#454545" stroke-width="1.0" />
<text x="84.8" y="1474.5" font-size="17" text-anchor="end">100</text>
<line x1="97.5" y1="1634.4" x2="97.5" y2="1637.4" stroke="#454545" stroke-width="1.0" />
<text font-size="17" text-anchor="middle" transform="translate(97.6,1655.4) scale(0.86,1)">1</text>
<line x1="97.5" y1="1660.4" x2="97.5" y2="1663.4" stroke="#454545" stroke-width="1.0" />
<line x1="136.5" y1="1634.4" x2="136.5" y2="1637.4" stroke="#454545" stroke-width="1.0" />
<text font-size="17" text-anchor="middle" transform="translate(136.2,1655.4) scale(0.86,1)">2</text>
<line x1="136.5" y1="1660.4" x2="136.5" y2="1663.4" stroke="#454545" stroke-width="1.0" />
<line x1="174.5" y1="1634.4" x2="174.5" y2="1637.4" stroke="#454545" stroke-width="1.0" />
<text font-size="17" text-anchor="middle" transform="translate(174.8,1655.4) scale(0.86,1)">3</text>
<line x1="174.5" y1="1660.4" x2="174.5" y2="1663.4" stroke="#454545" stroke-width="1.0" />
<line x1="213.5" y1="1634.4" x2="213.5" y2="1637.4" stroke="#454545" stroke-width="1.0" />
<text font-size="17" text-anchor="middle" transform="translate(213.5,1655.4) scale(0.86,1)">4</text>
<line x1="213.5" y1="1660.4" x2="213.5" y2="1663.4" stroke="#454545" stroke-width="1.0" />
<line x1="252.5" y1="1634.4" x2="252.5" y2="1637.4" stroke="#454545" stroke-width="1.0" />
<text font-size="17" text-anchor="middle" transform="translate(252.1,1655.4) scale(0.86,1)">5</text>
<line x1="252.5" y1="1660.4" x2="252.5" y2="1663.4" stroke="#454545" stroke-width="1.0" />
<line x1="290.5" y1="1634.4" x2="290.5" y2="1637.4" stroke="#454545" stroke-width="1.0" />
<text font-size="17" text-anchor="middle" transform="translate(290.7,1655.4) scale(0.86,1)">6</text>
<line x1="290.5" y1="1660.4" x2="290.5" y2="1663.4" stroke="#454545" stroke-width="1.0" />
<line x1="329.5" y1="1634.4" x2="329.5" y2="1637.4" stroke="#454545" stroke-width="1.0" />
<text font-size="17" text-anchor="middle" transform="translate(329.3,1655.4) scale(0.86,1)">7</text>
<line x1="329.5" y1="1660.4" x2="329.5" y2="1663.4" stroke="#454545" stroke-width="1.0" />
<line x1="87.5" y1="1663.4" x2="87.5" y2="1820.7" stroke="#454545" stroke-width="1.0" />
<line x1="87.0" y1="1663.5" x2="351.0" y2="1663.5" stroke="#454545" stroke-width="1.0" />
<line x1="83.1" y1="1663.5" x2="87.5" y2="1663.5" stroke="#454545" stroke-width="1.0" />
<text x="81.9" y="1670.0" font-size="17" text-anchor="end">1</text>
<line x1="83.1" y1="1702.5" x2="87.5" y2="1702.5" stroke="#454545" stroke-width="1.0" />
<text x="81.9" y="1709.5" font-size="17" text-anchor="end">10</text>
<line x1="83.1" y1="1742.5" x2="87.5" y2="1742.5" stroke="#454545" stroke-width="1.0" />
<text x="81.9" y="1749.0" font-size="17" text-anchor="end">100</text>
<line x1="83.1" y1="1781.5" x2="87.5" y2="1781.5" stroke="#454545" stroke-width="1.0" />
<text x="81.9" y="1788.5" font-size="17" text-anchor="end">1000</text>
<line x1="83.1" y1="1821.5" x2="87.5" y2="1821.5" stroke="#454545" stroke-width="1.0" />
<text x="81.9" y="1828.0" font-size="17" text-anchor="end">10000</text>
<polyline points="97.6,1626.3 136.2,1588.4 174.8,1623.9 213.5,1599.5 252.1,1534.7 290.7,1626.3 329.3,1626.3" fill="none" stroke="#3c74a6" stroke-width="7.3" stroke-linejoin="round" stroke-linecap="butt"/>
<polyline points="97.6,1626.3 136.2,1588.4 174.8,1623.9 213.5,1599.5 252.1,1534.7 290.7,1626.3 329.3,1626.3" fill="none" stroke="#e2a23f" stroke-width="3.0" stroke-linejoin="round" stroke-linecap="butt"/>
<line x1="267.6" y1="1472.0" x2="302.7" y2="1472.0" stroke="#3c74a6" stroke-width="7.5" />
<line x1="269.6" y1="1492.6" x2="300.7" y2="1492.6" stroke="#e2a23f" stroke-width="3.4" />
<text x="311.0" y="1477.6" font-size="17.5">Train</text>
<text x="311.0" y="1498.2" font-size="17.5">Test</text>
<text x="458.1" y="1451.0" font-size="19.4" font-weight="bold" textLength="200.2" lengthAdjust="spacingAndGlyphs">Train and test group 2</text>
<rect x="431.90" y="1665.10" width="15.00" height="49.44" fill="#4179a8" />
<rect x="446.90" y="1665.10" width="15.00" height="28.43" fill="#e29e37" />
<rect x="469.87" y="1665.10" width="15.00" height="119.48" fill="#4179a8" />
<rect x="484.87" y="1665.10" width="15.00" height="94.35" fill="#e29e37" />
<rect x="507.84" y="1665.10" width="15.00" height="66.74" fill="#4179a8" />
<rect x="522.84" y="1665.10" width="15.00" height="39.55" fill="#e29e37" />
<rect x="545.81" y="1665.10" width="15.00" height="114.12" fill="#4179a8" />
<rect x="560.81" y="1665.10" width="15.00" height="88.58" fill="#e29e37" />
<rect x="583.78" y="1665.10" width="15.00" height="135.55" fill="#4179a8" />
<rect x="598.78" y="1665.10" width="15.00" height="110.42" fill="#e29e37" />
<rect x="621.75" y="1665.10" width="15.00" height="34.61" fill="#4179a8" />
<rect x="636.75" y="1665.10" width="15.00" height="12.36" fill="#e29e37" />
<rect x="659.72" y="1665.10" width="15.00" height="40.79" fill="#4179a8" />
<line x1="436.5" y1="1453.9" x2="436.5" y2="1635.5" stroke="#454545" stroke-width="1.0" />
<line x1="430.3" y1="1635.5" x2="690.5" y2="1635.5" stroke="#454545" stroke-width="1.0" />
<line x1="432.9" y1="1627.5" x2="436.6" y2="1627.5" stroke="#454545" stroke-width="1.0" />
<text x="428.8" y="1633.9" font-size="17" text-anchor="end">0</text>
<line x1="432.9" y1="1594.5" x2="436.6" y2="1594.5" stroke="#454545" stroke-width="1.0" />
<text x="428.8" y="1600.9" font-size="17" text-anchor="end">20</text>
<line x1="432.9" y1="1561.5" x2="436.6" y2="1561.5" stroke="#454545" stroke-width="1.0" />
<text x="428.8" y="1567.9" font-size="17" text-anchor="end">40</text>
<line x1="432.9" y1="1528.5" x2="436.6" y2="1528.5" stroke="#454545" stroke-width="1.0" />
<text x="428.8" y="1534.9" font-size="17" text-anchor="end">60</text>
<line x1="432.9" y1="1495.5" x2="436.6" y2="1495.5" stroke="#454545" stroke-width="1.0" />
<text x="428.8" y="1501.9" font-size="17" text-anchor="end">80</text>
<line x1="432.9" y1="1462.5" x2="436.6" y2="1462.5" stroke="#454545" stroke-width="1.0" />
<text x="428.8" y="1468.9" font-size="17" text-anchor="end">100</text>
<line x1="441.5" y1="1635.5" x2="441.5" y2="1638.5" stroke="#454545" stroke-width="1.0" />
<text font-size="17.4" text-anchor="middle" transform="translate(441.6,1659.0) scale(0.82,1)">1</text>
<line x1="441.5" y1="1662.1" x2="441.5" y2="1665.1" stroke="#454545" stroke-width="1.0" />
<line x1="479.5" y1="1635.5" x2="479.5" y2="1638.5" stroke="#454545" stroke-width="1.0" />
<text font-size="17.4" text-anchor="middle" transform="translate(479.6,1659.0) scale(0.82,1)">2</text>
<line x1="479.5" y1="1662.1" x2="479.5" y2="1665.1" stroke="#454545" stroke-width="1.0" />
<line x1="517.5" y1="1635.5" x2="517.5" y2="1638.5" stroke="#454545" stroke-width="1.0" />
<text font-size="17.4" text-anchor="middle" transform="translate(517.5,1659.0) scale(0.82,1)">3</text>
<line x1="517.5" y1="1662.1" x2="517.5" y2="1665.1" stroke="#454545" stroke-width="1.0" />
<line x1="555.5" y1="1635.5" x2="555.5" y2="1638.5" stroke="#454545" stroke-width="1.0" />
<text font-size="17.4" text-anchor="middle" transform="translate(555.5,1659.0) scale(0.82,1)">4</text>
<line x1="555.5" y1="1662.1" x2="555.5" y2="1665.1" stroke="#454545" stroke-width="1.0" />
<line x1="593.5" y1="1635.5" x2="593.5" y2="1638.5" stroke="#454545" stroke-width="1.0" />
<text font-size="17.4" text-anchor="middle" transform="translate(593.5,1659.0) scale(0.82,1)">5</text>
<line x1="593.5" y1="1662.1" x2="593.5" y2="1665.1" stroke="#454545" stroke-width="1.0" />
<line x1="631.5" y1="1635.5" x2="631.5" y2="1638.5" stroke="#454545" stroke-width="1.0" />
<text font-size="17.4" text-anchor="middle" transform="translate(631.5,1659.0) scale(0.82,1)">6</text>
<line x1="631.5" y1="1662.1" x2="631.5" y2="1665.1" stroke="#454545" stroke-width="1.0" />
<line x1="669.5" y1="1635.5" x2="669.5" y2="1638.5" stroke="#454545" stroke-width="1.0" />
<text font-size="17.4" text-anchor="middle" transform="translate(669.4,1659.0) scale(0.82,1)">7</text>
<line x1="669.5" y1="1662.1" x2="669.5" y2="1665.1" stroke="#454545" stroke-width="1.0" />
<line x1="429.5" y1="1665.1" x2="429.5" y2="1830.4" stroke="#454545" stroke-width="1.0" />
<line x1="429.1" y1="1665.5" x2="690.5" y2="1665.5" stroke="#454545" stroke-width="1.0" />
<line x1="425.2" y1="1665.5" x2="429.6" y2="1665.5" stroke="#454545" stroke-width="1.0" />
<text x="424.0" y="1674.6" font-size="17" text-anchor="end">1</text>
<line x1="425.2" y1="1706.5" x2="429.6" y2="1706.5" stroke="#454545" stroke-width="1.0" />
<text x="424.0" y="1714.8" font-size="17" text-anchor="end">10</text>
<line x1="425.2" y1="1747.5" x2="429.6" y2="1747.5" stroke="#454545" stroke-width="1.0" />
<text x="424.0" y="1755.0" font-size="17" text-anchor="end">100</text>
<line x1="425.2" y1="1788.5" x2="429.6" y2="1788.5" stroke="#454545" stroke-width="1.0" />
<text x="424.0" y="1795.2" font-size="17" text-anchor="end">1000</text>
<line x1="425.2" y1="1829.5" x2="429.6" y2="1829.5" stroke="#454545" stroke-width="1.0" />
<text x="424.0" y="1835.4" font-size="17" text-anchor="end">10000</text>
<polyline points="441.6,1627.8 479.6,1588.2 517.5,1625.3 555.5,1599.8 593.5,1532.1 631.5,1627.8 669.4,1627.8" fill="none" stroke="#3c74a6" stroke-width="7.3" stroke-linejoin="round" stroke-linecap="round"/>
<circle cx="441.6" cy="1627.8" r="4.2" fill="#3c74a6"/>
<circle cx="479.6" cy="1588.2" r="4.2" fill="#3c74a6"/>
<circle cx="517.5" cy="1625.3" r="4.2" fill="#3c74a6"/>
<circle cx="555.5" cy="1599.8" r="4.2" fill="#3c74a6"/>
<circle cx="593.5" cy="1532.1" r="4.2" fill="#3c74a6"/>
<circle cx="631.5" cy="1627.8" r="4.2" fill="#3c74a6"/>
<circle cx="669.4" cy="1627.8" r="4.2" fill="#3c74a6"/>
<polyline points="441.6,1627.8 479.6,1588.2 517.5,1625.3 555.5,1599.8 593.5,1532.1 631.5,1627.8 669.4,1627.8" fill="none" stroke="#e2a23f" stroke-width="3.0" stroke-linejoin="round" stroke-linecap="butt"/>
<line x1="611.8" y1="1477.4" x2="646.2" y2="1477.4" stroke="#3c74a6" stroke-width="7.5" />
<line x1="613.8" y1="1497.5" x2="644.2" y2="1497.5" stroke="#e2a23f" stroke-width="3.4" />
<text x="654.2" y="1482.5" font-size="17.5">Train</text>
<text x="654.2" y="1503.0" font-size="17.5">Test</text>
<text x="792.0" y="1451.5" font-size="19.4" font-weight="bold" textLength="201.0" lengthAdjust="spacingAndGlyphs">Train and test group 3</text>
<rect x="763.50" y="1666.00" width="16.20" height="49.62" fill="#4179a8" />
<rect x="779.70" y="1666.00" width="16.20" height="28.94" fill="#e29e37" />
<rect x="803.45" y="1666.00" width="16.20" height="120.33" fill="#4179a8" />
<rect x="819.65" y="1666.00" width="16.20" height="93.86" fill="#e29e37" />
<rect x="843.40" y="1666.00" width="16.20" height="66.16" fill="#4179a8" />
<rect x="859.60" y="1666.00" width="16.20" height="44.66" fill="#e29e37" />
<rect x="883.35" y="1666.00" width="16.20" height="114.54" fill="#4179a8" />
<rect x="899.55" y="1666.00" width="16.20" height="89.32" fill="#e29e37" />
<rect x="923.30" y="1666.00" width="16.20" height="136.87" fill="#4179a8" />
<rect x="939.50" y="1666.00" width="16.20" height="110.82" fill="#e29e37" />
<rect x="963.25" y="1666.00" width="16.20" height="35.15" fill="#4179a8" />
<rect x="1003.20" y="1666.00" width="16.20" height="41.35" fill="#4179a8" />
<rect x="1019.40" y="1666.00" width="16.20" height="12.40" fill="#e29e37" />
<line x1="766.5" y1="1455.1" x2="766.5" y2="1637.9" stroke="#454545" stroke-width="1.0" />
<line x1="761.5" y1="1637.5" x2="1031.2" y2="1637.5" stroke="#454545" stroke-width="1.0" />
<line x1="762.9" y1="1629.5" x2="766.8" y2="1629.5" stroke="#454545" stroke-width="1.0" />
<text x="761.2" y="1635.6" font-size="17" text-anchor="end">0</text>
<line x1="762.9" y1="1596.5" x2="766.8" y2="1596.5" stroke="#454545" stroke-width="1.0" />
<text x="761.2" y="1602.4" font-size="17" text-anchor="end">20</text>
<line x1="762.9" y1="1563.5" x2="766.8" y2="1563.5" stroke="#454545" stroke-width="1.0" />
<text x="761.2" y="1569.2" font-size="17" text-anchor="end">40</text>
<line x1="762.9" y1="1529.5" x2="766.8" y2="1529.5" stroke="#454545" stroke-width="1.0" />
<text x="761.2" y="1536.0" font-size="17" text-anchor="end">60</text>
<line x1="762.9" y1="1496.5" x2="766.8" y2="1496.5" stroke="#454545" stroke-width="1.0" />
<text x="761.2" y="1502.8" font-size="17" text-anchor="end">80</text>
<line x1="762.9" y1="1463.5" x2="766.8" y2="1463.5" stroke="#454545" stroke-width="1.0" />
<text x="761.2" y="1469.6" font-size="17" text-anchor="end">100</text>
<line x1="774.5" y1="1637.9" x2="774.5" y2="1640.9" stroke="#454545" stroke-width="1.0" />
<text font-size="17.4" text-anchor="middle" transform="translate(774.1,1656.8) scale(0.82,1)">1</text>
<line x1="774.5" y1="1663.0" x2="774.5" y2="1666.0" stroke="#454545" stroke-width="1.0" />
<line x1="814.5" y1="1637.9" x2="814.5" y2="1640.9" stroke="#454545" stroke-width="1.0" />
<text font-size="17.4" text-anchor="middle" transform="translate(814.1,1656.8) scale(0.82,1)">2</text>
<line x1="814.5" y1="1663.0" x2="814.5" y2="1666.0" stroke="#454545" stroke-width="1.0" />
<line x1="854.5" y1="1637.9" x2="854.5" y2="1640.9" stroke="#454545" stroke-width="1.0" />
<text font-size="17.4" text-anchor="middle" transform="translate(854.0,1656.8) scale(0.82,1)">3</text>
<line x1="854.5" y1="1663.0" x2="854.5" y2="1666.0" stroke="#454545" stroke-width="1.0" />
<line x1="893.5" y1="1637.9" x2="893.5" y2="1640.9" stroke="#454545" stroke-width="1.0" />
<text font-size="17.4" text-anchor="middle" transform="translate(894.0,1656.8) scale(0.82,1)">4</text>
<line x1="893.5" y1="1663.0" x2="893.5" y2="1666.0" stroke="#454545" stroke-width="1.0" />
<line x1="933.5" y1="1637.9" x2="933.5" y2="1640.9" stroke="#454545" stroke-width="1.0" />
<text font-size="17.4" text-anchor="middle" transform="translate(933.9,1656.8) scale(0.82,1)">5</text>
<line x1="933.5" y1="1663.0" x2="933.5" y2="1666.0" stroke="#454545" stroke-width="1.0" />
<line x1="973.5" y1="1637.9" x2="973.5" y2="1640.9" stroke="#454545" stroke-width="1.0" />
<text font-size="17.4" text-anchor="middle" transform="translate(973.9,1656.8) scale(0.82,1)">6</text>
<line x1="973.5" y1="1663.0" x2="973.5" y2="1666.0" stroke="#454545" stroke-width="1.0" />
<line x1="1013.5" y1="1637.9" x2="1013.5" y2="1640.9" stroke="#454545" stroke-width="1.0" />
<text font-size="17.4" text-anchor="middle" transform="translate(1013.8,1656.8) scale(0.82,1)">7</text>
<line x1="1013.5" y1="1663.0" x2="1013.5" y2="1666.0" stroke="#454545" stroke-width="1.0" />
<line x1="762.5" y1="1666.0" x2="762.5" y2="1831.6" stroke="#454545" stroke-width="1.0" />
<line x1="761.5" y1="1666.5" x2="1035.4" y2="1666.5" stroke="#454545" stroke-width="1.0" />
<line x1="757.2" y1="1666.5" x2="762.0" y2="1666.5" stroke="#454545" stroke-width="1.0" />
<text x="754.0" y="1673.1" font-size="17" text-anchor="end">1</text>
<line x1="757.2" y1="1707.5" x2="762.0" y2="1707.5" stroke="#454545" stroke-width="1.0" />
<text x="754.0" y="1714.0" font-size="17" text-anchor="end">10</text>
<line x1="757.2" y1="1748.5" x2="762.0" y2="1748.5" stroke="#454545" stroke-width="1.0" />
<text x="754.0" y="1754.8" font-size="17" text-anchor="end">100</text>
<line x1="757.2" y1="1790.5" x2="762.0" y2="1790.5" stroke="#454545" stroke-width="1.0" />
<text x="754.0" y="1795.7" font-size="17" text-anchor="end">1000</text>
<line x1="757.2" y1="1831.5" x2="762.0" y2="1831.5" stroke="#454545" stroke-width="1.0" />
<text x="754.0" y="1836.5" font-size="17" text-anchor="end">10000</text>
<polyline points="774.1,1629.5 814.1,1589.7 854.0,1627.0 894.0,1601.3 933.9,1533.2 973.9,1629.5 1013.8,1629.5" fill="none" stroke="#3c74a6" stroke-width="7.3" stroke-linejoin="round" stroke-linecap="round"/>
<circle cx="774.1" cy="1629.5" r="4.2" fill="#3c74a6"/>
<circle cx="814.1" cy="1589.7" r="4.2" fill="#3c74a6"/>
<circle cx="854.0" cy="1627.0" r="4.2" fill="#3c74a6"/>
<circle cx="894.0" cy="1601.3" r="4.2" fill="#3c74a6"/>
<circle cx="933.9" cy="1533.2" r="4.2" fill="#3c74a6"/>
<circle cx="973.9" cy="1629.5" r="4.2" fill="#3c74a6"/>
<circle cx="1013.8" cy="1629.5" r="4.2" fill="#3c74a6"/>
<polyline points="774.1,1629.5 814.1,1589.7 854.0,1627.0 894.0,1601.3 933.9,1533.2 973.9,1629.5 1013.8,1629.5" fill="none" stroke="#e2a23f" stroke-width="3.0" stroke-linejoin="round" stroke-linecap="butt"/>
<line x1="942.9" y1="1472.0" x2="978.0" y2="1472.0" stroke="#3c74a6" stroke-width="7.5" />
<line x1="944.9" y1="1492.6" x2="976.0" y2="1492.6" stroke="#e2a23f" stroke-width="3.4" />
<text x="985.7" y="1477.4" font-size="17.5">Train</text>
<text x="985.7" y="1498.0" font-size="17.5">Test</text>
<text x="1129.0" y="1450.8" font-size="19.4" font-weight="bold" textLength="199.0" lengthAdjust="spacingAndGlyphs">Train and test group 4</text>
<rect x="1107.60" y="1669.40" width="14.70" height="52.64" fill="#4179a8" />
<rect x="1122.30" y="1669.40" width="14.70" height="12.02" fill="#e29e37" />
<rect x="1145.05" y="1669.40" width="14.70" height="120.20" fill="#4179a8" />
<rect x="1159.75" y="1669.40" width="14.70" height="94.09" fill="#e29e37" />
<rect x="1182.50" y="1669.40" width="14.70" height="65.91" fill="#4179a8" />
<rect x="1197.20" y="1669.40" width="14.70" height="42.69" fill="#e29e37" />
<rect x="1219.95" y="1669.40" width="14.70" height="114.40" fill="#4179a8" />
<rect x="1234.65" y="1669.40" width="14.70" height="88.70" fill="#e29e37" />
<rect x="1257.40" y="1669.40" width="14.70" height="136.37" fill="#4179a8" />
<rect x="1272.10" y="1669.40" width="14.70" height="110.67" fill="#e29e37" />
<rect x="1294.85" y="1669.40" width="14.70" height="34.82" fill="#4179a8" />
<rect x="1309.55" y="1669.40" width="14.70" height="12.02" fill="#e29e37" />
<rect x="1332.30" y="1669.40" width="14.70" height="41.45" fill="#4179a8" />
<rect x="1347.00" y="1669.40" width="14.70" height="12.02" fill="#e29e37" />
<line x1="1109.5" y1="1455.1" x2="1109.5" y2="1638.1" stroke="#454545" stroke-width="1.0" />
<line x1="1103.4" y1="1638.5" x2="1356.6" y2="1638.5" stroke="#454545" stroke-width="1.0" />
<line x1="1105.8" y1="1629.5" x2="1109.2" y2="1629.5" stroke="#454545" stroke-width="1.0" />
<text x="1102.2" y="1636.0" font-size="17" text-anchor="end">0</text>
<line x1="1105.8" y1="1596.5" x2="1109.2" y2="1596.5" stroke="#454545" stroke-width="1.0" />
<text x="1102.2" y="1602.6" font-size="17" text-anchor="end">20</text>
<line x1="1105.8" y1="1563.5" x2="1109.2" y2="1563.5" stroke="#454545" stroke-width="1.0" />
<text x="1102.2" y="1569.2" font-size="17" text-anchor="end">40</text>
<line x1="1105.8" y1="1529.5" x2="1109.2" y2="1529.5" stroke="#454545" stroke-width="1.0" />
<text x="1102.2" y="1535.8" font-size="17" text-anchor="end">60</text>
<line x1="1105.8" y1="1496.5" x2="1109.2" y2="1496.5" stroke="#454545" stroke-width="1.0" />
<text x="1102.2" y="1502.4" font-size="17" text-anchor="end">80</text>
<line x1="1105.8" y1="1462.5" x2="1109.2" y2="1462.5" stroke="#454545" stroke-width="1.0" />
<text x="1102.2" y="1469.0" font-size="17" text-anchor="end">100</text>
<line x1="1114.5" y1="1638.1" x2="1114.5" y2="1641.1" stroke="#454545" stroke-width="1.0" />
<text font-size="17.4" text-anchor="middle" transform="translate(1114.4,1660.2) scale(0.82,1)">1</text>
<line x1="1114.5" y1="1666.4" x2="1114.5" y2="1669.4" stroke="#454545" stroke-width="1.0" />
<line x1="1151.5" y1="1638.1" x2="1151.5" y2="1641.1" stroke="#454545" stroke-width="1.0" />
<text font-size="17.4" text-anchor="middle" transform="translate(1151.9,1660.2) scale(0.82,1)">2</text>
<line x1="1151.5" y1="1666.4" x2="1151.5" y2="1669.4" stroke="#454545" stroke-width="1.0" />
<line x1="1189.5" y1="1638.1" x2="1189.5" y2="1641.1" stroke="#454545" stroke-width="1.0" />
<text font-size="17.4" text-anchor="middle" transform="translate(1189.3,1660.2) scale(0.82,1)">3</text>
<line x1="1189.5" y1="1666.4" x2="1189.5" y2="1669.4" stroke="#454545" stroke-width="1.0" />
<line x1="1226.5" y1="1638.1" x2="1226.5" y2="1641.1" stroke="#454545" stroke-width="1.0" />
<text font-size="17.4" text-anchor="middle" transform="translate(1226.8,1660.2) scale(0.82,1)">4</text>
<line x1="1226.5" y1="1666.4" x2="1226.5" y2="1669.4" stroke="#454545" stroke-width="1.0" />
<line x1="1264.5" y1="1638.1" x2="1264.5" y2="1641.1" stroke="#454545" stroke-width="1.0" />
<text font-size="17.4" text-anchor="middle" transform="translate(1264.2,1660.2) scale(0.82,1)">5</text>
<line x1="1264.5" y1="1666.4" x2="1264.5" y2="1669.4" stroke="#454545" stroke-width="1.0" />
<line x1="1301.5" y1="1638.1" x2="1301.5" y2="1641.1" stroke="#454545" stroke-width="1.0" />
<text font-size="17.4" text-anchor="middle" transform="translate(1301.7,1660.2) scale(0.82,1)">6</text>
<line x1="1301.5" y1="1666.4" x2="1301.5" y2="1669.4" stroke="#454545" stroke-width="1.0" />
<line x1="1339.5" y1="1638.1" x2="1339.5" y2="1641.1" stroke="#454545" stroke-width="1.0" />
<text font-size="17.4" text-anchor="middle" transform="translate(1339.1,1660.2) scale(0.82,1)">7</text>
<line x1="1339.5" y1="1666.4" x2="1339.5" y2="1669.4" stroke="#454545" stroke-width="1.0" />
<line x1="1107.5" y1="1669.4" x2="1107.5" y2="1835.7" stroke="#454545" stroke-width="1.0" />
<line x1="1106.8" y1="1669.5" x2="1356.6" y2="1669.5" stroke="#454545" stroke-width="1.0" />
<line x1="1102.9" y1="1669.5" x2="1107.3" y2="1669.5" stroke="#454545" stroke-width="1.0" />
<text x="1102.7" y="1676.5" font-size="17" text-anchor="end">1</text>
<line x1="1102.9" y1="1710.5" x2="1107.3" y2="1710.5" stroke="#454545" stroke-width="1.0" />
<text x="1102.7" y="1717.1" font-size="17" text-anchor="end">10</text>
<line x1="1102.9" y1="1752.5" x2="1107.3" y2="1752.5" stroke="#454545" stroke-width="1.0" />
<text x="1102.7" y="1757.7" font-size="17" text-anchor="end">100</text>
<line x1="1102.9" y1="1793.5" x2="1107.3" y2="1793.5" stroke="#454545" stroke-width="1.0" />
<text x="1102.7" y="1798.3" font-size="17" text-anchor="end">1000</text>
<line x1="1102.9" y1="1835.5" x2="1107.3" y2="1835.5" stroke="#454545" stroke-width="1.0" />
<text x="1102.7" y="1838.9" font-size="17" text-anchor="end">10000</text>
<polyline points="1114.4,1629.9 1151.9,1589.8 1189.3,1627.4 1226.8,1601.5 1264.2,1533.0 1301.7,1629.9 1339.1,1629.9" fill="none" stroke="#3c74a6" stroke-width="7.3" stroke-linejoin="round" stroke-linecap="round"/>
<circle cx="1114.4" cy="1629.9" r="4.2" fill="#3c74a6"/>
<circle cx="1151.9" cy="1589.8" r="4.2" fill="#3c74a6"/>
<circle cx="1189.3" cy="1627.4" r="4.2" fill="#3c74a6"/>
<circle cx="1226.8" cy="1601.5" r="4.2" fill="#3c74a6"/>
<circle cx="1264.2" cy="1533.0" r="4.2" fill="#3c74a6"/>
<circle cx="1301.7" cy="1629.9" r="4.2" fill="#3c74a6"/>
<circle cx="1339.1" cy="1629.9" r="4.2" fill="#3c74a6"/>
<polyline points="1114.4,1629.9 1151.9,1589.8 1189.3,1627.4 1226.8,1601.5 1264.2,1533.0 1301.7,1629.9 1339.1,1629.9" fill="none" stroke="#e2a23f" stroke-width="3.0" stroke-linejoin="round" stroke-linecap="butt"/>
<line x1="1279.1" y1="1467.7" x2="1314.2" y2="1467.7" stroke="#3c74a6" stroke-width="7.5" />
<line x1="1281.1" y1="1488.5" x2="1312.2" y2="1488.5" stroke="#e2a23f" stroke-width="3.4" />
<text x="1322.2" y="1473.0" font-size="17.5">Train</text>
<text x="1322.2" y="1493.6" font-size="17.5">Test</text>
<text x="1446.6" y="1447.1" font-size="19.4" font-weight="bold" textLength="200.0" lengthAdjust="spacingAndGlyphs">Train and test group 5</text>
<rect x="1424.90" y="1672.10" width="14.50" height="51.12" fill="#4179a8" />
<rect x="1439.40" y="1672.10" width="14.50" height="20.04" fill="#e29e37" />
<rect x="1461.22" y="1672.10" width="14.50" height="119.43" fill="#4179a8" />
<rect x="1475.72" y="1672.10" width="14.50" height="92.84" fill="#e29e37" />
<rect x="1497.54" y="1672.10" width="14.50" height="65.44" fill="#4179a8" />
<rect x="1512.04" y="1672.10" width="14.50" height="42.94" fill="#e29e37" />
<rect x="1533.86" y="1672.10" width="14.50" height="113.29" fill="#4179a8" />
<rect x="1548.36" y="1672.10" width="14.50" height="88.34" fill="#e29e37" />
<rect x="1570.18" y="1672.10" width="14.50" height="135.38" fill="#4179a8" />
<rect x="1584.68" y="1672.10" width="14.50" height="110.02" fill="#e29e37" />
<rect x="1606.50" y="1672.10" width="14.50" height="36.81" fill="#4179a8" />
<rect x="1642.82" y="1672.10" width="14.50" height="40.49" fill="#4179a8" />
<line x1="1429.5" y1="1458.7" x2="1429.5" y2="1639.4" stroke="#454545" stroke-width="1.0" />
<line x1="1421.9" y1="1639.5" x2="1667.7" y2="1639.5" stroke="#454545" stroke-width="1.0" />
<line x1="1425.8" y1="1630.5" x2="1429.2" y2="1630.5" stroke="#454545" stroke-width="1.0" />
<text x="1422.2" y="1636.8" font-size="17" text-anchor="end">0</text>
<line x1="1425.8" y1="1597.5" x2="1429.2" y2="1597.5" stroke="#454545" stroke-width="1.0" />
<text x="1422.2" y="1604.0" font-size="17" text-anchor="end">20</text>
<line x1="1425.8" y1="1565.5" x2="1429.2" y2="1565.5" stroke="#454545" stroke-width="1.0" />
<text x="1422.2" y="1571.2" font-size="17" text-anchor="end">40</text>
<line x1="1425.8" y1="1532.5" x2="1429.2" y2="1532.5" stroke="#454545" stroke-width="1.0" />
<text x="1422.2" y="1538.4" font-size="17" text-anchor="end">60</text>
<line x1="1425.8" y1="1499.5" x2="1429.2" y2="1499.5" stroke="#454545" stroke-width="1.0" />
<text x="1422.2" y="1505.6" font-size="17" text-anchor="end">80</text>
<line x1="1425.8" y1="1466.5" x2="1429.2" y2="1466.5" stroke="#454545" stroke-width="1.0" />
<text x="1422.2" y="1472.8" font-size="17" text-anchor="end">100</text>
<line x1="1432.5" y1="1639.4" x2="1432.5" y2="1642.4" stroke="#454545" stroke-width="1.0" />
<text font-size="17.4" text-anchor="middle" transform="translate(1432.8,1664.1) scale(0.82,1)">1</text>
<line x1="1432.5" y1="1669.1" x2="1432.5" y2="1672.1" stroke="#454545" stroke-width="1.0" />
<line x1="1469.5" y1="1639.4" x2="1469.5" y2="1642.4" stroke="#454545" stroke-width="1.0" />
<text font-size="17.4" text-anchor="middle" transform="translate(1469.1,1664.1) scale(0.82,1)">2</text>
<line x1="1469.5" y1="1669.1" x2="1469.5" y2="1672.1" stroke="#454545" stroke-width="1.0" />
<line x1="1505.5" y1="1639.4" x2="1505.5" y2="1642.4" stroke="#454545" stroke-width="1.0" />
<text font-size="17.4" text-anchor="middle" transform="translate(1505.4,1664.1) scale(0.82,1)">3</text>
<line x1="1505.5" y1="1669.1" x2="1505.5" y2="1672.1" stroke="#454545" stroke-width="1.0" />
<line x1="1541.5" y1="1639.4" x2="1541.5" y2="1642.4" stroke="#454545" stroke-width="1.0" />
<text font-size="17.4" text-anchor="middle" transform="translate(1541.8,1664.1) scale(0.82,1)">4</text>
<line x1="1541.5" y1="1669.1" x2="1541.5" y2="1672.1" stroke="#454545" stroke-width="1.0" />
<line x1="1578.5" y1="1639.4" x2="1578.5" y2="1642.4" stroke="#454545" stroke-width="1.0" />
<text font-size="17.4" text-anchor="middle" transform="translate(1578.1,1664.1) scale(0.82,1)">5</text>
<line x1="1578.5" y1="1669.1" x2="1578.5" y2="1672.1" stroke="#454545" stroke-width="1.0" />
<line x1="1614.5" y1="1639.4" x2="1614.5" y2="1642.4" stroke="#454545" stroke-width="1.0" />
<text font-size="17.4" text-anchor="middle" transform="translate(1614.4,1664.1) scale(0.82,1)">6</text>
<line x1="1614.5" y1="1669.1" x2="1614.5" y2="1672.1" stroke="#454545" stroke-width="1.0" />
<line x1="1650.5" y1="1639.4" x2="1650.5" y2="1642.4" stroke="#454545" stroke-width="1.0" />
<text font-size="17.4" text-anchor="middle" transform="translate(1650.7,1664.1) scale(0.82,1)">7</text>
<line x1="1650.5" y1="1669.1" x2="1650.5" y2="1672.1" stroke="#454545" stroke-width="1.0" />
<line x1="1423.5" y1="1672.1" x2="1423.5" y2="1835.3" stroke="#454545" stroke-width="1.0" />
<line x1="1422.9" y1="1672.5" x2="1667.7" y2="1672.5" stroke="#454545" stroke-width="1.0" />
<line x1="1418.1" y1="1672.5" x2="1423.4" y2="1672.5" stroke="#454545" stroke-width="1.0" />
<text x="1416.9" y="1681.2" font-size="17" text-anchor="end">1</text>
<line x1="1418.1" y1="1713.5" x2="1423.4" y2="1713.5" stroke="#454545" stroke-width="1.0" />
<text x="1416.9" y="1720.3" font-size="17" text-anchor="end">10</text>
<line x1="1418.1" y1="1753.5" x2="1423.4" y2="1753.5" stroke="#454545" stroke-width="1.0" />
<text x="1416.9" y="1759.4" font-size="17" text-anchor="end">100</text>
<line x1="1418.1" y1="1794.5" x2="1423.4" y2="1794.5" stroke="#454545" stroke-width="1.0" />
<text x="1416.9" y="1798.5" font-size="17" text-anchor="end">1000</text>
<line x1="1418.1" y1="1835.5" x2="1423.4" y2="1835.5" stroke="#454545" stroke-width="1.0" />
<text x="1416.9" y="1837.6" font-size="17" text-anchor="end">10000</text>
<polyline points="1432.8,1630.7 1469.1,1591.3 1505.4,1628.2 1541.8,1602.8 1578.1,1535.6 1614.4,1630.7 1650.7,1630.7" fill="none" stroke="#3c74a6" stroke-width="7.3" stroke-linejoin="round" stroke-linecap="round"/>
<circle cx="1432.8" cy="1630.7" r="4.2" fill="#3c74a6"/>
<circle cx="1469.1" cy="1591.3" r="4.2" fill="#3c74a6"/>
<circle cx="1505.4" cy="1628.2" r="4.2" fill="#3c74a6"/>
<circle cx="1541.8" cy="1602.8" r="4.2" fill="#3c74a6"/>
<circle cx="1578.1" cy="1535.6" r="4.2" fill="#3c74a6"/>
<circle cx="1614.4" cy="1630.7" r="4.2" fill="#3c74a6"/>
<circle cx="1650.7" cy="1630.7" r="4.2" fill="#3c74a6"/>
<polyline points="1432.8,1630.7 1469.1,1591.3 1505.4,1628.2 1541.8,1602.8 1578.1,1535.6 1614.4,1630.7 1650.7,1630.7" fill="none" stroke="#e2a23f" stroke-width="3.0" stroke-linejoin="round" stroke-linecap="butt"/>
<line x1="1593.8" y1="1470.8" x2="1628.9" y2="1470.8" stroke="#3c74a6" stroke-width="7.5" />
<line x1="1595.8" y1="1491.4" x2="1626.9" y2="1491.4" stroke="#e2a23f" stroke-width="3.4" />
<text x="1636.9" y="1476.2" font-size="17.5">Train</text>
<text x="1636.9" y="1496.8" font-size="17.5">Test</text>
<text font-size="18" text-anchor="middle" transform="translate(29.3,1538.6) rotate(-90)">Percentage</text>
<text font-size="18" text-anchor="middle" textLength="187.0" lengthAdjust="spacingAndGlyphs" transform="translate(29.3,1739.6) rotate(-90)">CDR3β Number (log10)</text>
<text x="97.6" y="1792.9" font-size="15.8" textLength="109.4" lengthAdjust="spacingAndGlyphs">1. Francis-2022</text>
<text x="97.6" y="1811.4" font-size="15.8" textLength="59.8" lengthAdjust="spacingAndGlyphs">2. IEDB</text>
<text x="97.6" y="1828.3" font-size="15.8" textLength="108.2" lengthAdjust="spacingAndGlyphs">3. IMMREP23</text>
<text x="97.6" y="1845.0" font-size="15.8" textLength="94.9" lengthAdjust="spacingAndGlyphs">4. Luo-2018</text>
<text x="212.6" y="1811.8" font-size="15.8" textLength="126.4" lengthAdjust="spacingAndGlyphs">5. Minervina-2022</text>
<text x="212.6" y="1828.3" font-size="15.8" textLength="109.4" lengthAdjust="spacingAndGlyphs">6. Mudd-2022</text>
<text x="212.6" y="1845.0" font-size="15.8" textLength="73.8" lengthAdjust="spacingAndGlyphs">7. TBAdb</text>
<text transform="translate(10.3,1887.8) scale(0.9,1)" font-size="35" font-weight="bold" fill="#1a1010" stroke="#1a1010" stroke-width="0.8" style="stroke-width:0.8px;stroke:#1a1010">k</text>
<text x="348.3" y="1885.7" font-size="19.4" font-weight="bold" textLength="396.5" lengthAdjust="spacingAndGlyphs">Seen / Independent test / CDR3β+others</text>
<rect x="156.80" y="1894.80" width="778.10" height="164.00" fill="#f4f4f4" />
<rect x="156.80" y="1894.80" width="43.53" height="33.00" fill="#f3d5cc" />
<rect x="200.03" y="1894.80" width="43.53" height="33.00" fill="#efa28c" />
<rect x="243.26" y="1894.80" width="43.53" height="33.00" fill="#efc1b3" />
<rect x="286.48" y="1894.80" width="43.53" height="33.00" fill="#d2403d" />
<rect x="329.71" y="1894.80" width="43.53" height="33.00" fill="#e26a58" />
<rect x="372.94" y="1894.80" width="43.53" height="33.00" fill="#f3d5cc" />
<rect x="416.17" y="1894.80" width="43.53" height="33.00" fill="#d33f3c" />
<rect x="416.17" y="1927.60" width="43.53" height="33.00" fill="#f1c6b8" />
<rect x="459.39" y="1927.60" width="43.53" height="33.00" fill="#f0ae9a" />
<rect x="502.62" y="1927.60" width="43.53" height="33.00" fill="#f2d6cd" />
<rect x="545.85" y="1927.60" width="43.53" height="33.00" fill="#f2d6cd" />
<rect x="589.08" y="1927.60" width="43.53" height="33.00" fill="#f0b8a5" />
<rect x="632.31" y="1927.60" width="43.53" height="33.00" fill="#ee9c84" />
<rect x="502.62" y="1960.40" width="43.53" height="33.00" fill="#e16655" />
<rect x="589.08" y="1960.40" width="43.53" height="33.00" fill="#be2222" />
<rect x="675.53" y="1960.40" width="43.53" height="33.00" fill="#efa692" />
<rect x="718.76" y="1960.40" width="43.53" height="33.00" fill="#f2d6cd" />
<rect x="761.99" y="1993.20" width="43.53" height="33.00" fill="#f2d6cd" />
<rect x="805.22" y="1993.20" width="43.53" height="33.00" fill="#f0ae9a" />
<rect x="848.44" y="1993.20" width="43.53" height="33.00" fill="#e16655" />
<rect x="459.39" y="2026.00" width="43.53" height="33.00" fill="#c42626" />
<rect x="891.67" y="2026.00" width="43.53" height="33.00" fill="#f2d6cd" />
<text x="145.9" y="1917.7" font-size="18" text-anchor="end">SARS-CoV-2</text>
<line x1="150.0" y1="1911.5" x2="155.0" y2="1911.5" stroke="#454545" stroke-width="1.1" />
<text x="145.9" y="1950.5" font-size="18" text-anchor="end">Other</text>
<line x1="150.0" y1="1944.5" x2="155.0" y2="1944.5" stroke="#454545" stroke-width="1.1" />
<text x="145.9" y="1983.3" font-size="18" text-anchor="end">HHV</text>
<line x1="150.0" y1="1976.5" x2="155.0" y2="1976.5" stroke="#454545" stroke-width="1.1" />
<text x="145.9" y="2016.1" font-size="18" text-anchor="end">HIV</text>
<line x1="150.0" y1="2009.5" x2="155.0" y2="2009.5" stroke="#454545" stroke-width="1.1" />
<text x="145.9" y="2048.9" font-size="18" text-anchor="end">Influenza</text>
<line x1="150.0" y1="2042.5" x2="155.0" y2="2042.5" stroke="#454545" stroke-width="1.1" />
<rect x="939.50" y="1971.00" width="14.20" height="87.20" fill="url(#cb)" />
<line x1="953.7" y1="2014.5" x2="963.7" y2="2014.5" stroke="#333" stroke-width="1.0" />
<text transform="translate(963.86,2020.14) scale(1.000,1)" font-size="16.3">1</text>
<line x1="953.7" y1="2057.5" x2="963.7" y2="2057.5" stroke="#333" stroke-width="1.0" />
<text transform="translate(964.46,2063.74) scale(1.000,1)" font-size="16.3">0</text>
<text transform="translate(938.63,1963.50) scale(0.934,1)" font-size="17">log</text>
<text transform="translate(959.84,1966.20) scale(1.023,1)" font-size="9.8">10</text>
<text font-size="18" text-anchor="middle" transform="translate(27.8,1984.0) rotate(-90)">Antigen</text>
<text x="155.0" y="2077.0" font-size="18">Epitopes</text>
<line x1="234.6" y1="2073.5" x2="285.0" y2="2073.5" stroke="#222" stroke-width="1.1" />
<polygon points="293.0,2073.0 278.0,2068.8 278.0,2077.2" fill="#111"/>
<text x="301.1" y="2077.0" font-size="18" textLength="225.8" lengthAdjust="spacingAndGlyphs">(18 epitopes and 313 TCRs)</text>
<text transform="translate(7.3,2097.3) scale(0.9,1)" font-size="35" font-weight="bold" fill="#1a1010" stroke="#1a1010" stroke-width="0.8" style="stroke-width:0.8px;stroke:#1a1010">m</text>
<text x="352.6" y="2115.7" font-size="19.4" font-weight="bold" textLength="399.8" lengthAdjust="spacingAndGlyphs">Unseen / Independent test / CDR3β+others</text>
<rect x="153.80" y="2124.80" width="783.50" height="175.20" fill="#f4f4f4" />
<rect x="153.80" y="2124.80" width="4.38" height="29.20" fill="#f4d3c7" />
<rect x="157.88" y="2124.80" width="4.38" height="29.20" fill="#f2bba9" />
<rect x="161.95" y="2124.80" width="4.38" height="29.20" fill="#f4d9cf" />
<rect x="166.03" y="2124.80" width="4.38" height="29.20" fill="#f4d8cd" />
<rect x="170.10" y="2124.80" width="4.38" height="29.20" fill="#f1b9a7" />
<rect x="174.18" y="2124.80" width="4.38" height="29.20" fill="#f4d2c5" />
<rect x="178.26" y="2124.80" width="4.38" height="29.20" fill="#f4d1c5" />
<rect x="182.33" y="2124.80" width="4.38" height="29.20" fill="#f3d0c4" />
<rect x="186.41" y="2124.80" width="8.45" height="29.20" fill="#f4d3c7" />
<rect x="194.56" y="2124.80" width="4.38" height="29.20" fill="#ed9881" />
<rect x="198.64" y="2124.80" width="4.38" height="29.20" fill="#f3ccbe" />
<rect x="202.71" y="2124.80" width="4.38" height="29.20" fill="#efa38c" />
<rect x="206.79" y="2124.80" width="4.38" height="29.20" fill="#f0ad98" />
<rect x="210.87" y="2124.80" width="4.38" height="29.20" fill="#f4d3c7" />
<rect x="214.94" y="2124.80" width="4.38" height="29.20" fill="#f4d7cc" />
<rect x="219.02" y="2124.80" width="4.38" height="29.20" fill="#f1b5a2" />
<rect x="223.10" y="2124.80" width="8.45" height="29.20" fill="#f4d3c7" />
<rect x="231.25" y="2124.80" width="4.38" height="29.20" fill="#f4dad0" />
<rect x="235.32" y="2124.80" width="4.38" height="29.20" fill="#f1b29f" />
<rect x="239.40" y="2124.80" width="4.38" height="29.20" fill="#f3d0c3" />
<rect x="243.48" y="2124.80" width="4.38" height="29.20" fill="#f4d1c5" />
<rect x="247.55" y="2124.80" width="4.38" height="29.20" fill="#f4d9ce" />
<rect x="251.63" y="2124.80" width="4.38" height="29.20" fill="#f0a791" />
<rect x="255.71" y="2124.80" width="4.38" height="29.20" fill="#f4d3c7" />
<rect x="259.78" y="2124.80" width="4.38" height="29.20" fill="#f4d5ca" />
<rect x="263.86" y="2124.80" width="4.38" height="29.20" fill="#f2bba9" />
<rect x="267.93" y="2124.80" width="4.38" height="29.20" fill="#f4d4c9" />
<rect x="272.01" y="2124.80" width="4.38" height="29.20" fill="#f4dad0" />
<rect x="276.09" y="2124.80" width="4.38" height="29.20" fill="#eb8972" />
<rect x="280.16" y="2124.80" width="4.38" height="29.20" fill="#f4d9ce" />
<rect x="284.24" y="2124.80" width="4.38" height="29.20" fill="#f4dad1" />
<rect x="288.32" y="2124.80" width="4.38" height="29.20" fill="#f1b6a4" />
<rect x="292.39" y="2124.80" width="4.38" height="29.20" fill="#f4d1c5" />
<rect x="296.47" y="2124.80" width="4.38" height="29.20" fill="#f4d5c9" />
<rect x="300.54" y="2124.80" width="4.38" height="29.20" fill="#f4d7cc" />
<rect x="304.62" y="2124.80" width="4.38" height="29.20" fill="#f4d8ce" />
<rect x="308.70" y="2124.80" width="8.45" height="29.20" fill="#f4d8cd" />
<rect x="316.85" y="2124.80" width="4.38" height="29.20" fill="#f1b3a0" />
<rect x="320.93" y="2124.80" width="4.38" height="29.20" fill="#f4d4c8" />
<rect x="325.00" y="2124.80" width="4.38" height="29.20" fill="#f1af9b" />
<rect x="329.08" y="2124.80" width="4.38" height="29.20" fill="#f4d8ce" />
<rect x="333.15" y="2124.80" width="4.38" height="29.20" fill="#f4dad0" />
<rect x="337.23" y="2124.80" width="4.38" height="29.20" fill="#f1b8a5" />
<rect x="341.31" y="2124.80" width="4.38" height="29.20" fill="#f1b5a2" />
<rect x="345.38" y="2124.80" width="4.38" height="29.20" fill="#f4d2c6" />
<rect x="349.46" y="2124.80" width="4.38" height="29.20" fill="#ed9983" />
<rect x="353.53" y="2124.80" width="4.38" height="29.20" fill="#f4d2c6" />
<rect x="357.61" y="2124.80" width="4.38" height="29.20" fill="#f4dbd2" />
<rect x="361.69" y="2124.80" width="4.38" height="29.20" fill="#f4d9cf" />
<rect x="365.76" y="2124.80" width="4.38" height="29.20" fill="#f4d8cd" />
<rect x="369.84" y="2124.80" width="4.38" height="29.20" fill="#f4d4c8" />
<rect x="373.92" y="2124.80" width="4.38" height="29.20" fill="#f4d5ca" />
<rect x="377.99" y="2124.80" width="4.38" height="29.20" fill="#f4d5c9" />
<rect x="382.07" y="2124.80" width="4.38" height="29.20" fill="#f2bead" />
<rect x="386.14" y="2124.80" width="4.38" height="29.20" fill="#f3d1c4" />
<rect x="390.22" y="2124.80" width="4.38" height="29.20" fill="#f3d0c3" />
<rect x="394.30" y="2124.80" width="4.38" height="29.20" fill="#ee9f89" />
<rect x="398.37" y="2124.80" width="4.38" height="29.20" fill="#f4d4c8" />
<rect x="402.45" y="2124.80" width="4.38" height="29.20" fill="#f4d2c5" />
<rect x="406.53" y="2124.80" width="4.38" height="29.20" fill="#f3d1c4" />
<rect x="410.60" y="2124.80" width="4.38" height="29.20" fill="#f1b7a5" />
<rect x="414.68" y="2124.80" width="4.38" height="29.20" fill="#f4d4c9" />
<rect x="418.75" y="2124.80" width="4.38" height="29.20" fill="#f2c0b0" />
<rect x="422.83" y="2124.80" width="4.38" height="29.20" fill="#f4d6cb" />
<rect x="426.91" y="2124.80" width="4.38" height="29.20" fill="#f3d0c4" />
<rect x="430.98" y="2124.80" width="4.38" height="29.20" fill="#f3cfc2" />
<rect x="435.06" y="2124.80" width="4.38" height="29.20" fill="#f4d8cd" />
<rect x="439.14" y="2124.80" width="4.38" height="29.20" fill="#f1b4a1" />
<rect x="443.21" y="2124.80" width="4.38" height="29.20" fill="#f4d7cc" />
<rect x="447.29" y="2124.80" width="4.38" height="29.20" fill="#f2bfae" />
<rect x="451.36" y="2124.80" width="4.38" height="29.20" fill="#f4d7cc" />
<rect x="455.44" y="2124.80" width="4.38" height="29.20" fill="#f4d5c9" />
<rect x="459.52" y="2124.80" width="4.38" height="29.20" fill="#f4d3c7" />
<rect x="463.59" y="2124.80" width="4.38" height="29.20" fill="#ed947e" />
<rect x="467.67" y="2124.80" width="4.38" height="29.20" fill="#f2c0af" />
<rect x="471.75" y="2124.80" width="4.38" height="29.20" fill="#f4d2c5" />
<rect x="475.82" y="2124.80" width="4.38" height="29.20" fill="#f4d5ca" />
<rect x="479.90" y="2124.80" width="4.38" height="29.20" fill="#f4dbd2" />
<rect x="483.97" y="2124.80" width="4.38" height="29.20" fill="#f4d8cd" />
<rect x="488.05" y="2124.80" width="4.38" height="29.20" fill="#f4d4c9" />
<rect x="492.13" y="2124.80" width="4.38" height="29.20" fill="#ec9079" />
<rect x="496.20" y="2124.80" width="4.38" height="29.20" fill="#f3d0c4" />
<rect x="500.28" y="2124.80" width="4.38" height="29.20" fill="#f3d1c5" />
<rect x="504.36" y="2124.80" width="4.38" height="29.20" fill="#ee9f89" />
<rect x="508.43" y="2124.80" width="4.38" height="29.20" fill="#f4d8cd" />
<rect x="512.51" y="2124.80" width="8.45" height="29.20" fill="#f4d3c7" />
<rect x="520.66" y="2124.80" width="4.38" height="29.20" fill="#f3d1c4" />
<rect x="524.74" y="2124.80" width="4.38" height="29.20" fill="#f4d2c6" />
<rect x="528.81" y="2124.80" width="4.38" height="29.20" fill="#f3d0c3" />
<rect x="532.89" y="2124.80" width="4.38" height="29.20" fill="#f1af9b" />
<rect x="536.97" y="2124.80" width="4.38" height="29.20" fill="#f3cec1" />
<rect x="541.04" y="2124.80" width="4.38" height="29.20" fill="#f4d2c6" />
<rect x="545.12" y="2124.80" width="4.38" height="29.20" fill="#f2bbaa" />
<rect x="549.19" y="2124.80" width="4.38" height="29.20" fill="#f4d5c9" />
<rect x="553.27" y="2124.80" width="4.38" height="29.20" fill="#f4d5ca" />
<rect x="557.35" y="2124.80" width="4.38" height="29.20" fill="#f4d6ca" />
<rect x="561.42" y="2124.80" width="4.38" height="29.20" fill="#f2c0af" />
<rect x="565.50" y="2124.80" width="4.38" height="29.20" fill="#f2c0b0" />
<rect x="569.57" y="2124.80" width="4.38" height="29.20" fill="#f4d8ce" />
<rect x="573.65" y="2124.80" width="4.38" height="29.20" fill="#f3cfc2" />
<rect x="577.73" y="2124.80" width="4.38" height="29.20" fill="#f3d0c3" />
<rect x="581.80" y="2124.80" width="4.38" height="29.20" fill="#f0a790" />
<rect x="585.88" y="2124.80" width="4.38" height="29.20" fill="#f4d1c5" />
<rect x="589.96" y="2124.80" width="4.38" height="29.20" fill="#f3d0c4" />
<rect x="594.03" y="2124.80" width="4.38" height="29.20" fill="#f4d6cb" />
<rect x="598.11" y="2124.80" width="4.38" height="29.20" fill="#f4d2c6" />
<rect x="602.18" y="2124.80" width="4.38" height="29.20" fill="#efa48e" />
<rect x="606.26" y="2124.80" width="4.38" height="29.20" fill="#f3d0c3" />
<rect x="610.34" y="2124.80" width="4.38" height="29.20" fill="#f1b8a5" />
<rect x="614.41" y="2124.80" width="4.38" height="29.20" fill="#efa18a" />
<rect x="618.49" y="2124.80" width="4.38" height="29.20" fill="#f4d7cc" />
<rect x="622.57" y="2124.80" width="4.38" height="29.20" fill="#f4d8ce" />
<rect x="626.64" y="2124.80" width="4.38" height="29.20" fill="#f2bfae" />
<rect x="630.72" y="2124.80" width="4.38" height="29.20" fill="#f4d2c6" />
<rect x="634.79" y="2124.80" width="4.38" height="29.20" fill="#f0ad98" />
<rect x="638.87" y="2124.80" width="4.38" height="29.20" fill="#f4dad0" />
<rect x="642.95" y="2124.80" width="4.38" height="29.20" fill="#f4d8cd" />
<rect x="647.02" y="2124.80" width="4.38" height="29.20" fill="#f4dad0" />
<rect x="651.10" y="2124.80" width="4.38" height="29.20" fill="#f4d4c9" />
<rect x="655.18" y="2124.80" width="4.38" height="29.20" fill="#f4d4c8" />
<rect x="659.25" y="2124.80" width="4.38" height="29.20" fill="#f4d4c9" />
<rect x="663.33" y="2124.80" width="4.38" height="29.20" fill="#ee9a84" />
<rect x="667.40" y="2124.80" width="8.45" height="29.20" fill="#f4d6cb" />
<rect x="675.56" y="2124.80" width="4.38" height="29.20" fill="#f4d4c8" />
<rect x="679.63" y="2124.80" width="4.38" height="29.20" fill="#f4d4c9" />
<rect x="683.71" y="2124.80" width="4.38" height="29.20" fill="#f4d1c5" />
<rect x="687.79" y="2124.80" width="4.38" height="29.20" fill="#f2baa8" />
<rect x="691.86" y="2124.80" width="4.38" height="29.20" fill="#f4d4c8" />
<rect x="695.94" y="2124.80" width="4.38" height="29.20" fill="#f4d7cc" />
<rect x="700.01" y="2124.80" width="4.38" height="29.20" fill="#ee9c85" />
<rect x="704.09" y="2124.80" width="4.38" height="29.20" fill="#f1b3a0" />
<rect x="708.17" y="2124.80" width="4.38" height="29.20" fill="#f4d2c6" />
<rect x="712.24" y="2124.80" width="4.38" height="29.20" fill="#f4dad0" />
<rect x="716.32" y="2124.80" width="4.38" height="29.20" fill="#f4d3c7" />
<rect x="720.40" y="2124.80" width="4.38" height="29.20" fill="#eb8c75" />
<rect x="724.47" y="2124.80" width="4.38" height="29.20" fill="#f4d1c5" />
<rect x="728.55" y="2124.80" width="4.38" height="29.20" fill="#f4d2c5" />
<rect x="732.62" y="2124.80" width="4.38" height="29.20" fill="#f4dbd1" />
<text x="145.9" y="2142.9" font-size="18" text-anchor="end">Other</text>
<line x1="148.4" y1="2139.5" x2="152.4" y2="2139.5" stroke="#555" stroke-width="1.0" />
<rect x="736.70" y="2154.00" width="4.41" height="29.20" fill="#f4d8ce" />
<rect x="740.82" y="2154.00" width="4.41" height="29.20" fill="#f4d2c6" />
<rect x="744.93" y="2154.00" width="4.41" height="29.20" fill="#f4d4c8" />
<rect x="749.05" y="2154.00" width="4.41" height="29.20" fill="#f4d5ca" />
<rect x="753.16" y="2154.00" width="4.41" height="29.20" fill="#f4d5c9" />
<rect x="757.28" y="2154.00" width="4.41" height="29.20" fill="#f4d8cd" />
<rect x="761.39" y="2154.00" width="4.41" height="29.20" fill="#f4d5c9" />
<rect x="765.50" y="2154.00" width="4.41" height="29.20" fill="#f4d7cc" />
<rect x="769.62" y="2154.00" width="4.41" height="29.20" fill="#f4dad0" />
<rect x="773.74" y="2154.00" width="4.41" height="29.20" fill="#f1af9a" />
<rect x="777.85" y="2154.00" width="4.41" height="29.20" fill="#f4dbd2" />
<rect x="781.97" y="2154.00" width="4.41" height="29.20" fill="#f4d6cb" />
<rect x="786.08" y="2154.00" width="4.41" height="29.20" fill="#f4d8ce" />
<rect x="790.20" y="2154.00" width="4.41" height="29.20" fill="#f1b7a5" />
<rect x="794.31" y="2154.00" width="4.41" height="29.20" fill="#f4d4c8" />
<rect x="798.42" y="2154.00" width="16.76" height="29.20" fill="#f4d8cd" />
<rect x="814.88" y="2154.00" width="4.41" height="29.20" fill="#f4d5ca" />
<text x="145.9" y="2172.1" font-size="18" text-anchor="end">SARS-CoV-2</text>
<line x1="148.4" y1="2168.5" x2="152.4" y2="2168.5" stroke="#555" stroke-width="1.0" />
<rect x="819.00" y="2183.20" width="4.36" height="29.20" fill="#f4d6cb" />
<rect x="823.06" y="2183.20" width="4.36" height="29.20" fill="#f4d7cc" />
<rect x="827.12" y="2183.20" width="4.36" height="29.20" fill="#f4d9cf" />
<rect x="831.17" y="2183.20" width="4.36" height="29.20" fill="#f4d7cc" />
<rect x="835.23" y="2183.20" width="4.36" height="29.20" fill="#f4d5c9" />
<rect x="839.29" y="2183.20" width="4.36" height="29.20" fill="#f4d5ca" />
<rect x="843.35" y="2183.20" width="4.36" height="29.20" fill="#f1b5a2" />
<rect x="847.41" y="2183.20" width="4.36" height="29.20" fill="#f4d7cc" />
<rect x="851.47" y="2183.20" width="4.36" height="29.20" fill="#f4d8cd" />
<rect x="855.53" y="2183.20" width="4.36" height="29.20" fill="#f4d7cc" />
<rect x="859.58" y="2183.20" width="4.36" height="29.20" fill="#f4d4c9" />
<rect x="863.64" y="2183.20" width="4.36" height="29.20" fill="#f4d8cd" />
<text x="145.9" y="2201.3" font-size="18" text-anchor="end">HHV</text>
<line x1="148.4" y1="2197.5" x2="152.4" y2="2197.5" stroke="#555" stroke-width="1.0" />
<rect x="867.70" y="2212.40" width="4.39" height="29.20" fill="#eb8972" />
<rect x="871.79" y="2212.40" width="4.39" height="29.20" fill="#ec937c" />
<rect x="875.88" y="2212.40" width="4.39" height="29.20" fill="#f2c4b5" />
<rect x="879.97" y="2212.40" width="4.39" height="29.20" fill="#e7745c" />
<rect x="884.06" y="2212.40" width="4.39" height="29.20" fill="#f2c4b5" />
<rect x="888.15" y="2212.40" width="4.39" height="29.20" fill="#f1b19e" />
<rect x="892.24" y="2212.40" width="4.39" height="29.20" fill="#d44a41" />
<rect x="896.33" y="2212.40" width="4.39" height="29.20" fill="#cb3d39" />
<rect x="900.42" y="2212.40" width="4.39" height="29.20" fill="#f2c4b5" />
<rect x="904.51" y="2212.40" width="4.39" height="29.20" fill="#f0a892" />
<text x="145.9" y="2230.5" font-size="18" text-anchor="end">Influenza</text>
<line x1="148.4" y1="2227.5" x2="152.4" y2="2227.5" stroke="#555" stroke-width="1.0" />
<rect x="908.60" y="2241.60" width="4.37" height="29.20" fill="#f0a892" />
<rect x="912.67" y="2241.60" width="4.37" height="29.20" fill="#ee9e87" />
<rect x="916.75" y="2241.60" width="4.37" height="29.20" fill="#cb3d39" />
<rect x="920.83" y="2241.60" width="4.37" height="29.20" fill="#f4d7cc" />
<text x="145.9" y="2259.7" font-size="18" text-anchor="end">Cancer</text>
<line x1="148.4" y1="2256.5" x2="152.4" y2="2256.5" stroke="#555" stroke-width="1.0" />
<rect x="924.90" y="2270.80" width="12.70" height="29.20" fill="#f4dbd2" />
<text x="145.9" y="2288.9" font-size="18" text-anchor="end">HIV</text>
<line x1="148.4" y1="2285.5" x2="152.4" y2="2285.5" stroke="#555" stroke-width="1.0" />
<rect x="651.40" y="2154.00" width="4.00" height="29.20" fill="#e7745c" />
<rect x="263.70" y="2183.20" width="4.00" height="29.20" fill="#ec937c" />
<rect x="288.00" y="2183.20" width="4.00" height="29.20" fill="#f2c4b5" />
<rect x="390.60" y="2183.20" width="4.00" height="29.20" fill="#f2c4b5" />
<rect x="541.85" y="2183.20" width="3.50" height="29.20" fill="#f4ded6" />
<rect x="235.60" y="2241.60" width="4.00" height="29.20" fill="#f3cec0" />
<rect x="643.30" y="2270.80" width="4.00" height="29.20" fill="#ec937c" />
<rect x="943.40" y="2215.30" width="14.80" height="84.10" fill="url(#cb)" />
<line x1="958.2" y1="2254.5" x2="962.2" y2="2254.5" stroke="#333" stroke-width="1.0" />
<text transform="translate(965.46,2260.64) scale(1.000,1)" font-size="16.3">1</text>
<line x1="958.2" y1="2298.5" x2="962.2" y2="2298.5" stroke="#333" stroke-width="1.0" />
<text transform="translate(966.06,2304.64) scale(1.000,1)" font-size="16.3">0</text>
<text transform="translate(937.66,2205.00) scale(0.993,1)" font-size="17">log</text>
<text transform="translate(960.80,2208.60) scale(0.931,1)" font-size="9.8">10</text>
<text font-size="18" text-anchor="middle" transform="translate(30.2,2204.0) rotate(-90)">Antigen</text>
<text x="154.5" y="2318.6" font-size="18">Epitopes</text>
<line x1="234.0" y1="2314.5" x2="284.5" y2="2314.5" stroke="#222" stroke-width="1.1" />
<polygon points="292.5,2314.2 277.5,2310.0 277.5,2318.4" fill="#111"/>
<text x="301.0" y="2318.6" font-size="18" textLength="234.5" lengthAdjust="spacingAndGlyphs">(192 epitopes and 689 TCRs)</text>
</svg>
</body></html>
